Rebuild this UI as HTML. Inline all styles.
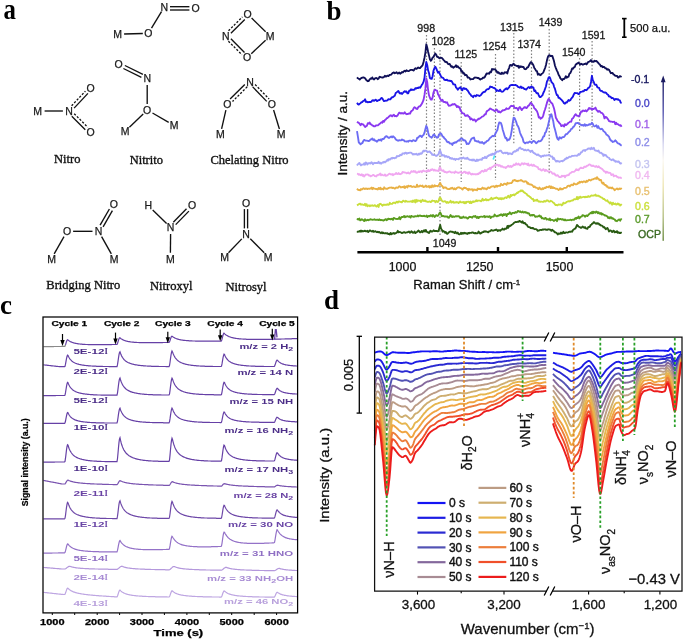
<!DOCTYPE html>
<html><head><meta charset="utf-8"><title>Figure</title><style>
html,body{margin:0;padding:0;background:#fff;}
svg{display:block;will-change:transform;filter:blur(0.3px);}
text{font-family:"Liberation Sans",sans-serif;}
.lbl{font-family:"Liberation Serif",serif;font-weight:bold;font-size:27px;fill:#000;}
.at{font-size:10.5px;text-anchor:middle;fill:#1a1a1a;stroke:#1a1a1a;stroke-width:0.25px;}
.cap{font-family:"Liberation Serif",serif;font-size:12.5px;text-anchor:middle;fill:#111;stroke:#111;stroke-width:0.35px;}
.pl{font-size:10.6px;text-anchor:middle;fill:#1a1a1a;stroke:#1a1a1a;stroke-width:0.3px;}
.bt{font-size:12.4px;text-anchor:middle;fill:#111;stroke:#111;stroke-width:0.25px;}
.bx{font-size:13px;fill:#111;stroke:#111;stroke-width:0.3px;}
.by{font-size:13.6px;text-anchor:middle;fill:#111;stroke:#111;stroke-width:0.3px;}
.sb{font-size:11.2px;fill:#111;stroke:#111;stroke-width:0.25px;}
.pv{font-size:10.6px;stroke-width:0.35px;}
.ct{font-size:8.3px;font-weight:bold;text-anchor:middle;fill:#000;stroke:#000;stroke-width:0.25px;}
.cx{font-size:8.6px;font-weight:bold;text-anchor:middle;fill:#000;stroke:#000;stroke-width:0.25px;}
.cy{font-size:9.8px;font-weight:bold;text-anchor:middle;fill:#000;stroke:#000;stroke-width:0.25px;}
.cc{font-size:7.6px;font-weight:bold;text-anchor:middle;fill:#000;stroke:#000;stroke-width:0.25px;}
.cs{font-size:7.7px;font-weight:bold;}
.cr{font-size:7.6px;font-weight:bold;text-anchor:end;}
.dt{font-size:13.4px;text-anchor:middle;fill:#111;stroke:#111;stroke-width:0.3px;}
.dx{font-size:15px;text-anchor:middle;fill:#111;stroke:#111;stroke-width:0.3px;}
.dy{font-size:13px;text-anchor:middle;fill:#111;stroke:#111;stroke-width:0.3px;}
.ds{font-size:12.9px;text-anchor:middle;fill:#111;stroke:#111;stroke-width:0.3px;}
.dr{font-size:14.5px;text-anchor:middle;fill:#111;stroke:#111;stroke-width:0.3px;}
.dv{font-size:14.8px;text-anchor:end;fill:#111;stroke:#111;stroke-width:0.3px;}
.dl{font-size:12px;fill:#111;stroke:#111;stroke-width:0.4px;}
</style></head><body>
<svg width="685" height="641" viewBox="0 0 685 641">
<text transform="translate(3.4,19.1) scale(0.92,1.09)" class="lbl">a</text>
<text x="326.6" y="19.5" class="lbl">b</text>
<text x="0" y="314" class="lbl">c</text>
<text x="324" y="308.5" class="lbl">d</text>
<text x="117.5" y="38.0" class="at">M</text>
<text x="148.4" y="37.2" class="at">O</text>
<text x="164.4" y="10.6" class="at">N</text>
<text x="195.5" y="12.2" class="at">O</text>
<line x1="124.1" y1="34.0" x2="142.8" y2="33.5" stroke="#111" stroke-width="1.35"/>
<line x1="151.5" y1="28.2" x2="161.5" y2="11.6" stroke="#111" stroke-width="1.35"/>
<line x1="170.0" y1="6.7" x2="189.4" y2="6.7" stroke="#111" stroke-width="1.35"/>
<line x1="170.0" y1="10.0" x2="189.4" y2="10.0" stroke="#111" stroke-width="1.35"/>
<text x="247.6" y="18.0" class="at">O</text>
<text x="225.7" y="39.8" class="at">N</text>
<text x="270.0" y="39.8" class="at">M</text>
<text x="247.2" y="61.4" class="at">O</text>
<line x1="230.9" y1="33.3" x2="244.8" y2="19.4" stroke="#111" stroke-width="1.35"/><line x1="228.5" y1="30.8" x2="242.4" y2="16.9" stroke="#111" stroke-width="1.3" stroke-dasharray="2.2 1.6"/>
<line x1="230.9" y1="38.8" x2="244.5" y2="52.4" stroke="#111" stroke-width="1.35"/><line x1="228.4" y1="41.2" x2="242.0" y2="54.8" stroke="#111" stroke-width="1.3" stroke-dasharray="2.2 1.6"/>
<line x1="251.6" y1="18.1" x2="265.6" y2="31.7" stroke="#111" stroke-width="1.35"/>
<line x1="251.3" y1="53.7" x2="265.6" y2="40.2" stroke="#111" stroke-width="1.35"/>
<text x="37.5" y="114.8" class="at">M</text>
<text x="69.0" y="114.8" class="at">N</text>
<text x="90.5" y="92.0" class="at">O</text>
<text x="90.5" y="136.2" class="at">O</text>
<line x1="44.6" y1="111.0" x2="62.9" y2="111.0" stroke="#111" stroke-width="1.35"/>
<line x1="74.1" y1="108.1" x2="87.9" y2="93.4" stroke="#111" stroke-width="1.35"/><line x1="71.6" y1="105.8" x2="85.4" y2="91.1" stroke="#111" stroke-width="1.3" stroke-dasharray="2.2 1.6"/>
<line x1="71.8" y1="116.2" x2="85.3" y2="129.7" stroke="#111" stroke-width="1.35"/><line x1="74.2" y1="113.7" x2="87.7" y2="127.2" stroke="#111" stroke-width="1.3" stroke-dasharray="2.2 1.6"/>
<text x="118.7" y="68.1" class="at">O</text>
<text x="147.2" y="82.2" class="at">N</text>
<text x="147.2" y="113.8" class="at">O</text>
<text x="125.0" y="135.4" class="at">M</text>
<text x="174.0" y="129.2" class="at">M</text>
<line x1="124.9" y1="65.5" x2="142.9" y2="74.4" stroke="#111" stroke-width="1.35"/><line x1="123.4" y1="68.5" x2="141.4" y2="77.4" stroke="#111" stroke-width="1.35"/>
<line x1="147.2" y1="85.0" x2="147.2" y2="103.9" stroke="#111" stroke-width="1.35"/>
<line x1="143.2" y1="113.9" x2="129.4" y2="127.3" stroke="#111" stroke-width="1.35"/>
<line x1="152.5" y1="113.0" x2="168.7" y2="122.4" stroke="#111" stroke-width="1.35"/>
<text x="250.0" y="85.5" class="at">N</text>
<text x="227.3" y="108.0" class="at">O</text>
<text x="271.8" y="108.0" class="at">O</text>
<text x="220.3" y="138.2" class="at">M</text>
<text x="281.0" y="138.2" class="at">M</text>
<line x1="244.8" y1="84.4" x2="230.1" y2="99.1" stroke="#111" stroke-width="1.35"/><line x1="247.2" y1="86.8" x2="232.5" y2="101.5" stroke="#111" stroke-width="1.3" stroke-dasharray="2.2 1.6"/>
<line x1="252.7" y1="86.9" x2="266.7" y2="101.4" stroke="#111" stroke-width="1.35"/><line x1="255.1" y1="84.5" x2="269.1" y2="99.0" stroke="#111" stroke-width="1.3" stroke-dasharray="2.2 1.6"/>
<line x1="225.9" y1="110.1" x2="221.6" y2="128.9" stroke="#111" stroke-width="1.35"/>
<line x1="273.6" y1="110.0" x2="279.4" y2="129.0" stroke="#111" stroke-width="1.35"/>
<text x="113.9" y="208.3" class="at">O</text>
<text x="98.6" y="235.1" class="at">N</text>
<text x="67.0" y="235.1" class="at">O</text>
<text x="51.5" y="262.6" class="at">M</text>
<text x="114.0" y="262.6" class="at">M</text>
<line x1="100.1" y1="225.2" x2="109.4" y2="209.0" stroke="#111" stroke-width="1.35"/><line x1="103.1" y1="226.8" x2="112.4" y2="210.6" stroke="#111" stroke-width="1.35"/>
<line x1="73.1" y1="231.3" x2="92.5" y2="231.3" stroke="#111" stroke-width="1.35"/>
<line x1="64.0" y1="236.6" x2="54.2" y2="253.9" stroke="#111" stroke-width="1.35"/>
<line x1="101.6" y1="236.6" x2="111.3" y2="253.9" stroke="#111" stroke-width="1.35"/>
<text x="148.3" y="209.4" class="at">H</text>
<text x="192.0" y="209.4" class="at">O</text>
<text x="170.6" y="231.2" class="at">N</text>
<text x="170.4" y="262.6" class="at">M</text>
<line x1="152.7" y1="209.9" x2="166.6" y2="223.5" stroke="#111" stroke-width="1.35"/>
<line x1="173.3" y1="222.2" x2="186.5" y2="208.8" stroke="#111" stroke-width="1.35"/><line x1="175.7" y1="224.6" x2="188.9" y2="211.1" stroke="#111" stroke-width="1.35"/>
<line x1="170.6" y1="234.0" x2="170.4" y2="252.7" stroke="#111" stroke-width="1.35"/>
<text x="246.0" y="206.8" class="at">O</text>
<text x="246.0" y="238.3" class="at">N</text>
<text x="224.6" y="260.5" class="at">M</text>
<text x="268.2" y="260.5" class="at">M</text>
<line x1="247.6" y1="209.1" x2="247.6" y2="228.4" stroke="#111" stroke-width="1.35"/><line x1="244.4" y1="209.1" x2="244.4" y2="228.4" stroke="#111" stroke-width="1.35"/>
<line x1="241.8" y1="238.9" x2="228.5" y2="252.7" stroke="#111" stroke-width="1.35"/>
<line x1="250.3" y1="238.8" x2="264.2" y2="252.7" stroke="#111" stroke-width="1.35"/>
<text x="67.2" y="163" class="cap">Nitro</text>
<text x="146.3" y="163.5" class="cap">Nitrito</text>
<text x="249.5" y="163.6" class="cap">Chelating Nitro</text>
<text x="83.3" y="289" class="cap">Bridging Nitro</text>
<text x="171.2" y="290.4" class="cap">Nitroxyl</text>
<text x="246" y="291.2" class="cap">Nitrosyl</text>
<line x1="426.5" y1="35" x2="426.5" y2="180" stroke="#808080" stroke-width="1.2" stroke-dasharray="1.5 1.9"/>
<line x1="434.4" y1="48" x2="434.4" y2="156" stroke="#808080" stroke-width="1.2" stroke-dasharray="1.5 1.9"/>
<line x1="440" y1="50" x2="440" y2="237" stroke="#808080" stroke-width="1.2" stroke-dasharray="1.5 1.9"/>
<line x1="461.2" y1="62" x2="461.2" y2="182" stroke="#808080" stroke-width="1.2" stroke-dasharray="1.5 1.9"/>
<line x1="495.5" y1="54" x2="495.5" y2="180" stroke="#808080" stroke-width="1.2" stroke-dasharray="1.5 1.9"/>
<line x1="513.8" y1="33" x2="513.8" y2="145" stroke="#808080" stroke-width="1.2" stroke-dasharray="1.5 1.9"/>
<line x1="531.5" y1="50" x2="531.5" y2="145" stroke="#808080" stroke-width="1.2" stroke-dasharray="1.5 1.9"/>
<line x1="549.2" y1="29" x2="549.2" y2="175" stroke="#808080" stroke-width="1.2" stroke-dasharray="1.5 1.9"/>
<line x1="579.6" y1="58" x2="579.6" y2="131" stroke="#808080" stroke-width="1.2" stroke-dasharray="1.5 1.9"/>
<line x1="592.1" y1="41" x2="592.1" y2="129" stroke="#808080" stroke-width="1.2" stroke-dasharray="1.5 1.9"/>
<polyline fill="none" stroke="#101058" stroke-width="1.85" stroke-linejoin="round" points="357.0,77.3 357.9,78.3 358.8,78.8 359.7,79.5 360.6,78.6 361.5,78.0 362.4,77.7 363.3,77.4 364.2,77.7 365.1,78.3 366.0,79.6 366.9,80.6 367.8,81.2 368.7,81.0 369.6,79.5 370.5,78.5 371.4,78.8 372.3,77.4 373.2,78.9 374.1,79.5 375.0,78.4 375.9,78.0 376.8,78.2 377.7,79.2 378.6,78.6 379.5,76.8 380.4,77.0 381.3,77.4 382.2,77.5 383.1,77.5 384.0,77.0 384.9,75.7 385.8,76.6 386.7,76.1 387.6,75.7 388.5,76.1 389.4,75.0 390.3,74.8 391.2,74.6 392.1,73.5 393.0,72.8 393.9,72.4 394.8,73.2 395.7,72.8 396.6,72.2 397.5,73.5 398.4,73.3 399.3,72.5 400.2,73.7 401.1,73.1 402.0,72.0 402.9,72.5 403.8,71.2 404.7,70.7 405.6,71.5 406.5,70.2 407.4,70.9 408.3,71.1 409.2,70.9 410.1,70.1 411.0,69.8 411.9,69.8 412.8,70.2 413.7,70.5 414.6,69.0 415.5,68.3 416.4,68.9 417.3,68.3 418.2,67.5 419.1,68.1 420.0,68.1 420.9,67.0 421.8,66.2 422.7,65.0 423.6,61.8 424.5,57.7 425.4,52.6 426.3,44.3 427.2,47.5 428.1,51.8 429.0,55.4 429.9,59.2 430.8,60.8 431.7,59.7 432.6,57.5 433.5,57.0 434.4,55.1 435.3,53.5 436.2,54.7 437.1,56.8 438.0,57.0 438.9,57.9 439.8,58.3 440.7,57.6 441.6,57.8 442.5,58.6 443.4,59.8 444.3,60.7 445.2,61.8 446.1,62.0 447.0,62.2 447.9,63.9 448.8,64.2 449.7,64.0 450.6,65.6 451.5,66.9 452.4,66.4 453.3,67.8 454.2,67.0 455.1,66.6 456.0,65.2 456.9,67.0 457.8,66.3 458.7,67.6 459.6,68.0 460.5,68.8 461.4,71.6 462.3,71.2 463.2,73.5 464.1,73.2 465.0,75.2 465.9,74.8 466.8,75.3 467.7,77.6 468.6,77.5 469.5,78.1 470.4,79.5 471.3,79.1 472.2,79.2 473.1,79.1 474.0,78.1 474.9,77.5 475.8,77.6 476.7,77.7 477.6,78.1 478.5,77.9 479.4,78.9 480.3,79.6 481.2,78.8 482.1,78.8 483.0,77.6 483.9,77.8 484.8,77.0 485.7,75.2 486.6,73.5 487.5,73.7 488.4,73.3 489.3,73.7 490.2,71.8 491.1,72.2 492.0,68.9 492.9,69.6 493.8,69.2 494.7,69.3 495.6,69.9 496.5,71.0 497.4,72.7 498.3,72.1 499.2,73.6 500.1,73.4 501.0,74.1 501.9,72.6 502.8,73.8 503.7,73.7 504.6,72.3 505.5,72.5 506.4,72.1 507.3,73.4 508.2,69.9 509.1,68.1 510.0,65.1 510.9,64.9 511.8,65.8 512.7,64.7 513.6,63.7 514.5,65.0 515.4,65.3 516.3,65.8 517.2,66.3 518.1,65.8 519.0,67.9 519.9,66.1 520.8,67.1 521.7,66.4 522.6,67.1 523.5,67.0 524.4,68.8 525.3,69.2 526.2,68.9 527.1,67.5 528.0,67.4 528.9,65.5 529.8,63.7 530.7,62.1 531.6,62.5 532.5,63.7 533.4,65.2 534.3,68.0 535.2,69.1 536.1,70.9 537.0,71.2 537.9,74.7 538.8,73.8 539.7,74.9 540.6,75.2 541.5,73.9 542.4,73.5 543.3,72.5 544.2,70.2 545.1,68.0 546.0,64.9 546.9,60.6 547.8,57.2 548.7,55.3 549.6,55.2 550.5,56.1 551.4,55.8 552.3,55.9 553.2,58.6 554.1,61.6 555.0,65.7 555.9,68.1 556.8,70.3 557.7,72.1 558.6,74.8 559.5,76.2 560.4,78.4 561.3,79.2 562.2,80.2 563.1,78.9 564.0,79.0 564.9,78.1 565.8,76.2 566.7,77.7 567.6,77.0 568.5,76.7 569.4,73.8 570.3,73.1 571.2,71.1 572.1,68.5 573.0,68.8 573.9,67.3 574.8,67.0 575.7,64.5 576.6,63.9 577.5,63.4 578.4,62.6 579.3,63.6 580.2,64.5 581.1,63.8 582.0,64.2 582.9,64.7 583.8,64.2 584.7,64.0 585.6,63.4 586.5,64.4 587.4,63.1 588.3,61.9 589.2,61.6 590.1,61.2 591.0,60.1 591.9,61.7 592.8,61.5 593.7,61.8 594.6,60.7 595.5,61.2 596.4,60.9 597.3,62.0 598.2,62.8 599.1,63.8 600.0,64.7 600.9,66.4 601.8,65.9 602.7,67.2 603.6,66.8 604.5,67.2 605.4,68.4 606.3,68.4 607.2,69.7 608.1,69.3 609.0,69.8 609.9,71.4 610.8,73.2 611.7,73.0 612.6,72.9 613.5,74.4 614.4,74.8 615.3,75.8 616.2,75.8 617.1,76.0 618.0,77.5 618.9,77.3 619.8,76.1 620.7,76.4 621.6,77.0"/>
<polyline fill="none" stroke="#1a14e6" stroke-width="1.85" stroke-linejoin="round" points="357.0,102.8 357.9,104.1 358.8,104.6 359.7,103.7 360.6,103.2 361.5,102.2 362.4,102.0 363.3,100.8 364.2,100.8 365.1,99.3 366.0,102.0 366.9,101.6 367.8,102.4 368.7,102.0 369.6,101.9 370.5,102.1 371.4,101.7 372.3,100.4 373.2,100.2 374.1,100.9 375.0,100.1 375.9,99.7 376.8,101.1 377.7,100.8 378.6,100.1 379.5,100.0 380.4,99.1 381.3,98.0 382.2,98.1 383.1,99.8 384.0,101.1 384.9,100.9 385.8,100.6 386.7,100.7 387.6,100.2 388.5,99.1 389.4,99.3 390.3,99.4 391.2,98.1 392.1,97.2 393.0,97.2 393.9,96.3 394.8,95.7 395.7,93.0 396.6,92.4 397.5,91.6 398.4,91.0 399.3,92.7 400.2,93.5 401.1,92.9 402.0,94.0 402.9,93.0 403.8,91.9 404.7,91.2 405.6,91.9 406.5,91.4 407.4,93.4 408.3,93.3 409.2,90.7 410.1,90.5 411.0,89.3 411.9,90.0 412.8,89.6 413.7,89.8 414.6,89.6 415.5,88.1 416.4,88.5 417.3,87.8 418.2,88.1 419.1,87.3 420.0,87.8 420.9,86.7 421.8,84.9 422.7,83.7 423.6,81.7 424.5,77.8 425.4,68.5 426.3,61.9 427.2,64.9 428.1,70.3 429.0,73.0 429.9,78.0 430.8,78.7 431.7,78.9 432.6,76.2 433.5,70.6 434.4,68.2 435.3,66.7 436.2,68.4 437.1,70.7 438.0,72.7 438.9,71.8 439.8,73.8 440.7,75.7 441.6,77.3 442.5,77.7 443.4,78.1 444.3,79.7 445.2,80.0 446.1,80.0 447.0,79.7 447.9,80.6 448.8,80.7 449.7,80.7 450.6,81.0 451.5,81.0 452.4,82.4 453.3,84.3 454.2,84.3 455.1,84.6 456.0,87.6 456.9,88.2 457.8,89.7 458.7,88.4 459.6,87.8 460.5,87.2 461.4,89.2 462.3,90.3 463.2,88.1 464.1,88.1 465.0,89.0 465.9,88.6 466.8,89.7 467.7,90.5 468.6,91.9 469.5,93.7 470.4,94.2 471.3,95.9 472.2,96.2 473.1,97.2 474.0,95.6 474.9,95.6 475.8,96.4 476.7,95.0 477.6,95.4 478.5,95.5 479.4,96.0 480.3,95.4 481.2,94.8 482.1,93.3 483.0,92.3 483.9,92.0 484.8,91.9 485.7,90.7 486.6,89.7 487.5,89.1 488.4,89.2 489.3,88.3 490.2,86.5 491.1,87.0 492.0,86.9 492.9,87.6 493.8,88.0 494.7,88.2 495.6,89.0 496.5,91.1 497.4,90.3 498.3,90.8 499.2,91.1 500.1,89.6 501.0,91.2 501.9,91.8 502.8,91.7 503.7,90.8 504.6,89.6 505.5,89.1 506.4,88.3 507.3,89.3 508.2,88.2 509.1,87.4 510.0,85.5 510.9,85.1 511.8,85.0 512.7,85.0 513.6,85.2 514.5,85.1 515.4,84.9 516.3,85.4 517.2,85.8 518.1,87.0 519.0,87.2 519.9,87.7 520.8,86.5 521.7,88.0 522.6,87.4 523.5,88.1 524.4,89.0 525.3,89.1 526.2,89.6 527.1,88.5 528.0,87.5 528.9,87.0 529.8,88.1 530.7,87.1 531.6,86.4 532.5,87.5 533.4,87.5 534.3,91.1 535.2,90.4 536.1,92.5 537.0,93.3 537.9,93.2 538.8,95.5 539.7,97.1 540.6,97.1 541.5,96.2 542.4,95.3 543.3,93.0 544.2,91.1 545.1,88.7 546.0,86.2 546.9,81.7 547.8,79.8 548.7,77.3 549.6,77.1 550.5,79.2 551.4,81.8 552.3,82.9 553.2,83.8 554.1,86.8 555.0,88.9 555.9,92.2 556.8,95.0 557.7,95.2 558.6,97.9 559.5,97.8 560.4,99.0 561.3,99.6 562.2,100.6 563.1,101.8 564.0,103.3 564.9,103.8 565.8,102.4 566.7,102.6 567.6,101.4 568.5,100.0 569.4,100.8 570.3,100.3 571.2,98.6 572.1,97.7 573.0,96.4 573.9,94.2 574.8,92.9 575.7,93.2 576.6,93.1 577.5,93.2 578.4,94.0 579.3,93.9 580.2,91.8 581.1,91.8 582.0,91.6 582.9,91.2 583.8,91.2 584.7,89.9 585.6,90.0 586.5,90.2 587.4,89.1 588.3,87.8 589.2,87.6 590.1,86.1 591.0,82.0 591.9,75.8 592.8,80.1 593.7,81.9 594.6,84.4 595.5,84.8 596.4,84.7 597.3,87.1 598.2,87.6 599.1,87.9 600.0,90.3 600.9,90.9 601.8,90.8 602.7,91.8 603.6,92.3 604.5,92.5 605.4,92.4 606.3,93.1 607.2,94.3 608.1,94.8 609.0,96.5 609.9,96.4 610.8,97.1 611.7,98.2 612.6,98.0 613.5,98.6 614.4,100.0 615.3,99.2 616.2,98.9 617.1,99.5 618.0,99.2 618.9,100.0 619.8,100.4 620.7,102.7 621.6,103.0"/>
<polyline fill="none" stroke="#8a38f0" stroke-width="1.85" stroke-linejoin="round" points="357.0,121.7 357.9,122.4 358.8,122.9 359.7,123.9 360.6,125.2 361.5,123.7 362.4,124.3 363.3,124.4 364.2,125.8 365.1,127.0 366.0,126.2 366.9,125.8 367.8,123.2 368.7,123.6 369.6,122.5 370.5,124.3 371.4,124.4 372.3,125.5 373.2,125.7 374.1,126.4 375.0,126.3 375.9,125.5 376.8,125.3 377.7,125.4 378.6,124.7 379.5,123.9 380.4,123.2 381.3,122.3 382.2,122.8 383.1,120.9 384.0,121.8 384.9,120.1 385.8,119.5 386.7,118.2 387.6,118.0 388.5,117.0 389.4,116.3 390.3,115.3 391.2,115.5 392.1,116.4 393.0,115.3 393.9,114.7 394.8,116.2 395.7,116.0 396.6,116.3 397.5,115.6 398.4,114.1 399.3,112.6 400.2,113.2 401.1,113.6 402.0,113.0 402.9,113.5 403.8,113.5 404.7,112.3 405.6,113.6 406.5,114.2 407.4,114.0 408.3,113.9 409.2,113.4 410.1,113.5 411.0,111.5 411.9,110.7 412.8,110.2 413.7,108.2 414.6,107.2 415.5,107.7 416.4,108.9 417.3,109.0 418.2,107.3 419.1,106.3 420.0,106.3 420.9,105.2 421.8,103.7 422.7,102.0 423.6,99.6 424.5,94.9 425.4,88.7 426.3,78.5 427.2,81.9 428.1,90.0 429.0,95.3 429.9,97.8 430.8,99.5 431.7,99.6 432.6,97.4 433.5,92.5 434.4,90.2 435.3,89.8 436.2,90.4 437.1,90.6 438.0,94.3 438.9,95.6 439.8,97.9 440.7,99.7 441.6,100.8 442.5,99.8 443.4,101.9 444.3,102.0 445.2,102.0 446.1,102.7 447.0,102.2 447.9,104.2 448.8,105.8 449.7,105.6 450.6,105.5 451.5,104.9 452.4,104.2 453.3,104.5 454.2,104.0 455.1,104.3 456.0,105.4 456.9,107.0 457.8,106.1 458.7,107.4 459.6,107.2 460.5,110.6 461.4,111.6 462.3,113.2 463.2,113.4 464.1,113.7 465.0,115.6 465.9,116.0 466.8,115.3 467.7,115.2 468.6,116.7 469.5,116.9 470.4,119.5 471.3,118.4 472.2,119.4 473.1,120.2 474.0,119.4 474.9,119.9 475.8,121.5 476.7,120.3 477.6,119.8 478.5,118.7 479.4,118.9 480.3,118.1 481.2,117.4 482.1,116.6 483.0,116.4 483.9,115.6 484.8,114.3 485.7,114.4 486.6,111.5 487.5,110.7 488.4,110.2 489.3,109.5 490.2,108.4 491.1,109.0 492.0,109.6 492.9,109.8 493.8,110.4 494.7,111.1 495.6,110.7 496.5,109.5 497.4,110.4 498.3,112.1 499.2,111.4 500.1,112.5 501.0,111.9 501.9,111.0 502.8,110.2 503.7,110.3 504.6,109.9 505.5,109.6 506.4,108.3 507.3,108.9 508.2,108.9 509.1,108.4 510.0,107.0 510.9,106.0 511.8,105.8 512.7,106.1 513.6,106.0 514.5,107.7 515.4,108.2 516.3,107.9 517.2,108.3 518.1,110.2 519.0,107.8 519.9,107.1 520.8,108.5 521.7,110.1 522.6,108.8 523.5,108.3 524.4,107.2 525.3,107.2 526.2,108.1 527.1,107.6 528.0,106.1 528.9,105.4 529.8,104.1 530.7,102.7 531.6,103.5 532.5,104.8 533.4,105.7 534.3,108.3 535.2,108.9 536.1,110.1 537.0,111.3 537.9,113.8 538.8,117.5 539.7,117.2 540.6,118.8 541.5,118.1 542.4,117.4 543.3,115.3 544.2,111.8 545.1,109.3 546.0,106.3 546.9,102.9 547.8,100.2 548.7,98.9 549.6,100.1 550.5,101.8 551.4,102.9 552.3,103.6 553.2,106.0 554.1,108.7 555.0,112.9 555.9,117.8 556.8,119.3 557.7,121.1 558.6,121.9 559.5,123.3 560.4,124.0 561.3,126.1 562.2,125.6 563.1,125.2 564.0,126.6 564.9,124.1 565.8,125.1 566.7,124.6 567.6,123.8 568.5,122.7 569.4,122.2 570.3,121.6 571.2,121.7 572.1,118.7 573.0,118.2 573.9,116.8 574.8,115.1 575.7,114.2 576.6,115.6 577.5,115.6 578.4,116.4 579.3,115.8 580.2,113.8 581.1,111.5 582.0,111.7 582.9,110.5 583.8,110.8 584.7,111.1 585.6,110.3 586.5,111.4 587.4,110.5 588.3,109.2 589.2,107.9 590.1,108.8 591.0,108.3 591.9,109.8 592.8,108.7 593.7,109.1 594.6,108.5 595.5,107.6 596.4,109.9 597.3,110.7 598.2,111.8 599.1,110.9 600.0,111.6 600.9,112.8 601.8,112.8 602.7,113.7 603.6,115.1 604.5,118.4 605.4,116.9 606.3,117.1 607.2,118.2 608.1,119.4 609.0,121.0 609.9,121.3 610.8,121.7 611.7,121.6 612.6,122.0 613.5,121.9 614.4,121.7 615.3,124.2 616.2,122.8 617.1,124.2 618.0,124.1 618.9,125.0 619.8,125.5 620.7,125.2 621.6,126.7"/>
<polyline fill="none" stroke="#6c6cf4" stroke-width="1.85" stroke-linejoin="round" points="357.0,131.1 357.9,136.7 358.8,142.5 359.7,143.3 360.6,144.3 361.5,143.3 362.4,143.0 363.3,141.0 364.2,139.9 365.1,140.4 366.0,140.7 366.9,140.6 367.8,140.8 368.7,141.1 369.6,140.6 370.5,139.5 371.4,139.3 372.3,138.4 373.2,140.2 374.1,139.3 375.0,140.7 375.9,140.7 376.8,141.7 377.7,141.0 378.6,139.8 379.5,140.3 380.4,139.4 381.3,140.8 382.2,138.9 383.1,139.1 384.0,138.6 384.9,137.3 385.8,136.5 386.7,136.2 387.6,136.9 388.5,137.9 389.4,137.8 390.3,137.1 391.2,136.4 392.1,137.4 393.0,136.2 393.9,137.1 394.8,137.7 395.7,139.4 396.6,139.9 397.5,140.5 398.4,140.7 399.3,140.1 400.2,140.3 401.1,140.3 402.0,139.4 402.9,140.1 403.8,140.2 404.7,141.3 405.6,141.4 406.5,141.6 407.4,141.2 408.3,141.7 409.2,140.6 410.1,140.7 411.0,140.8 411.9,141.4 412.8,140.5 413.7,140.2 414.6,140.8 415.5,141.0 416.4,140.2 417.3,137.6 418.2,137.6 419.1,136.5 420.0,135.7 420.9,136.0 421.8,137.1 422.7,135.6 423.6,134.8 424.5,132.7 425.4,129.0 426.3,125.8 427.2,127.9 428.1,132.3 429.0,135.7 429.9,136.6 430.8,137.0 431.7,137.7 432.6,136.3 433.5,134.7 434.4,134.6 435.3,136.3 436.2,137.0 437.1,137.7 438.0,137.4 438.9,134.6 439.8,133.9 440.7,133.2 441.6,134.4 442.5,136.5 443.4,136.6 444.3,138.2 445.2,139.0 446.1,140.0 447.0,141.7 447.9,142.2 448.8,142.0 449.7,143.4 450.6,143.5 451.5,143.7 452.4,145.0 453.3,142.8 454.2,143.0 455.1,142.1 456.0,142.6 456.9,141.7 457.8,140.9 458.7,140.3 459.6,140.5 460.5,138.8 461.4,138.6 462.3,138.5 463.2,140.4 464.1,140.1 465.0,140.4 465.9,141.6 466.8,144.1 467.7,143.4 468.6,144.0 469.5,142.7 470.4,140.8 471.3,139.0 472.2,138.3 473.1,138.0 474.0,137.4 474.9,140.8 475.8,140.9 476.7,141.3 477.6,141.5 478.5,141.2 479.4,142.5 480.3,142.3 481.2,142.9 482.1,142.0 483.0,143.0 483.9,143.8 484.8,142.4 485.7,142.5 486.6,141.2 487.5,140.9 488.4,140.3 489.3,139.0 490.2,137.8 491.1,137.2 492.0,136.3 492.9,135.8 493.8,136.2 494.7,135.4 495.6,133.2 496.5,131.5 497.4,130.1 498.3,125.6 499.2,122.5 500.1,122.7 501.0,123.1 501.9,125.9 502.8,130.0 503.7,132.7 504.6,135.9 505.5,138.3 506.4,138.0 507.3,140.6 508.2,139.6 509.1,139.8 510.0,138.2 510.9,135.2 511.8,130.0 512.7,123.2 513.6,117.6 514.5,118.0 515.4,120.0 516.3,122.2 517.2,125.2 518.1,126.3 519.0,128.6 519.9,132.2 520.8,134.7 521.7,136.5 522.6,138.1 523.5,141.8 524.4,142.7 525.3,143.4 526.2,142.6 527.1,142.4 528.0,142.9 528.9,142.1 529.8,141.5 530.7,142.0 531.6,143.0 532.5,141.8 533.4,141.0 534.3,141.2 535.2,141.9 536.1,143.3 537.0,142.7 537.9,141.7 538.8,141.0 539.7,141.4 540.6,141.2 541.5,140.2 542.4,138.7 543.3,136.5 544.2,136.3 545.1,132.7 546.0,132.1 546.9,128.8 547.8,126.5 548.7,122.4 549.6,118.6 550.5,114.7 551.4,114.3 552.3,117.8 553.2,120.9 554.1,126.6 555.0,129.5 555.9,133.0 556.8,137.0 557.7,139.0 558.6,139.8 559.5,137.3 560.4,137.7 561.3,138.5 562.2,137.2 563.1,137.1 564.0,137.1 564.9,135.7 565.8,134.1 566.7,134.2 567.6,133.5 568.5,132.3 569.4,131.4 570.3,130.7 571.2,128.9 572.1,128.7 573.0,127.1 573.9,126.6 574.8,125.2 575.7,123.2 576.6,123.2 577.5,123.0 578.4,123.0 579.3,124.1 580.2,124.3 581.1,125.0 582.0,125.3 582.9,125.0 583.8,125.7 584.7,124.1 585.6,125.7 586.5,124.9 587.4,125.4 588.3,125.0 589.2,124.2 590.1,124.5 591.0,124.2 591.9,122.8 592.8,123.9 593.7,125.8 594.6,126.4 595.5,126.0 596.4,125.3 597.3,127.8 598.2,126.1 599.1,128.2 600.0,128.7 600.9,129.3 601.8,128.8 602.7,129.6 603.6,131.3 604.5,131.8 605.4,132.7 606.3,134.4 607.2,135.1 608.1,135.8 609.0,136.7 609.9,139.1 610.8,140.4 611.7,140.9 612.6,142.0 613.5,141.7 614.4,141.4 615.3,140.3 616.2,141.2 617.1,142.5 618.0,143.4 618.9,143.6 619.8,144.1 620.7,145.1 621.6,145.7"/>
<polyline fill="none" stroke="#a6a6f8" stroke-width="1.85" stroke-linejoin="round" points="357.0,165.5 357.8,164.2 358.6,163.7 359.4,162.9 360.2,164.5 361.0,165.4 361.8,164.5 362.6,164.6 363.4,164.6 364.2,163.2 365.0,164.7 365.8,162.4 366.6,163.0 367.4,164.5 368.2,163.2 369.0,163.4 369.8,163.0 370.6,163.5 371.4,162.2 372.2,163.0 373.0,164.2 373.8,163.2 374.6,162.8 375.4,163.0 376.2,163.0 377.0,162.8 377.8,163.0 378.6,161.8 379.4,163.2 380.2,162.7 381.0,163.7 381.8,163.1 382.6,162.3 383.4,162.6 384.2,161.7 385.0,162.4 385.8,161.4 386.6,161.3 387.4,159.6 388.2,160.5 389.0,159.0 389.8,159.6 390.6,159.1 391.4,157.9 392.2,158.5 393.0,157.8 393.8,158.0 394.6,158.3 395.4,157.7 396.2,157.7 397.0,156.0 397.8,156.4 398.6,156.0 399.4,156.0 400.2,154.8 401.0,155.2 401.8,154.8 402.6,153.3 403.4,153.3 404.2,153.8 405.0,152.8 405.8,152.6 406.6,153.7 407.4,153.3 408.2,152.9 409.0,153.0 409.8,152.7 410.6,152.6 411.4,152.9 412.2,153.7 413.0,154.6 413.8,153.9 414.6,154.4 415.4,154.3 416.2,153.7 417.0,154.6 417.8,154.9 418.6,153.7 419.4,154.4 420.2,153.3 421.0,153.9 421.8,153.5 422.6,152.0 423.4,150.6 424.2,151.2 425.0,150.6 425.8,150.6 426.6,151.2 427.4,152.2 428.2,151.6 429.0,151.8 429.8,151.4 430.6,152.8 431.4,153.1 432.2,154.8 433.0,154.7 433.8,155.1 434.6,155.2 435.4,155.3 436.2,156.0 437.0,155.6 437.8,154.8 438.6,154.2 439.4,151.3 440.2,150.5 441.0,152.8 441.8,155.7 442.6,155.0 443.4,155.6 444.2,155.3 445.0,156.9 445.8,156.0 446.6,156.1 447.4,157.2 448.2,156.7 449.0,156.9 449.8,158.3 450.6,157.9 451.4,158.8 452.2,158.2 453.0,159.0 453.8,159.3 454.6,158.8 455.4,159.9 456.2,158.9 457.0,159.1 457.8,159.1 458.6,159.4 459.4,158.4 460.2,158.1 461.0,158.2 461.8,158.7 462.6,157.8 463.4,157.5 464.2,158.2 465.0,158.7 465.8,158.2 466.6,158.7 467.4,157.7 468.2,159.0 469.0,159.4 469.8,159.9 470.6,159.8 471.4,160.2 472.2,159.5 473.0,160.6 473.8,159.4 474.6,160.1 475.4,161.1 476.2,161.0 477.0,159.5 477.8,160.9 478.6,160.1 479.4,159.6 480.2,159.7 481.0,159.4 481.8,159.8 482.6,157.9 483.4,158.2 484.2,158.0 485.0,156.8 485.8,158.1 486.6,158.0 487.4,156.1 488.2,156.0 489.0,155.2 489.8,155.2 490.6,154.5 491.4,155.0 492.2,153.6 493.0,154.6 493.8,153.8 494.6,154.6 495.4,152.1 496.2,152.6 497.0,151.4 497.8,151.6 498.6,151.6 499.4,150.8 500.2,150.6 501.0,150.7 501.8,152.1 502.6,153.0 503.4,153.3 504.2,152.9 505.0,152.6 505.8,153.2 506.6,152.7 507.4,152.7 508.2,154.2 509.0,153.3 509.8,153.7 510.6,153.4 511.4,154.2 512.2,154.0 513.0,152.3 513.8,151.9 514.6,151.1 515.4,151.6 516.2,151.0 517.0,149.6 517.8,150.5 518.6,148.8 519.4,147.9 520.2,147.5 521.0,148.7 521.8,149.1 522.6,148.9 523.4,149.6 524.2,150.3 525.0,149.6 525.8,150.1 526.6,150.5 527.4,150.0 528.2,149.7 529.0,150.5 529.8,150.9 530.6,152.0 531.4,150.8 532.2,150.6 533.0,152.3 533.8,153.0 534.6,153.2 535.4,154.2 536.2,154.4 537.0,155.2 537.8,154.4 538.6,154.9 539.4,155.8 540.2,155.8 541.0,156.9 541.8,156.3 542.6,155.7 543.4,156.2 544.2,155.3 545.0,155.6 545.8,155.7 546.6,155.3 547.4,155.4 548.2,155.4 549.0,154.7 549.8,155.2 550.6,156.3 551.4,156.6 552.2,156.5 553.0,159.0 553.8,157.8 554.6,159.5 555.4,160.5 556.2,161.6 557.0,160.8 557.8,161.4 558.6,161.2 559.4,161.9 560.2,161.3 561.0,161.1 561.8,160.9 562.6,161.4 563.4,160.4 564.2,160.3 565.0,158.9 565.8,159.2 566.6,157.6 567.4,158.4 568.2,157.7 569.0,157.0 569.8,156.6 570.6,156.8 571.4,156.5 572.2,155.8 573.0,155.9 573.8,155.8 574.6,155.6 575.4,155.6 576.2,155.6 577.0,155.9 577.8,155.2 578.6,154.1 579.4,154.7 580.2,153.8 581.0,152.3 581.8,152.4 582.6,150.9 583.4,150.3 584.2,150.0 585.0,151.0 585.8,149.9 586.6,149.7 587.4,149.2 588.2,148.5 589.0,148.7 589.8,148.5 590.6,149.2 591.4,147.6 592.2,149.0 593.0,148.7 593.8,147.8 594.6,149.8 595.4,150.6 596.2,150.7 597.0,150.7 597.8,151.2 598.6,150.6 599.4,152.5 600.2,152.9 601.0,152.7 601.8,153.6 602.6,153.6 603.4,155.9 604.2,154.6 605.0,155.3 605.8,155.0 606.6,156.3 607.4,157.0 608.2,157.5 609.0,157.8 609.8,159.2 610.6,159.3 611.4,160.2 612.2,159.8 613.0,159.3 613.8,160.6 614.6,160.5 615.4,161.8 616.2,161.3 617.0,161.6 617.8,161.9 618.6,161.4 619.4,162.4 620.2,163.6 621.0,163.2 621.8,163.8"/>
<polyline fill="none" stroke="#f0a6f0" stroke-width="1.85" stroke-linejoin="round" points="357.0,173.5 357.8,173.8 358.6,174.7 359.4,174.3 360.2,175.0 361.0,175.3 361.8,174.2 362.6,175.8 363.4,174.9 364.2,176.5 365.0,175.5 365.8,174.5 366.6,174.6 367.4,174.5 368.2,174.7 369.0,175.6 369.8,175.4 370.6,176.3 371.4,175.9 372.2,175.6 373.0,175.0 373.8,175.0 374.6,176.0 375.4,176.2 376.2,176.5 377.0,175.1 377.8,175.3 378.6,174.6 379.4,174.7 380.2,173.6 381.0,175.3 381.8,174.5 382.6,175.0 383.4,175.4 384.2,175.4 385.0,174.4 385.8,175.9 386.6,175.5 387.4,175.3 388.2,174.6 389.0,173.9 389.8,173.7 390.6,174.4 391.4,174.5 392.2,174.0 393.0,175.3 393.8,174.2 394.6,174.3 395.4,174.0 396.2,172.9 397.0,174.1 397.8,173.9 398.6,173.0 399.4,174.1 400.2,174.2 401.0,173.8 401.8,173.5 402.6,171.9 403.4,172.4 404.2,172.3 405.0,172.6 405.8,172.6 406.6,173.3 407.4,173.2 408.2,172.4 409.0,173.3 409.8,173.5 410.6,172.5 411.4,171.2 412.2,171.6 413.0,171.8 413.8,171.0 414.6,171.9 415.4,171.3 416.2,172.7 417.0,172.8 417.8,172.3 418.6,171.4 419.4,172.0 420.2,171.3 421.0,171.2 421.8,172.2 422.6,171.0 423.4,170.4 424.2,171.2 425.0,171.4 425.8,171.3 426.6,170.8 427.4,171.4 428.2,169.9 429.0,171.2 429.8,171.1 430.6,169.7 431.4,170.1 432.2,169.2 433.0,169.5 433.8,170.6 434.6,169.7 435.4,170.6 436.2,170.7 437.0,170.5 437.8,170.9 438.6,171.1 439.4,167.8 440.2,167.4 441.0,169.8 441.8,170.4 442.6,170.8 443.4,170.2 444.2,171.9 445.0,172.2 445.8,171.8 446.6,172.6 447.4,172.3 448.2,171.9 449.0,171.6 449.8,171.4 450.6,172.1 451.4,172.5 452.2,172.3 453.0,172.3 453.8,172.3 454.6,172.9 455.4,171.4 456.2,172.1 457.0,172.3 457.8,172.8 458.6,172.8 459.4,172.4 460.2,172.2 461.0,171.9 461.8,173.2 462.6,172.8 463.4,172.5 464.2,171.8 465.0,171.6 465.8,173.0 466.6,172.4 467.4,172.8 468.2,173.8 469.0,172.2 469.8,173.0 470.6,174.0 471.4,174.5 472.2,173.7 473.0,174.4 473.8,174.1 474.6,174.1 475.4,174.5 476.2,174.2 477.0,174.4 477.8,173.8 478.6,174.0 479.4,172.6 480.2,173.1 481.0,171.7 481.8,171.0 482.6,170.8 483.4,171.7 484.2,171.2 485.0,169.8 485.8,171.1 486.6,170.6 487.4,169.5 488.2,169.0 489.0,168.8 489.8,167.7 490.6,169.3 491.4,167.3 492.2,167.1 493.0,166.6 493.8,166.0 494.6,165.3 495.4,165.6 496.2,164.6 497.0,164.7 497.8,164.9 498.6,165.9 499.4,165.1 500.2,165.6 501.0,166.7 501.8,166.1 502.6,166.6 503.4,167.3 504.2,167.3 505.0,167.2 505.8,168.1 506.6,166.9 507.4,166.6 508.2,165.7 509.0,166.6 509.8,166.8 510.6,165.9 511.4,167.1 512.2,166.2 513.0,165.9 513.8,164.4 514.6,165.0 515.4,164.8 516.2,163.3 517.0,164.5 517.8,164.4 518.6,163.6 519.4,164.7 520.2,165.3 521.0,164.3 521.8,163.2 522.6,163.5 523.4,164.4 524.2,163.3 525.0,163.9 525.8,163.7 526.6,163.8 527.4,164.9 528.2,163.5 529.0,165.5 529.8,165.3 530.6,165.2 531.4,164.4 532.2,165.7 533.0,165.7 533.8,164.7 534.6,165.9 535.4,166.2 536.2,166.5 537.0,166.9 537.8,167.2 538.6,169.2 539.4,169.4 540.2,169.1 541.0,170.1 541.8,170.6 542.6,169.9 543.4,169.1 544.2,170.2 545.0,171.0 545.8,169.7 546.6,170.4 547.4,171.1 548.2,171.4 549.0,171.4 549.8,171.5 550.6,171.7 551.4,172.0 552.2,173.4 553.0,173.8 553.8,173.4 554.6,173.7 555.4,175.2 556.2,175.7 557.0,175.2 557.8,175.2 558.6,176.5 559.4,177.1 560.2,177.2 561.0,177.0 561.8,175.6 562.6,176.4 563.4,176.0 564.2,175.7 565.0,177.3 565.8,175.6 566.6,175.6 567.4,175.1 568.2,175.2 569.0,174.8 569.8,173.3 570.6,173.0 571.4,172.4 572.2,171.8 573.0,171.9 573.8,171.9 574.6,171.3 575.4,170.6 576.2,169.2 577.0,170.1 577.8,169.7 578.6,170.3 579.4,168.8 580.2,168.2 581.0,167.6 581.8,168.1 582.6,168.2 583.4,168.0 584.2,166.6 585.0,166.6 585.8,167.0 586.6,166.1 587.4,165.6 588.2,165.4 589.0,164.5 589.8,164.5 590.6,164.9 591.4,165.9 592.2,166.0 593.0,165.4 593.8,166.1 594.6,166.3 595.4,166.9 596.2,166.0 597.0,166.7 597.8,167.2 598.6,166.3 599.4,167.3 600.2,167.9 601.0,168.3 601.8,168.8 602.6,169.5 603.4,170.4 604.2,171.4 605.0,171.5 605.8,172.9 606.6,171.7 607.4,172.1 608.2,172.8 609.0,172.7 609.8,172.8 610.6,173.3 611.4,175.1 612.2,174.4 613.0,174.3 613.8,176.3 614.6,175.6 615.4,175.8 616.2,175.7 617.0,176.9 617.8,177.0 618.6,177.7 619.4,177.6 620.2,177.5 621.0,178.0 621.8,177.7"/>
<polyline fill="none" stroke="#e8b044" stroke-width="1.85" stroke-linejoin="round" points="357.0,188.6 357.8,189.6 358.6,190.0 359.4,190.0 360.2,190.4 361.0,189.0 361.8,189.5 362.6,188.9 363.4,188.3 364.2,188.7 365.0,189.1 365.8,188.4 366.6,188.6 367.4,189.1 368.2,188.6 369.0,188.7 369.8,188.7 370.6,188.5 371.4,187.6 372.2,189.2 373.0,187.7 373.8,188.7 374.6,188.6 375.4,188.9 376.2,189.2 377.0,189.0 377.8,189.5 378.6,188.0 379.4,189.0 380.2,187.6 381.0,189.4 381.8,188.5 382.6,189.0 383.4,189.5 384.2,187.3 385.0,188.3 385.8,188.7 386.6,188.7 387.4,188.8 388.2,188.2 389.0,187.9 389.8,187.6 390.6,187.6 391.4,187.5 392.2,188.1 393.0,187.7 393.8,188.0 394.6,188.6 395.4,188.3 396.2,187.5 397.0,187.6 397.8,187.9 398.6,187.0 399.4,186.2 400.2,186.7 401.0,187.5 401.8,187.1 402.6,186.9 403.4,187.4 404.2,186.3 405.0,188.0 405.8,186.6 406.6,186.3 407.4,187.5 408.2,185.7 409.0,186.1 409.8,186.3 410.6,185.9 411.4,186.4 412.2,187.0 413.0,186.7 413.8,186.4 414.6,186.8 415.4,187.1 416.2,186.8 417.0,184.7 417.8,186.7 418.6,186.5 419.4,186.3 420.2,185.5 421.0,185.9 421.8,186.2 422.6,185.6 423.4,187.1 424.2,186.9 425.0,186.3 425.8,185.6 426.6,186.9 427.4,186.5 428.2,186.8 429.0,186.0 429.8,187.5 430.6,186.1 431.4,187.3 432.2,185.3 433.0,186.8 433.8,186.7 434.6,185.2 435.4,186.2 436.2,185.9 437.0,185.9 437.8,186.3 438.6,185.6 439.4,184.0 440.2,182.9 441.0,184.9 441.8,185.8 442.6,186.5 443.4,188.2 444.2,187.4 445.0,187.7 445.8,187.5 446.6,188.3 447.4,188.9 448.2,189.1 449.0,189.0 449.8,189.0 450.6,188.2 451.4,188.5 452.2,187.7 453.0,188.5 453.8,189.2 454.6,188.3 455.4,189.3 456.2,188.9 457.0,187.9 457.8,187.5 458.6,187.3 459.4,187.4 460.2,188.1 461.0,188.1 461.8,188.8 462.6,189.6 463.4,188.3 464.2,187.6 465.0,188.1 465.8,187.9 466.6,188.8 467.4,189.0 468.2,190.2 469.0,188.8 469.8,189.6 470.6,189.5 471.4,189.5 472.2,189.2 473.0,190.7 473.8,189.4 474.6,189.6 475.4,190.0 476.2,189.6 477.0,190.3 477.8,188.5 478.6,189.0 479.4,188.8 480.2,189.0 481.0,189.4 481.8,188.4 482.6,187.6 483.4,188.8 484.2,188.1 485.0,188.9 485.8,188.5 486.6,189.3 487.4,188.3 488.2,187.4 489.0,187.9 489.8,188.0 490.6,187.1 491.4,186.7 492.2,186.4 493.0,186.3 493.8,186.1 494.6,187.3 495.4,186.8 496.2,185.6 497.0,186.8 497.8,186.0 498.6,185.9 499.4,185.6 500.2,185.9 501.0,183.8 501.8,184.9 502.6,185.1 503.4,184.6 504.2,183.6 505.0,183.6 505.8,184.3 506.6,184.8 507.4,182.8 508.2,183.3 509.0,183.5 509.8,183.2 510.6,183.1 511.4,183.0 512.2,182.3 513.0,180.4 513.8,180.6 514.6,179.9 515.4,180.3 516.2,181.1 517.0,180.7 517.8,181.3 518.6,180.7 519.4,180.6 520.2,180.6 521.0,179.9 521.8,180.5 522.6,181.2 523.4,181.6 524.2,181.8 525.0,181.2 525.8,181.5 526.6,181.7 527.4,183.7 528.2,183.1 529.0,184.3 529.8,184.3 530.6,184.5 531.4,184.7 532.2,185.1 533.0,186.0 533.8,187.1 534.6,186.4 535.4,187.5 536.2,187.6 537.0,187.8 537.8,188.6 538.6,189.1 539.4,187.5 540.2,188.5 541.0,189.3 541.8,189.4 542.6,188.1 543.4,189.0 544.2,188.1 545.0,187.7 545.8,188.1 546.6,186.8 547.4,187.2 548.2,187.3 549.0,186.4 549.8,186.2 550.6,188.1 551.4,186.5 552.2,188.1 553.0,187.2 553.8,188.0 554.6,187.9 555.4,188.6 556.2,188.9 557.0,188.6 557.8,189.4 558.6,190.1 559.4,189.2 560.2,188.2 561.0,189.5 561.8,188.8 562.6,189.3 563.4,188.6 564.2,187.9 565.0,187.8 565.8,187.8 566.6,187.5 567.4,186.2 568.2,185.8 569.0,185.5 569.8,186.5 570.6,185.6 571.4,184.7 572.2,184.8 573.0,185.3 573.8,183.5 574.6,183.7 575.4,184.3 576.2,184.3 577.0,184.1 577.8,183.0 578.6,183.4 579.4,181.8 580.2,182.5 581.0,181.9 581.8,181.6 582.6,182.4 583.4,181.5 584.2,181.4 585.0,181.8 585.8,182.3 586.6,180.8 587.4,181.5 588.2,180.7 589.0,179.8 589.8,180.2 590.6,180.5 591.4,179.8 592.2,179.4 593.0,179.3 593.8,178.9 594.6,178.7 595.4,178.1 596.2,178.9 597.0,177.2 597.8,178.7 598.6,178.6 599.4,180.2 600.2,179.9 601.0,180.0 601.8,182.5 602.6,183.6 603.4,182.7 604.2,184.5 605.0,185.1 605.8,185.0 606.6,186.5 607.4,186.2 608.2,187.6 609.0,188.0 609.8,187.4 610.6,187.8 611.4,188.3 612.2,187.5 613.0,188.5 613.8,189.0 614.6,190.2 615.4,189.5 616.2,189.0 617.0,188.4 617.8,189.3 618.6,189.3 619.4,188.5 620.2,189.1 621.0,188.5 621.8,189.1"/>
<polyline fill="none" stroke="#c8de3a" stroke-width="1.85" stroke-linejoin="round" points="357.0,205.4 357.8,204.9 358.6,204.3 359.4,203.9 360.2,203.6 361.0,204.7 361.8,204.4 362.6,204.5 363.4,204.9 364.2,205.0 365.0,203.8 365.8,205.7 366.6,204.1 367.4,206.3 368.2,205.7 369.0,205.2 369.8,206.3 370.6,205.5 371.4,205.7 372.2,205.2 373.0,205.8 373.8,205.9 374.6,205.1 375.4,205.6 376.2,206.5 377.0,206.3 377.8,205.0 378.6,207.0 379.4,204.1 380.2,203.8 381.0,204.1 381.8,205.0 382.6,205.7 383.4,204.6 384.2,204.6 385.0,205.0 385.8,204.7 386.6,204.9 387.4,204.1 388.2,204.8 389.0,204.6 389.8,202.8 390.6,203.9 391.4,203.8 392.2,203.8 393.0,202.9 393.8,202.6 394.6,202.7 395.4,203.2 396.2,202.0 397.0,201.7 397.8,202.6 398.6,201.5 399.4,201.5 400.2,201.9 401.0,202.0 401.8,202.4 402.6,201.2 403.4,200.6 404.2,201.3 405.0,201.8 405.8,200.8 406.6,201.4 407.4,201.7 408.2,201.6 409.0,201.6 409.8,201.6 410.6,201.3 411.4,201.1 412.2,202.1 413.0,200.5 413.8,201.7 414.6,200.2 415.4,202.5 416.2,199.8 417.0,201.6 417.8,200.3 418.6,200.8 419.4,200.9 420.2,200.5 421.0,202.1 421.8,200.7 422.6,199.8 423.4,200.9 424.2,201.1 425.0,200.3 425.8,201.4 426.6,201.3 427.4,201.9 428.2,201.9 429.0,201.6 429.8,201.4 430.6,202.1 431.4,201.6 432.2,200.5 433.0,200.9 433.8,200.9 434.6,200.9 435.4,202.3 436.2,200.9 437.0,201.5 437.8,202.1 438.6,200.9 439.4,198.2 440.2,197.5 441.0,198.9 441.8,200.6 442.6,201.4 443.4,201.6 444.2,201.3 445.0,201.1 445.8,201.8 446.6,202.8 447.4,202.0 448.2,202.8 449.0,202.4 449.8,202.0 450.6,200.8 451.4,202.5 452.2,202.3 453.0,201.6 453.8,202.8 454.6,202.4 455.4,202.5 456.2,201.9 457.0,202.5 457.8,202.2 458.6,203.1 459.4,202.4 460.2,201.4 461.0,202.3 461.8,202.4 462.6,202.4 463.4,201.9 464.2,203.2 465.0,202.1 465.8,203.3 466.6,201.8 467.4,201.9 468.2,201.7 469.0,201.7 469.8,203.1 470.6,201.5 471.4,203.1 472.2,202.2 473.0,201.3 473.8,202.0 474.6,201.5 475.4,201.4 476.2,200.2 477.0,201.2 477.8,200.6 478.6,200.7 479.4,200.6 480.2,200.7 481.0,201.3 481.8,200.3 482.6,198.8 483.4,200.5 484.2,199.9 485.0,200.0 485.8,199.0 486.6,200.4 487.4,199.8 488.2,200.3 489.0,199.6 489.8,199.5 490.6,198.7 491.4,197.8 492.2,199.3 493.0,198.9 493.8,198.4 494.6,198.2 495.4,198.0 496.2,197.4 497.0,197.8 497.8,198.2 498.6,199.0 499.4,198.3 500.2,199.1 501.0,197.9 501.8,199.3 502.6,198.2 503.4,198.9 504.2,198.4 505.0,197.5 505.8,197.5 506.6,198.1 507.4,196.8 508.2,195.8 509.0,197.1 509.8,197.6 510.6,195.0 511.4,196.0 512.2,194.9 513.0,195.1 513.8,194.4 514.6,195.3 515.4,194.1 516.2,193.8 517.0,192.7 517.8,193.1 518.6,191.8 519.4,191.5 520.2,191.3 521.0,190.3 521.8,191.1 522.6,190.5 523.4,191.9 524.2,192.4 525.0,192.9 525.8,193.5 526.6,193.9 527.4,195.3 528.2,195.7 529.0,196.1 529.8,196.9 530.6,197.4 531.4,198.4 532.2,199.1 533.0,198.8 533.8,201.1 534.6,200.2 535.4,200.2 536.2,200.8 537.0,199.6 537.8,200.8 538.6,201.5 539.4,201.4 540.2,201.8 541.0,201.6 541.8,201.7 542.6,201.8 543.4,201.8 544.2,201.0 545.0,201.6 545.8,201.3 546.6,200.5 547.4,200.4 548.2,200.9 549.0,201.6 549.8,201.7 550.6,200.8 551.4,201.2 552.2,201.5 553.0,202.5 553.8,202.9 554.6,203.9 555.4,205.0 556.2,204.9 557.0,205.2 557.8,205.2 558.6,204.4 559.4,204.7 560.2,204.6 561.0,204.4 561.8,205.4 562.6,204.6 563.4,202.6 564.2,203.3 565.0,203.3 565.8,202.8 566.6,201.9 567.4,201.7 568.2,201.3 569.0,201.0 569.8,201.5 570.6,201.0 571.4,200.6 572.2,200.5 573.0,200.4 573.8,199.3 574.6,199.1 575.4,199.3 576.2,199.2 577.0,196.9 577.8,199.3 578.6,197.3 579.4,197.9 580.2,196.6 581.0,197.8 581.8,197.3 582.6,197.1 583.4,196.8 584.2,196.8 585.0,197.4 585.8,196.7 586.6,197.1 587.4,197.0 588.2,196.1 589.0,196.9 589.8,196.6 590.6,196.1 591.4,195.4 592.2,195.7 593.0,195.6 593.8,195.5 594.6,195.4 595.4,194.6 596.2,195.9 597.0,195.7 597.8,195.7 598.6,195.7 599.4,196.5 600.2,196.6 601.0,197.4 601.8,197.6 602.6,198.2 603.4,199.1 604.2,199.0 605.0,199.8 605.8,200.6 606.6,200.8 607.4,200.3 608.2,201.9 609.0,202.3 609.8,203.6 610.6,202.3 611.4,203.2 612.2,204.7 613.0,202.7 613.8,204.0 614.6,204.0 615.4,203.5 616.2,204.6 617.0,204.3 617.8,203.4 618.6,204.5 619.4,204.1 620.2,205.5 621.0,204.8 621.8,204.1"/>
<polyline fill="none" stroke="#5a9c1e" stroke-width="1.85" stroke-linejoin="round" points="357.0,219.8 357.8,219.0 358.6,219.6 359.4,218.5 360.2,220.4 361.0,220.0 361.8,219.3 362.6,219.7 363.4,220.3 364.2,221.1 365.0,219.2 365.8,220.5 366.6,220.3 367.4,219.8 368.2,220.3 369.0,219.7 369.8,219.9 370.6,219.1 371.4,219.5 372.2,219.8 373.0,219.6 373.8,219.7 374.6,219.3 375.4,219.9 376.2,219.9 377.0,219.7 377.8,219.7 378.6,220.1 379.4,219.3 380.2,220.2 381.0,219.9 381.8,220.2 382.6,220.1 383.4,220.6 384.2,220.2 385.0,219.5 385.8,219.1 386.6,220.3 387.4,219.5 388.2,218.6 389.0,219.2 389.8,219.0 390.6,219.4 391.4,218.9 392.2,218.7 393.0,219.9 393.8,217.9 394.6,218.3 395.4,218.8 396.2,218.9 397.0,219.0 397.8,218.8 398.6,218.9 399.4,217.1 400.2,219.3 401.0,217.8 401.8,217.0 402.6,217.0 403.4,216.9 404.2,215.9 405.0,217.3 405.8,216.4 406.6,216.7 407.4,216.2 408.2,216.5 409.0,216.9 409.8,216.2 410.6,217.6 411.4,215.9 412.2,216.3 413.0,216.6 413.8,216.9 414.6,216.4 415.4,216.1 416.2,216.3 417.0,216.3 417.8,215.5 418.6,216.3 419.4,215.6 420.2,215.4 421.0,216.1 421.8,215.9 422.6,216.2 423.4,216.1 424.2,215.7 425.0,216.4 425.8,216.4 426.6,215.5 427.4,217.1 428.2,216.1 429.0,215.9 429.8,216.4 430.6,215.2 431.4,215.6 432.2,216.5 433.0,215.0 433.8,215.7 434.6,217.0 435.4,216.2 436.2,215.1 437.0,215.6 437.8,216.0 438.6,215.0 439.4,213.1 440.2,212.4 441.0,213.9 441.8,216.3 442.6,215.9 443.4,216.0 444.2,216.6 445.0,216.5 445.8,216.4 446.6,216.7 447.4,216.4 448.2,217.7 449.0,217.8 449.8,216.3 450.6,215.0 451.4,216.4 452.2,217.0 453.0,216.2 453.8,216.9 454.6,216.9 455.4,216.2 456.2,216.5 457.0,216.1 457.8,216.3 458.6,216.1 459.4,216.7 460.2,218.0 461.0,217.2 461.8,218.0 462.6,217.6 463.4,216.6 464.2,217.5 465.0,217.6 465.8,217.3 466.6,217.7 467.4,218.5 468.2,218.3 469.0,217.1 469.8,216.8 470.6,217.0 471.4,217.2 472.2,217.7 473.0,216.5 473.8,216.2 474.6,216.7 475.4,215.9 476.2,217.3 477.0,217.9 477.8,216.7 478.6,218.1 479.4,217.0 480.2,216.9 481.0,216.7 481.8,216.6 482.6,216.8 483.4,216.6 484.2,215.9 485.0,217.3 485.8,216.5 486.6,216.7 487.4,216.5 488.2,217.1 489.0,216.4 489.8,216.2 490.6,218.0 491.4,217.2 492.2,216.6 493.0,216.6 493.8,216.5 494.6,214.5 495.4,215.5 496.2,216.1 497.0,216.4 497.8,215.6 498.6,215.9 499.4,215.0 500.2,215.3 501.0,214.2 501.8,214.9 502.6,215.9 503.4,214.2 504.2,215.1 505.0,214.1 505.8,214.2 506.6,216.1 507.4,214.0 508.2,214.1 509.0,213.6 509.8,212.2 510.6,213.7 511.4,214.2 512.2,213.0 513.0,212.9 513.8,212.8 514.6,213.1 515.4,211.9 516.2,212.6 517.0,212.4 517.8,211.0 518.6,211.2 519.4,211.9 520.2,211.3 521.0,212.2 521.8,212.5 522.6,211.5 523.4,212.5 524.2,212.3 525.0,211.9 525.8,212.7 526.6,212.4 527.4,213.3 528.2,213.1 529.0,213.4 529.8,215.2 530.6,215.6 531.4,214.9 532.2,215.5 533.0,214.8 533.8,214.8 534.6,215.9 535.4,216.9 536.2,216.4 537.0,216.6 537.8,216.5 538.6,216.0 539.4,215.4 540.2,216.7 541.0,216.2 541.8,218.3 542.6,218.0 543.4,218.6 544.2,219.0 545.0,218.0 545.8,218.0 546.6,219.5 547.4,219.1 548.2,219.1 549.0,219.9 549.8,218.5 550.6,220.3 551.4,219.8 552.2,219.9 553.0,220.1 553.8,221.0 554.6,220.4 555.4,219.9 556.2,219.4 557.0,221.2 557.8,218.5 558.6,219.3 559.4,219.3 560.2,218.9 561.0,219.2 561.8,219.6 562.6,219.1 563.4,219.7 564.2,220.3 565.0,219.4 565.8,220.3 566.6,220.4 567.4,220.1 568.2,220.1 569.0,220.1 569.8,219.9 570.6,219.6 571.4,220.3 572.2,219.8 573.0,219.5 573.8,219.9 574.6,219.3 575.4,218.0 576.2,218.8 577.0,217.6 577.8,218.1 578.6,216.5 579.4,218.4 580.2,217.2 581.0,216.7 581.8,216.4 582.6,215.1 583.4,215.5 584.2,215.6 585.0,216.8 585.8,215.8 586.6,215.4 587.4,216.0 588.2,215.2 589.0,214.2 589.8,213.7 590.6,212.8 591.4,213.2 592.2,211.8 593.0,213.3 593.8,211.8 594.6,212.5 595.4,212.8 596.2,211.5 597.0,211.9 597.8,213.2 598.6,212.2 599.4,213.5 600.2,213.9 601.0,212.9 601.8,214.5 602.6,213.8 603.4,214.7 604.2,214.9 605.0,215.7 605.8,215.5 606.6,216.0 607.4,216.6 608.2,218.0 609.0,217.2 609.8,218.4 610.6,217.2 611.4,217.4 612.2,218.7 613.0,218.3 613.8,219.2 614.6,219.3 615.4,220.8 616.2,220.7 617.0,221.2 617.8,220.4 618.6,219.7 619.4,219.5 620.2,220.7 621.0,219.1 621.8,219.7"/>
<polyline fill="none" stroke="#285a12" stroke-width="1.85" stroke-linejoin="round" points="357.0,231.3 357.8,231.9 358.6,231.5 359.4,231.0 360.2,231.7 361.0,230.5 361.8,231.6 362.6,230.9 363.4,231.4 364.2,231.2 365.0,230.6 365.8,231.4 366.6,231.3 367.4,230.7 368.2,232.1 369.0,231.4 369.8,230.4 370.6,230.6 371.4,231.4 372.2,231.5 373.0,230.8 373.8,231.9 374.6,231.5 375.4,231.2 376.2,231.8 377.0,232.2 377.8,231.7 378.6,232.4 379.4,232.0 380.2,232.8 381.0,233.3 381.8,232.2 382.6,233.2 383.4,232.6 384.2,233.4 385.0,233.3 385.8,233.0 386.6,233.5 387.4,233.2 388.2,234.1 389.0,233.8 389.8,234.4 390.6,232.9 391.4,234.3 392.2,233.5 393.0,233.6 393.8,233.0 394.6,233.7 395.4,233.3 396.2,232.9 397.0,232.4 397.8,230.8 398.6,232.4 399.4,232.0 400.2,232.1 401.0,232.5 401.8,233.1 402.6,232.8 403.4,232.4 404.2,232.1 405.0,232.6 405.8,232.8 406.6,232.3 407.4,232.3 408.2,231.9 409.0,231.5 409.8,232.7 410.6,232.5 411.4,231.3 412.2,231.9 413.0,232.8 413.8,232.7 414.6,231.6 415.4,233.1 416.2,232.5 417.0,232.0 417.8,231.2 418.6,230.5 419.4,231.8 420.2,232.4 421.0,231.9 421.8,230.9 422.6,232.2 423.4,231.2 424.2,230.2 425.0,231.6 425.8,229.9 426.6,231.6 427.4,232.2 428.2,232.2 429.0,233.0 429.8,231.7 430.6,230.7 431.4,231.5 432.2,231.6 433.0,230.9 433.8,230.3 434.6,231.1 435.4,230.9 436.2,231.0 437.0,231.0 437.8,231.4 438.6,231.0 439.4,227.8 440.2,225.0 441.0,228.5 441.8,229.7 442.6,231.7 443.4,231.0 444.2,231.5 445.0,232.8 445.8,232.0 446.6,233.6 447.4,233.8 448.2,233.0 449.0,232.3 449.8,231.6 450.6,231.5 451.4,231.9 452.2,231.6 453.0,232.3 453.8,232.2 454.6,233.1 455.4,231.8 456.2,233.1 457.0,233.5 457.8,232.6 458.6,234.2 459.4,234.4 460.2,234.0 461.0,232.8 461.8,233.9 462.6,232.9 463.4,233.5 464.2,232.8 465.0,233.4 465.8,233.0 466.6,233.7 467.4,234.0 468.2,232.9 469.0,233.4 469.8,232.8 470.6,232.9 471.4,232.8 472.2,232.4 473.0,232.4 473.8,233.2 474.6,233.4 475.4,232.9 476.2,233.4 477.0,233.4 477.8,233.1 478.6,231.5 479.4,232.7 480.2,233.6 481.0,233.1 481.8,232.6 482.6,232.1 483.4,232.0 484.2,231.3 485.0,231.8 485.8,231.3 486.6,231.6 487.4,232.0 488.2,232.4 489.0,231.4 489.8,231.4 490.6,230.7 491.4,230.0 492.2,230.5 493.0,230.7 493.8,230.5 494.6,230.2 495.4,230.0 496.2,229.4 497.0,230.0 497.8,231.1 498.6,230.1 499.4,230.2 500.2,230.8 501.0,229.8 501.8,229.6 502.6,228.6 503.4,229.5 504.2,229.6 505.0,228.5 505.8,228.9 506.6,228.5 507.4,226.0 508.2,227.8 509.0,225.7 509.8,226.2 510.6,225.7 511.4,225.0 512.2,224.5 513.0,223.9 513.8,223.1 514.6,222.5 515.4,222.0 516.2,222.1 517.0,222.0 517.8,221.7 518.6,221.8 519.4,220.9 520.2,221.4 521.0,221.9 521.8,222.6 522.6,221.3 523.4,223.0 524.2,223.4 525.0,222.9 525.8,224.3 526.6,224.6 527.4,225.8 528.2,226.8 529.0,227.1 529.8,227.1 530.6,228.1 531.4,228.0 532.2,228.4 533.0,227.9 533.8,228.7 534.6,229.2 535.4,229.1 536.2,229.2 537.0,229.8 537.8,230.8 538.6,230.5 539.4,230.3 540.2,229.9 541.0,229.8 541.8,230.0 542.6,229.4 543.4,229.7 544.2,229.4 545.0,229.3 545.8,229.7 546.6,229.7 547.4,229.9 548.2,229.3 549.0,229.4 549.8,229.7 550.6,229.7 551.4,230.9 552.2,229.7 553.0,230.4 553.8,231.0 554.6,232.2 555.4,232.2 556.2,232.7 557.0,233.4 557.8,234.5 558.6,233.4 559.4,233.9 560.2,233.8 561.0,232.5 561.8,233.6 562.6,233.2 563.4,231.7 564.2,233.0 565.0,233.1 565.8,232.4 566.6,232.4 567.4,232.6 568.2,232.4 569.0,231.8 569.8,231.7 570.6,231.8 571.4,231.4 572.2,231.7 573.0,230.0 573.8,229.5 574.6,228.6 575.4,228.6 576.2,226.8 577.0,224.9 577.8,225.6 578.6,226.7 579.4,227.0 580.2,227.4 581.0,227.9 581.8,227.6 582.6,226.4 583.4,227.1 584.2,227.8 585.0,227.1 585.8,228.4 586.6,228.5 587.4,228.9 588.2,227.2 589.0,227.0 589.8,226.8 590.6,225.0 591.4,224.7 592.2,223.6 593.0,223.3 593.8,222.1 594.6,222.6 595.4,223.5 596.2,223.7 597.0,223.1 597.8,223.7 598.6,223.4 599.4,224.8 600.2,224.6 601.0,225.6 601.8,225.7 602.6,226.0 603.4,227.4 604.2,227.0 605.0,228.1 605.8,229.2 606.6,228.6 607.4,227.9 608.2,229.4 609.0,231.5 609.8,230.7 610.6,230.5 611.4,231.1 612.2,232.1 613.0,231.0 613.8,230.6 614.6,232.4 615.4,231.7 616.2,232.3 617.0,231.1 617.8,232.8 618.6,232.2 619.4,233.0 620.2,233.1 621.0,232.6 621.8,232.9"/>
<path d="M493.2,159.5 L494.6,155.5" stroke="#50e8f8" stroke-width="1.6"/>
<text x="426.2" y="31.6" class="pl">998</text>
<text x="443.2" y="44.8" class="pl">1028</text>
<text x="465.8" y="58.4" class="pl">1125</text>
<text x="494.5" y="50.2" class="pl">1254</text>
<text x="511.8" y="31" class="pl">1315</text>
<text x="529.2" y="47.5" class="pl">1374</text>
<text x="550.5" y="26.2" class="pl">1439</text>
<text x="573.7" y="55.8" class="pl">1540</text>
<text x="593.6" y="38.7" class="pl">1591</text>
<text x="444.6" y="247.3" class="pl">1049</text>
<line x1="357.4" y1="252.3" x2="623.5" y2="252.3" stroke="#000" stroke-width="2.6"/>
<line x1="427.4" y1="247" x2="427.4" y2="252" stroke="#000" stroke-width="2.4"/>
<line x1="498" y1="247" x2="498" y2="252" stroke="#000" stroke-width="2.4"/>
<line x1="566.8" y1="247" x2="566.8" y2="252" stroke="#000" stroke-width="2.4"/>
<text x="402.5" y="271" class="bt">1000</text>
<text x="479.7" y="271" class="bt">1250</text>
<text x="559.5" y="271" class="bt">1500</text>
<text x="413.3" y="289.3" class="bx">Raman Shift / cm<tspan dy="-4.5" font-size="8">-1</tspan></text>
<text transform="translate(347.3,133.2) rotate(-90)" class="by">Intensity / a.u.</text>
<line x1="624.3" y1="18.6" x2="624.3" y2="37.2" stroke="#000" stroke-width="1.8"/>
<line x1="622" y1="18.6" x2="626.6" y2="18.6" stroke="#000" stroke-width="1.6"/>
<line x1="622" y1="37.2" x2="626.6" y2="37.2" stroke="#000" stroke-width="1.6"/>
<text x="630" y="31.6" class="sb">500 a.u.</text>
<text x="631" y="83.2" class="pv" fill="#16165e" stroke="#16165e">-0.1</text>
<text x="635" y="106.5" class="pv" fill="#4a46c8" stroke="#4a46c8">0.0</text>
<text x="635" y="127.5" class="pv" fill="#a060e8" stroke="#a060e8">0.1</text>
<text x="635" y="145.5" class="pv" fill="#8c8ce8" stroke="#8c8ce8">0.2</text>
<text x="635" y="167.8" class="pv" fill="#c4c4f0" stroke="#c4c4f0">0.3</text>
<text x="635" y="178.7" class="pv" fill="#f0b8f0" stroke="#f0b8f0">0.4</text>
<text x="635" y="195.1" class="pv" fill="#e8c070" stroke="#e8c070">0.5</text>
<text x="635" y="209.9" class="pv" fill="#cce040" stroke="#cce040">0.6</text>
<text x="635" y="223.2" class="pv" fill="#5a9a2a" stroke="#5a9a2a">0.7</text>
<text x="638" y="238.0" class="pv" fill="#3a6a22" stroke="#3a6a22">OCP</text>
<defs><linearGradient id="ga" x1="0" y1="0" x2="0" y2="1"><stop offset="0" stop-color="#1a1a60"/><stop offset="0.2" stop-color="#5656b0"/><stop offset="0.4" stop-color="#d6d6f0"/><stop offset="0.5" stop-color="#fbf8f2"/><stop offset="0.66" stop-color="#eee6b4"/><stop offset="0.85" stop-color="#b6c084"/><stop offset="1" stop-color="#6a8a40"/></linearGradient></defs>
<rect x="662.5" y="80" width="1.4" height="160.8" fill="url(#ga)"/>
<path d="M663.2,75.5 L660.8,82.3 L665.6,82.3 Z" fill="#1a1a60"/>
<polyline fill="none" stroke="#8a8a8a" stroke-width="1.2" points="43.5,346.7 44.0,346.7 44.5,346.7 45.0,346.7 45.5,346.7 46.0,346.7 46.5,346.7 47.0,346.6 47.5,346.6 48.0,346.6 48.5,346.6 49.0,346.6 49.5,346.6 50.0,346.6 50.5,346.6 51.0,346.6 51.5,346.6 52.0,346.6 52.5,346.6 53.0,346.6 53.5,346.6 54.0,346.5 54.5,346.5 55.0,346.5 55.5,346.5 56.0,346.5 56.5,346.5 57.0,346.5 57.5,346.5 58.0,346.5 58.5,346.5 59.0,346.5 59.5,346.5 60.0,346.5 60.5,346.5 61.0,346.5 61.5,346.4 62.0,346.4 62.5,346.4 63.0,346.4 63.5,346.4 64.0,346.4 64.5,346.4 65.0,346.2 65.5,344.8"/>
<polyline fill="none" stroke="#6640a6" stroke-width="1.2" points="65.5,344.8 66.0,343.1 66.5,341.5 67.0,340.3 67.5,339.7 68.0,340.0 68.5,340.4 69.0,340.8 69.5,341.1 70.0,341.4 70.5,341.7 71.0,341.9 71.5,342.1 72.0,342.3 72.5,342.5 73.0,342.7 73.5,342.8 74.0,343.0 74.5,343.1 75.0,343.2 75.5,343.3 76.0,343.4 76.5,343.5 77.0,343.6 77.5,343.7 78.0,343.8 78.5,343.9 79.0,343.9 79.5,344.0 80.0,344.0 80.5,344.1 81.0,344.1 81.5,344.2 82.0,344.2 82.5,344.3 83.0,344.3 83.5,344.3 84.0,344.4 84.5,344.4 85.0,344.4 85.5,344.5 86.0,344.5 86.5,344.5 87.0,344.5 87.5,344.5 88.0,344.6 88.5,344.6 89.0,344.6 89.5,344.6 90.0,344.6 90.5,344.6 91.0,344.6 91.5,344.7 92.0,344.7 92.5,344.7 93.0,344.7 93.5,344.7 94.0,344.7 94.5,344.7 95.0,344.7 95.5,344.7 96.0,344.7 96.5,344.7 97.0,344.7 97.5,344.7 98.0,344.7 98.5,344.7 99.0,344.7 99.5,344.7 100.0,344.7 100.5,344.7 101.0,344.7 101.5,344.7 102.0,344.7 102.5,344.7 103.0,344.7 103.5,344.7 104.0,344.7 104.5,344.7 105.0,344.7 105.5,344.7 106.0,344.7 106.5,344.6 107.0,344.6 107.5,344.6 108.0,344.6 108.5,344.6 109.0,344.6 109.5,344.6 110.0,344.6 110.5,344.6 111.0,344.6 111.5,344.6 112.0,344.5 112.5,344.5 113.0,344.5 113.5,344.5 114.0,344.5 114.5,344.5 115.0,344.5 115.5,344.5 116.0,344.5 116.5,344.4 117.0,344.4 117.5,343.5 118.0,341.8 118.5,340.1 119.0,338.7 119.5,337.9 120.0,337.9 120.5,338.3 121.0,338.7 121.5,339.0 122.0,339.3 122.5,339.6 123.0,339.9 123.5,340.1 124.0,340.3 124.5,340.5 125.0,340.7 125.5,340.8 126.0,341.0 126.5,341.1 127.0,341.2 127.5,341.4 128.0,341.5 128.5,341.6 129.0,341.7 129.5,341.7 130.0,341.8 130.5,341.9 131.0,342.0 131.5,342.0 132.0,342.1 132.5,342.1 133.0,342.2 133.5,342.2 134.0,342.3 134.5,342.3 135.0,342.3 135.5,342.4 136.0,342.4 136.5,342.4 137.0,342.5 137.5,342.5 138.0,342.5 138.5,342.5 139.0,342.6 139.5,342.6 140.0,342.6 140.5,342.6 141.0,342.6 141.5,342.6 142.0,342.7 142.5,342.7 143.0,342.7 143.5,342.7 144.0,342.7 144.5,342.7 145.0,342.7 145.5,342.7 146.0,342.7 146.5,342.7 147.0,342.7 147.5,342.7 148.0,342.7 148.5,342.7 149.0,342.7 149.5,342.7 150.0,342.7 150.5,342.7 151.0,342.7 151.5,342.7 152.0,342.7 152.5,342.7 153.0,342.7 153.5,342.7 154.0,342.7 154.5,342.7 155.0,342.7 155.5,342.7 156.0,342.7 156.5,342.7 157.0,342.7 157.5,342.7 158.0,342.6 158.5,342.6 159.0,342.6 159.5,342.6 160.0,342.6 160.5,342.6 161.0,342.6 161.5,342.6 162.0,342.6 162.5,342.6 163.0,342.5 163.5,342.5 164.0,342.5 164.5,342.5 165.0,342.5 165.5,342.5 166.0,342.5 166.5,342.5 167.0,342.4 167.5,342.4 168.0,342.4 168.5,342.4 169.0,342.4 169.5,342.0 170.0,340.6 170.5,339.0 171.0,337.5 171.5,336.5 172.0,336.2 172.5,336.6 173.0,336.9 173.5,337.2 174.0,337.6 174.5,337.8 175.0,338.1 175.5,338.3 176.0,338.5 176.5,338.7 177.0,338.9 177.5,339.1 178.0,339.2 178.5,339.3 179.0,339.5 179.5,339.6 180.0,339.7 180.5,339.8 181.0,339.9 181.5,340.0 182.0,340.1 182.5,340.1 183.0,340.2 183.5,340.3 184.0,340.3 184.5,340.4 185.0,340.4 185.5,340.5 186.0,340.5 186.5,340.6 187.0,340.6 187.5,340.7 188.0,340.7 188.5,340.7 189.0,340.8 189.5,340.8 190.0,340.8 190.5,340.9 191.0,340.9 191.5,340.9 192.0,340.9 192.5,341.0 193.0,341.0 193.5,341.0 194.0,341.0 194.5,341.0 195.0,341.0 195.5,341.1 196.0,341.1 196.5,341.1 197.0,341.1 197.5,341.1 198.0,341.1 198.5,341.1 199.0,341.1 199.5,341.1 200.0,341.1 200.5,341.2 201.0,341.2 201.5,341.2 202.0,341.2 202.5,341.2 203.0,341.2 203.5,341.2 204.0,341.2 204.5,341.2 205.0,341.2 205.5,341.2 206.0,341.2 206.5,341.2 207.0,341.2 207.5,341.2 208.0,341.2 208.5,341.2 209.0,341.2 209.5,341.2 210.0,341.2 210.5,341.2 211.0,341.2 211.5,341.2 212.0,341.2 212.5,341.2 213.0,341.2 213.5,341.2 214.0,341.1 214.5,341.1 215.0,341.1 215.5,341.1 216.0,341.1 216.5,341.1 217.0,341.1 217.5,341.1 218.0,341.1 218.5,341.1 219.0,341.1 219.5,341.1 220.0,341.1 220.5,341.1 221.0,341.1 221.5,340.8 222.0,339.2 222.5,337.2 223.0,335.3 223.5,333.9 224.0,333.2 224.5,333.6 225.0,334.1 225.5,334.5 226.0,334.9 226.5,335.2 227.0,335.5 227.5,335.8 228.0,336.1 228.5,336.3 229.0,336.6 229.5,336.8 230.0,337.0 230.5,337.1 231.0,337.3 231.5,337.5 232.0,337.6 232.5,337.7 233.0,337.8 233.5,337.9 234.0,338.1 234.5,338.1 235.0,338.2 235.5,338.3 236.0,338.4 236.5,338.5 237.0,338.5 237.5,338.6 238.0,338.7 238.5,338.7 239.0,338.8 239.5,338.8 240.0,338.9 240.5,338.9 241.0,338.9 241.5,339.0 242.0,339.0 242.5,339.0 243.0,339.1 243.5,339.1 244.0,339.1 244.5,339.2 245.0,339.2 245.5,339.2 246.0,339.2 246.5,339.3 247.0,339.3 247.5,339.3 248.0,339.3 248.5,339.3 249.0,339.3 249.5,339.3 250.0,339.4 250.5,339.4 251.0,339.4 251.5,339.4 252.0,339.4 252.5,339.4 253.0,339.4 253.5,339.4 254.0,339.4 254.5,339.4 255.0,339.4 255.5,339.4 256.0,339.4 256.5,339.4 257.0,339.4 257.5,339.4 258.0,339.4 258.5,339.4 259.0,339.4 259.5,339.4 260.0,339.4 260.5,339.4 261.0,339.4 261.5,339.4 262.0,339.4 262.5,339.4 263.0,339.4 263.5,339.4 264.0,339.4 264.5,339.4 265.0,339.4 265.5,339.4 266.0,339.4 266.5,339.4 267.0,339.4 267.5,339.3 268.0,339.3 268.5,339.3 269.0,339.3 269.5,339.3 270.0,339.3 270.5,339.3 271.0,339.3 271.5,339.3 272.0,339.3 272.5,339.3 273.0,339.2 273.5,339.2 274.0,339.2 274.5,339.2 275.0,339.2 275.5,339.2 276.0,339.2 276.5,339.2 277.0,339.2 277.5,339.1 278.0,339.1 278.5,339.1 279.0,339.1 279.5,339.1 280.0,339.1 280.5,339.1 281.0,339.1 281.5,339.0 282.0,339.0 282.5,339.0 283.0,339.0 283.5,339.0 284.0,339.0 284.5,339.0 285.0,338.9 285.5,338.9 286.0,338.9 286.5,338.9 287.0,338.9 287.5,338.9 288.0,338.9 288.5,338.8 289.0,338.8 289.5,338.8 290.0,338.8 290.5,338.8 291.0,338.8 291.5,338.8 292.0,338.7 292.5,338.7 293.0,338.7 293.5,338.7 294.0,338.7 294.5,338.7 295.0,338.6 295.5,338.6 296.0,338.6 296.5,338.6 297.0,338.6"/>
<polyline fill="none" stroke="#6640a6" stroke-width="1.3" points="274.6,339.4 275.4,329.6 276.2,329.6 277,337.4"/>
<polyline fill="none" stroke="#6640a6" stroke-width="1.2" points="43.5,364.9 44.0,364.9 44.5,365.0 45.0,365.0 45.5,365.1 46.0,365.1 46.5,365.2 47.0,365.2 47.5,365.3 48.0,365.4 48.5,365.4 49.0,365.5 49.5,365.5 50.0,365.6 50.5,365.6 51.0,365.7 51.5,365.8 52.0,365.8 52.5,365.9 53.0,365.9 53.5,366.0 54.0,366.0 54.5,366.1 55.0,366.1 55.5,366.2 56.0,366.3 56.5,366.3 57.0,366.4 57.5,366.4 58.0,366.5 58.5,366.5 59.0,366.6 59.5,366.6 60.0,366.7 60.5,366.7 61.0,366.7 61.5,366.7 62.0,366.7 62.5,366.7 63.0,366.7 63.5,366.7 64.0,366.7 64.5,366.7 65.0,366.3 65.5,364.2 66.0,361.4 66.5,358.7 67.0,356.5 67.5,355.2 68.0,355.5 68.5,356.6 69.0,357.5 69.5,358.3 70.0,359.1 70.5,359.7 71.0,360.2 71.5,360.7 72.0,361.2 72.5,361.6 73.0,361.9 73.5,362.3 74.0,362.5 74.5,362.8 75.0,363.0 75.5,363.3 76.0,363.5 76.5,363.6 77.0,363.8 77.5,364.0 78.0,364.1 78.5,364.2 79.0,364.4 79.5,364.5 80.0,364.6 80.5,364.7 81.0,364.8 81.5,364.9 82.0,365.0 82.5,365.1 83.0,365.2 83.5,365.2 84.0,365.3 84.5,365.4 85.0,365.4 85.5,365.5 86.0,365.5 86.5,365.6 87.0,365.6 87.5,365.7 88.0,365.7 88.5,365.8 89.0,365.8 89.5,365.9 90.0,365.9 90.5,365.9 91.0,366.0 91.5,366.0 92.0,366.0 92.5,366.1 93.0,366.1 93.5,366.1 94.0,366.2 94.5,366.2 95.0,366.2 95.5,366.2 96.0,366.2 96.5,366.3 97.0,366.3 97.5,366.3 98.0,366.3 98.5,366.3 99.0,366.4 99.5,366.4 100.0,366.4 100.5,366.4 101.0,366.4 101.5,366.4 102.0,366.4 102.5,366.4 103.0,366.5 103.5,366.5 104.0,366.5 104.5,366.5 105.0,366.5 105.5,366.5 106.0,366.5 106.5,366.5 107.0,366.5 107.5,366.5 108.0,366.5 108.5,366.5 109.0,366.6 109.5,366.6 110.0,366.6 110.5,366.6 111.0,366.6 111.5,366.6 112.0,366.6 112.5,366.6 113.0,366.6 113.5,366.6 114.0,366.6 114.5,366.6 115.0,366.6 115.5,366.6 116.0,366.6 116.5,366.6 117.0,366.6 117.5,364.7 118.0,361.4 118.5,357.8 119.0,354.7 119.5,352.6 120.0,351.8 120.5,353.3 121.0,354.6 121.5,355.7 122.0,356.6 122.5,357.5 123.0,358.2 123.5,358.9 124.0,359.5 124.5,360.0 125.0,360.4 125.5,360.9 126.0,361.2 126.5,361.6 127.0,361.9 127.5,362.2 128.0,362.5 128.5,362.7 129.0,362.9 129.5,363.1 130.0,363.3 130.5,363.5 131.0,363.7 131.5,363.8 132.0,364.0 132.5,364.1 133.0,364.2 133.5,364.3 134.0,364.5 134.5,364.6 135.0,364.7 135.5,364.8 136.0,364.9 136.5,364.9 137.0,365.0 137.5,365.1 138.0,365.2 138.5,365.3 139.0,365.3 139.5,365.4 140.0,365.4 140.5,365.5 141.0,365.6 141.5,365.6 142.0,365.7 142.5,365.7 143.0,365.7 143.5,365.8 144.0,365.8 144.5,365.9 145.0,365.9 145.5,365.9 146.0,366.0 146.5,366.0 147.0,366.0 147.5,366.1 148.0,366.1 148.5,366.1 149.0,366.1 149.5,366.2 150.0,366.2 150.5,366.2 151.0,366.2 151.5,366.3 152.0,366.3 152.5,366.3 153.0,366.3 153.5,366.3 154.0,366.3 154.5,366.4 155.0,366.4 155.5,366.4 156.0,366.4 156.5,366.4 157.0,366.4 157.5,366.4 158.0,366.4 158.5,366.4 159.0,366.5 159.5,366.5 160.0,366.5 160.5,366.5 161.0,366.5 161.5,366.5 162.0,366.5 162.5,366.5 163.0,366.5 163.5,366.5 164.0,366.5 164.5,366.5 165.0,366.5 165.5,366.5 166.0,366.6 166.5,366.6 167.0,366.6 167.5,366.6 168.0,366.6 168.5,366.6 169.0,366.6 169.5,365.6 170.0,362.5 170.5,358.7 171.0,355.2 171.5,352.4 172.0,351.0 172.5,351.9 173.0,353.3 173.5,354.5 174.0,355.6 174.5,356.5 175.0,357.4 175.5,358.1 176.0,358.7 176.5,359.3 177.0,359.8 177.5,360.3 178.0,360.7 178.5,361.1 179.0,361.5 179.5,361.8 180.0,362.1 180.5,362.3 181.0,362.6 181.5,362.8 182.0,363.0 182.5,363.2 183.0,363.4 183.5,363.6 184.0,363.7 184.5,363.9 185.0,364.0 185.5,364.1 186.0,364.3 186.5,364.4 187.0,364.5 187.5,364.6 188.0,364.7 188.5,364.8 189.0,364.9 189.5,365.0 190.0,365.0 190.5,365.1 191.0,365.2 191.5,365.3 192.0,365.3 192.5,365.4 193.0,365.4 193.5,365.5 194.0,365.6 194.5,365.6 195.0,365.7 195.5,365.7 196.0,365.7 196.5,365.8 197.0,365.8 197.5,365.9 198.0,365.9 198.5,365.9 199.0,366.0 199.5,366.0 200.0,366.0 200.5,366.1 201.0,366.1 201.5,366.1 202.0,366.1 202.5,366.2 203.0,366.2 203.5,366.2 204.0,366.2 204.5,366.2 205.0,366.3 205.5,366.3 206.0,366.3 206.5,366.3 207.0,366.3 207.5,366.3 208.0,366.4 208.5,366.4 209.0,366.4 209.5,366.4 210.0,366.4 210.5,366.4 211.0,366.4 211.5,366.4 212.0,366.4 212.5,366.4 213.0,366.5 213.5,366.5 214.0,366.5 214.5,366.5 215.0,366.5 215.5,366.5 216.0,366.5 216.5,366.5 217.0,366.5 217.5,366.5 218.0,366.5 218.5,366.5 219.0,366.5 219.5,366.5 220.0,366.5 220.5,366.5 221.0,366.5 221.5,366.1 222.0,363.9 222.5,360.9 223.0,357.9 223.5,355.6 224.0,354.2 224.5,354.5 225.0,355.7 225.5,356.7 226.0,357.6 226.5,358.4 227.0,359.0 227.5,359.6 228.0,360.2 228.5,360.7 229.0,361.1 229.5,361.5 230.0,361.8 230.5,362.1 231.0,362.4 231.5,362.7 232.0,362.9 232.5,363.1 233.0,363.3 233.5,363.5 234.0,363.7 234.5,363.8 235.0,364.0 235.5,364.1 236.0,364.2 236.5,364.4 237.0,364.5 237.5,364.6 238.0,364.7 238.5,364.8 239.0,364.9 239.5,365.0 240.0,365.0 240.5,365.1 241.0,365.2 241.5,365.3 242.0,365.3 242.5,365.4 243.0,365.4 243.5,365.5 244.0,365.5 244.5,365.6 245.0,365.6 245.5,365.7 246.0,365.7 246.5,365.8 247.0,365.8 247.5,365.9 248.0,365.9 248.5,365.9 249.0,366.0 249.5,366.0 250.0,366.0 250.5,366.0 251.0,366.1 251.5,366.1 252.0,366.1 252.5,366.1 253.0,366.2 253.5,366.2 254.0,366.2 254.5,366.2 255.0,366.2 255.5,366.3 256.0,366.3 256.5,366.3 257.0,366.3 257.5,366.3 258.0,366.3 258.5,366.3 259.0,366.4 259.5,366.4 260.0,366.4 260.5,366.4 261.0,366.4 261.5,366.4 262.0,366.4 262.5,366.4 263.0,366.4 263.5,366.4 264.0,366.5 264.5,366.5 265.0,366.5 265.5,366.5 266.0,366.5 266.5,366.5 267.0,366.5 267.5,366.5 268.0,366.5 268.5,366.5 269.0,366.5 269.5,366.5 270.0,366.5 270.5,366.5 271.0,366.5 271.5,366.5 272.0,366.5 272.5,366.5 273.0,366.5 273.5,366.5 274.0,366.5 274.5,366.3 275.0,365.1 275.5,363.6 276.0,362.0 276.5,360.8 277.0,360.1 277.5,360.2 278.0,360.9 278.5,361.4 279.0,361.9 279.5,362.3 280.0,362.6 280.5,362.9 281.0,363.2 281.5,363.5 282.0,363.7 282.5,363.9 283.0,364.1 283.5,364.2 284.0,364.4 284.5,364.5 285.0,364.6 285.5,364.8 286.0,364.9 286.5,365.0 287.0,365.0 287.5,365.1 288.0,365.2 288.5,365.3 289.0,365.3 289.5,365.4 290.0,365.5 290.5,365.5 291.0,365.6 291.5,365.6 292.0,365.7 292.5,365.7 293.0,365.8 293.5,365.8 294.0,365.8 294.5,365.9 295.0,365.9 295.5,365.9 296.0,366.0 296.5,366.0 297.0,366.0"/>
<polyline fill="none" stroke="#6640a6" stroke-width="1.2" points="43.5,395.6 44.0,395.6 44.5,395.6 45.0,395.6 45.5,395.6 46.0,395.6 46.5,395.6 47.0,395.6 47.5,395.6 48.0,395.6 48.5,395.6 49.0,395.6 49.5,395.6 50.0,395.6 50.5,395.6 51.0,395.6 51.5,395.6 52.0,395.6 52.5,395.6 53.0,395.6 53.5,395.6 54.0,395.6 54.5,395.6 55.0,395.6 55.5,395.6 56.0,395.5 56.5,395.5 57.0,395.5 57.5,395.5 58.0,395.5 58.5,395.5 59.0,395.5 59.5,395.5 60.0,395.5 60.5,395.5 61.0,395.5 61.5,395.5 62.0,395.5 62.5,395.5 63.0,395.5 63.5,395.5 64.0,395.5 64.5,395.5 65.0,395.1 65.5,392.7 66.0,389.5 66.5,386.4 67.0,383.9 67.5,382.4 68.0,382.7 68.5,384.0 69.0,385.1 69.5,386.0 70.0,386.8 70.5,387.5 71.0,388.2 71.5,388.7 72.0,389.2 72.5,389.7 73.0,390.1 73.5,390.4 74.0,390.8 74.5,391.0 75.0,391.3 75.5,391.6 76.0,391.8 76.5,392.0 77.0,392.2 77.5,392.4 78.0,392.5 78.5,392.7 79.0,392.8 79.5,393.0 80.0,393.1 80.5,393.2 81.0,393.3 81.5,393.4 82.0,393.5 82.5,393.6 83.0,393.7 83.5,393.8 84.0,393.9 84.5,393.9 85.0,394.0 85.5,394.1 86.0,394.1 86.5,394.2 87.0,394.2 87.5,394.3 88.0,394.4 88.5,394.4 89.0,394.4 89.5,394.5 90.0,394.5 90.5,394.6 91.0,394.6 91.5,394.6 92.0,394.7 92.5,394.7 93.0,394.7 93.5,394.8 94.0,394.8 94.5,394.8 95.0,394.8 95.5,394.9 96.0,394.9 96.5,394.9 97.0,394.9 97.5,395.0 98.0,395.0 98.5,395.0 99.0,395.0 99.5,395.0 100.0,395.0 100.5,395.0 101.0,395.1 101.5,395.1 102.0,395.1 102.5,395.1 103.0,395.1 103.5,395.1 104.0,395.1 104.5,395.1 105.0,395.1 105.5,395.2 106.0,395.2 106.5,395.2 107.0,395.2 107.5,395.2 108.0,395.2 108.5,395.2 109.0,395.2 109.5,395.2 110.0,395.2 110.5,395.2 111.0,395.2 111.5,395.2 112.0,395.2 112.5,395.2 113.0,395.2 113.5,395.2 114.0,395.2 114.5,395.2 115.0,395.2 115.5,395.2 116.0,395.2 116.5,395.2 117.0,395.2 117.5,393.0 118.0,389.2 118.5,385.0 119.0,381.4 119.5,378.9 120.0,378.0 120.5,379.7 121.0,381.2 121.5,382.5 122.0,383.6 122.5,384.6 123.0,385.5 123.5,386.2 124.0,386.9 124.5,387.5 125.0,388.0 125.5,388.5 126.0,389.0 126.5,389.4 127.0,389.7 127.5,390.1 128.0,390.4 128.5,390.6 129.0,390.9 129.5,391.1 130.0,391.4 130.5,391.6 131.0,391.8 131.5,391.9 132.0,392.1 132.5,392.3 133.0,392.4 133.5,392.5 134.0,392.7 134.5,392.8 135.0,392.9 135.5,393.0 136.0,393.1 136.5,393.2 137.0,393.3 137.5,393.4 138.0,393.5 138.5,393.6 139.0,393.7 139.5,393.7 140.0,393.8 140.5,393.9 141.0,393.9 141.5,394.0 142.0,394.0 142.5,394.1 143.0,394.1 143.5,394.2 144.0,394.2 144.5,394.3 145.0,394.3 145.5,394.4 146.0,394.4 146.5,394.4 147.0,394.5 147.5,394.5 148.0,394.5 148.5,394.6 149.0,394.6 149.5,394.6 150.0,394.6 150.5,394.7 151.0,394.7 151.5,394.7 152.0,394.7 152.5,394.7 153.0,394.8 153.5,394.8 154.0,394.8 154.5,394.8 155.0,394.8 155.5,394.8 156.0,394.8 156.5,394.9 157.0,394.9 157.5,394.9 158.0,394.9 158.5,394.9 159.0,394.9 159.5,394.9 160.0,394.9 160.5,394.9 161.0,394.9 161.5,395.0 162.0,395.0 162.5,395.0 163.0,395.0 163.5,395.0 164.0,395.0 164.5,395.0 165.0,395.0 165.5,395.0 166.0,395.0 166.5,395.0 167.0,395.0 167.5,395.0 168.0,395.0 168.5,395.0 169.0,395.0 169.5,394.0 170.0,390.6 170.5,386.5 171.0,382.7 171.5,379.7 172.0,378.2 172.5,379.1 173.0,380.6 173.5,381.9 174.0,383.1 174.5,384.1 175.0,385.0 175.5,385.8 176.0,386.5 176.5,387.1 177.0,387.7 177.5,388.2 178.0,388.7 178.5,389.1 179.0,389.4 179.5,389.8 180.0,390.1 180.5,390.4 181.0,390.6 181.5,390.9 182.0,391.1 182.5,391.3 183.0,391.5 183.5,391.7 184.0,391.9 184.5,392.0 185.0,392.2 185.5,392.3 186.0,392.5 186.5,392.6 187.0,392.7 187.5,392.8 188.0,392.9 188.5,393.0 189.0,393.1 189.5,393.2 190.0,393.3 190.5,393.4 191.0,393.4 191.5,393.5 192.0,393.6 192.5,393.6 193.0,393.7 193.5,393.8 194.0,393.8 194.5,393.9 195.0,393.9 195.5,394.0 196.0,394.0 196.5,394.1 197.0,394.1 197.5,394.1 198.0,394.2 198.5,394.2 199.0,394.3 199.5,394.3 200.0,394.3 200.5,394.3 201.0,394.4 201.5,394.4 202.0,394.4 202.5,394.4 203.0,394.5 203.5,394.5 204.0,394.5 204.5,394.5 205.0,394.6 205.5,394.6 206.0,394.6 206.5,394.6 207.0,394.6 207.5,394.6 208.0,394.6 208.5,394.7 209.0,394.7 209.5,394.7 210.0,394.7 210.5,394.7 211.0,394.7 211.5,394.7 212.0,394.7 212.5,394.7 213.0,394.7 213.5,394.7 214.0,394.8 214.5,394.8 215.0,394.8 215.5,394.8 216.0,394.8 216.5,394.8 217.0,394.8 217.5,394.8 218.0,394.8 218.5,394.8 219.0,394.8 219.5,394.8 220.0,394.8 220.5,394.8 221.0,394.8 221.5,394.4 222.0,392.1 222.5,389.0 223.0,386.1 223.5,383.6 224.0,382.3 224.5,382.5 225.0,383.7 225.5,384.8 226.0,385.7 226.5,386.5 227.0,387.2 227.5,387.8 228.0,388.3 228.5,388.8 229.0,389.2 229.5,389.6 230.0,390.0 230.5,390.3 231.0,390.6 231.5,390.8 232.0,391.1 232.5,391.3 233.0,391.5 233.5,391.7 234.0,391.8 234.5,392.0 235.0,392.2 235.5,392.3 236.0,392.4 236.5,392.5 237.0,392.7 237.5,392.8 238.0,392.9 238.5,393.0 239.0,393.0 239.5,393.1 240.0,393.2 240.5,393.3 241.0,393.4 241.5,393.4 242.0,393.5 242.5,393.6 243.0,393.6 243.5,393.7 244.0,393.7 244.5,393.8 245.0,393.8 245.5,393.9 246.0,393.9 246.5,393.9 247.0,394.0 247.5,394.0 248.0,394.1 248.5,394.1 249.0,394.1 249.5,394.1 250.0,394.2 250.5,394.2 251.0,394.2 251.5,394.2 252.0,394.3 252.5,394.3 253.0,394.3 253.5,394.3 254.0,394.4 254.5,394.4 255.0,394.4 255.5,394.4 256.0,394.4 256.5,394.4 257.0,394.4 257.5,394.5 258.0,394.5 258.5,394.5 259.0,394.5 259.5,394.5 260.0,394.5 260.5,394.5 261.0,394.5 261.5,394.5 262.0,394.5 262.5,394.6 263.0,394.6 263.5,394.6 264.0,394.6 264.5,394.6 265.0,394.6 265.5,394.6 266.0,394.6 266.5,394.6 267.0,394.6 267.5,394.6 268.0,394.6 268.5,394.6 269.0,394.6 269.5,394.6 270.0,394.6 270.5,394.6 271.0,394.6 271.5,394.6 272.0,394.6 272.5,394.6 273.0,394.6 273.5,394.6 274.0,394.6 274.5,394.4 275.0,393.2 275.5,391.7 276.0,390.2 276.5,389.0 277.0,388.3 277.5,388.4 278.0,389.0 278.5,389.5 279.0,390.0 279.5,390.4 280.0,390.7 280.5,391.1 281.0,391.3 281.5,391.6 282.0,391.8 282.5,392.0 283.0,392.2 283.5,392.3 284.0,392.5 284.5,392.6 285.0,392.7 285.5,392.8 286.0,392.9 286.5,393.0 287.0,393.1 287.5,393.2 288.0,393.3 288.5,393.3 289.0,393.4 289.5,393.5 290.0,393.5 290.5,393.6 291.0,393.6 291.5,393.7 292.0,393.7 292.5,393.8 293.0,393.8 293.5,393.8 294.0,393.9 294.5,393.9 295.0,393.9 295.5,394.0 296.0,394.0 296.5,394.0 297.0,394.0"/>
<polyline fill="none" stroke="#6640a6" stroke-width="1.2" points="43.5,423.4 44.0,423.4 44.5,423.4 45.0,423.4 45.5,423.4 46.0,423.4 46.5,423.4 47.0,423.4 47.5,423.4 48.0,423.4 48.5,423.4 49.0,423.4 49.5,423.4 50.0,423.4 50.5,423.4 51.0,423.4 51.5,423.4 52.0,423.4 52.5,423.4 53.0,423.4 53.5,423.4 54.0,423.4 54.5,423.4 55.0,423.3 55.5,423.3 56.0,423.3 56.5,423.3 57.0,423.3 57.5,423.3 58.0,423.3 58.5,423.3 59.0,423.3 59.5,423.3 60.0,423.3 60.5,423.3 61.0,423.3 61.5,423.3 62.0,423.3 62.5,423.3 63.0,423.3 63.5,423.3 64.0,423.3 64.5,423.3 65.0,422.9 65.5,421.0 66.0,418.4 66.5,415.8 67.0,413.8 67.5,412.6 68.0,412.8 68.5,413.8 69.0,414.7 69.5,415.5 70.0,416.2 70.5,416.8 71.0,417.3 71.5,417.7 72.0,418.1 72.5,418.5 73.0,418.8 73.5,419.1 74.0,419.4 74.5,419.6 75.0,419.9 75.5,420.1 76.0,420.2 76.5,420.4 77.0,420.6 77.5,420.7 78.0,420.8 78.5,421.0 79.0,421.1 79.5,421.2 80.0,421.3 80.5,421.4 81.0,421.5 81.5,421.6 82.0,421.6 82.5,421.7 83.0,421.8 83.5,421.9 84.0,421.9 84.5,422.0 85.0,422.0 85.5,422.1 86.0,422.1 86.5,422.2 87.0,422.2 87.5,422.3 88.0,422.3 88.5,422.4 89.0,422.4 89.5,422.4 90.0,422.5 90.5,422.5 91.0,422.5 91.5,422.6 92.0,422.6 92.5,422.6 93.0,422.6 93.5,422.7 94.0,422.7 94.5,422.7 95.0,422.7 95.5,422.7 96.0,422.8 96.5,422.8 97.0,422.8 97.5,422.8 98.0,422.8 98.5,422.8 99.0,422.9 99.5,422.9 100.0,422.9 100.5,422.9 101.0,422.9 101.5,422.9 102.0,422.9 102.5,422.9 103.0,422.9 103.5,422.9 104.0,422.9 104.5,423.0 105.0,423.0 105.5,423.0 106.0,423.0 106.5,423.0 107.0,423.0 107.5,423.0 108.0,423.0 108.5,423.0 109.0,423.0 109.5,423.0 110.0,423.0 110.5,423.0 111.0,423.0 111.5,423.0 112.0,423.0 112.5,423.0 113.0,423.0 113.5,423.0 114.0,423.0 114.5,423.0 115.0,423.0 115.5,423.0 116.0,423.0 116.5,423.0 117.0,423.0 117.5,421.1 118.0,417.8 118.5,414.2 119.0,411.1 119.5,409.0 120.0,408.2 120.5,409.7 121.0,410.9 121.5,412.0 122.0,413.0 122.5,413.9 123.0,414.6 123.5,415.3 124.0,415.8 124.5,416.4 125.0,416.8 125.5,417.2 126.0,417.6 126.5,418.0 127.0,418.3 127.5,418.6 128.0,418.8 128.5,419.1 129.0,419.3 129.5,419.5 130.0,419.7 130.5,419.8 131.0,420.0 131.5,420.2 132.0,420.3 132.5,420.4 133.0,420.6 133.5,420.7 134.0,420.8 134.5,420.9 135.0,421.0 135.5,421.1 136.0,421.2 136.5,421.3 137.0,421.4 137.5,421.4 138.0,421.5 138.5,421.6 139.0,421.6 139.5,421.7 140.0,421.8 140.5,421.8 141.0,421.9 141.5,421.9 142.0,422.0 142.5,422.0 143.0,422.1 143.5,422.1 144.0,422.1 144.5,422.2 145.0,422.2 145.5,422.2 146.0,422.3 146.5,422.3 147.0,422.3 147.5,422.4 148.0,422.4 148.5,422.4 149.0,422.4 149.5,422.4 150.0,422.5 150.5,422.5 151.0,422.5 151.5,422.5 152.0,422.5 152.5,422.6 153.0,422.6 153.5,422.6 154.0,422.6 154.5,422.6 155.0,422.6 155.5,422.6 156.0,422.6 156.5,422.7 157.0,422.7 157.5,422.7 158.0,422.7 158.5,422.7 159.0,422.7 159.5,422.7 160.0,422.7 160.5,422.7 161.0,422.7 161.5,422.7 162.0,422.7 162.5,422.7 163.0,422.7 163.5,422.8 164.0,422.8 164.5,422.8 165.0,422.8 165.5,422.8 166.0,422.8 166.5,422.8 167.0,422.8 167.5,422.8 168.0,422.8 168.5,422.8 169.0,422.8 169.5,421.9 170.0,418.9 170.5,415.4 171.0,412.0 171.5,409.4 172.0,408.1 172.5,408.9 173.0,410.2 173.5,411.4 174.0,412.4 174.5,413.3 175.0,414.1 175.5,414.8 176.0,415.4 176.5,415.9 177.0,416.4 177.5,416.8 178.0,417.2 178.5,417.6 179.0,417.9 179.5,418.2 180.0,418.5 180.5,418.7 181.0,419.0 181.5,419.2 182.0,419.4 182.5,419.5 183.0,419.7 183.5,419.9 184.0,420.0 184.5,420.2 185.0,420.3 185.5,420.4 186.0,420.5 186.5,420.6 187.0,420.7 187.5,420.8 188.0,420.9 188.5,421.0 189.0,421.1 189.5,421.2 190.0,421.2 190.5,421.3 191.0,421.4 191.5,421.4 192.0,421.5 192.5,421.6 193.0,421.6 193.5,421.7 194.0,421.7 194.5,421.8 195.0,421.8 195.5,421.8 196.0,421.9 196.5,421.9 197.0,422.0 197.5,422.0 198.0,422.0 198.5,422.1 199.0,422.1 199.5,422.1 200.0,422.1 200.5,422.2 201.0,422.2 201.5,422.2 202.0,422.2 202.5,422.3 203.0,422.3 203.5,422.3 204.0,422.3 204.5,422.3 205.0,422.3 205.5,422.4 206.0,422.4 206.5,422.4 207.0,422.4 207.5,422.4 208.0,422.4 208.5,422.4 209.0,422.4 209.5,422.4 210.0,422.5 210.5,422.5 211.0,422.5 211.5,422.5 212.0,422.5 212.5,422.5 213.0,422.5 213.5,422.5 214.0,422.5 214.5,422.5 215.0,422.5 215.5,422.5 216.0,422.5 216.5,422.5 217.0,422.5 217.5,422.5 218.0,422.5 218.5,422.5 219.0,422.5 219.5,422.5 220.0,422.6 220.5,422.6 221.0,422.6 221.5,422.2 222.0,420.2 222.5,417.7 223.0,415.2 223.5,413.1 224.0,412.0 224.5,412.2 225.0,413.2 225.5,414.1 226.0,414.8 226.5,415.5 227.0,416.1 227.5,416.6 228.0,417.1 228.5,417.5 229.0,417.8 229.5,418.2 230.0,418.5 230.5,418.7 231.0,419.0 231.5,419.2 232.0,419.4 232.5,419.6 233.0,419.7 233.5,419.9 234.0,420.0 234.5,420.2 235.0,420.3 235.5,420.4 236.0,420.5 236.5,420.6 237.0,420.7 237.5,420.8 238.0,420.9 238.5,421.0 239.0,421.0 239.5,421.1 240.0,421.2 240.5,421.2 241.0,421.3 241.5,421.4 242.0,421.4 242.5,421.5 243.0,421.5 243.5,421.6 244.0,421.6 244.5,421.7 245.0,421.7 245.5,421.7 246.0,421.8 246.5,421.8 247.0,421.8 247.5,421.9 248.0,421.9 248.5,421.9 249.0,421.9 249.5,422.0 250.0,422.0 250.5,422.0 251.0,422.0 251.5,422.1 252.0,422.1 252.5,422.1 253.0,422.1 253.5,422.1 254.0,422.1 254.5,422.1 255.0,422.2 255.5,422.2 256.0,422.2 256.5,422.2 257.0,422.2 257.5,422.2 258.0,422.2 258.5,422.2 259.0,422.2 259.5,422.3 260.0,422.3 260.5,422.3 261.0,422.3 261.5,422.3 262.0,422.3 262.5,422.3 263.0,422.3 263.5,422.3 264.0,422.3 264.5,422.3 265.0,422.3 265.5,422.3 266.0,422.3 266.5,422.3 267.0,422.3 267.5,422.3 268.0,422.3 268.5,422.3 269.0,422.3 269.5,422.3 270.0,422.3 270.5,422.3 271.0,422.3 271.5,422.3 272.0,422.3 272.5,422.3 273.0,422.3 273.5,422.4 274.0,422.4 274.5,422.2 275.0,421.2 275.5,420.0 276.0,418.8 276.5,417.8 277.0,417.2 277.5,417.4 278.0,417.8 278.5,418.3 279.0,418.6 279.5,419.0 280.0,419.2 280.5,419.5 281.0,419.7 281.5,419.9 282.0,420.1 282.5,420.2 283.0,420.4 283.5,420.5 284.0,420.6 284.5,420.7 285.0,420.8 285.5,420.9 286.0,421.0 286.5,421.1 287.0,421.1 287.5,421.2 288.0,421.2 288.5,421.3 289.0,421.3 289.5,421.4 290.0,421.4 290.5,421.5 291.0,421.5 291.5,421.6 292.0,421.6 292.5,421.6 293.0,421.7 293.5,421.7 294.0,421.7 294.5,421.7 295.0,421.8 295.5,421.8 296.0,421.8 296.5,421.8 297.0,421.9"/>
<polyline fill="none" stroke="#6640a6" stroke-width="1.2" points="43.5,462.1 44.0,462.1 44.5,462.1 45.0,462.1 45.5,462.1 46.0,462.1 46.5,462.1 47.0,462.1 47.5,462.1 48.0,462.1 48.5,462.1 49.0,462.1 49.5,462.1 50.0,462.1 50.5,462.1 51.0,462.1 51.5,462.1 52.0,462.1 52.5,462.1 53.0,462.1 53.5,462.1 54.0,462.1 54.5,462.1 55.0,462.0 55.5,462.0 56.0,462.0 56.5,462.0 57.0,462.0 57.5,462.0 58.0,462.0 58.5,462.0 59.0,462.0 59.5,462.0 60.0,462.0 60.5,462.0 61.0,462.0 61.5,462.0 62.0,462.0 62.5,462.0 63.0,462.0 63.5,462.0 64.0,462.0 64.5,462.0 65.0,461.4 65.5,458.2 66.0,454.1 66.5,449.9 67.0,446.6 67.5,444.7 68.0,445.1 68.5,446.7 69.0,448.2 69.5,449.4 70.0,450.5 70.5,451.4 71.0,452.3 71.5,453.0 72.0,453.7 72.5,454.3 73.0,454.8 73.5,455.3 74.0,455.7 74.5,456.1 75.0,456.5 75.5,456.8 76.0,457.1 76.5,457.4 77.0,457.6 77.5,457.8 78.0,458.1 78.5,458.3 79.0,458.5 79.5,458.6 80.0,458.8 80.5,459.0 81.0,459.1 81.5,459.2 82.0,459.4 82.5,459.5 83.0,459.6 83.5,459.7 84.0,459.8 84.5,459.9 85.0,460.0 85.5,460.1 86.0,460.2 86.5,460.3 87.0,460.3 87.5,460.4 88.0,460.5 88.5,460.6 89.0,460.6 89.5,460.7 90.0,460.7 90.5,460.8 91.0,460.8 91.5,460.9 92.0,460.9 92.5,461.0 93.0,461.0 93.5,461.0 94.0,461.1 94.5,461.1 95.0,461.1 95.5,461.2 96.0,461.2 96.5,461.2 97.0,461.3 97.5,461.3 98.0,461.3 98.5,461.3 99.0,461.4 99.5,461.4 100.0,461.4 100.5,461.4 101.0,461.4 101.5,461.5 102.0,461.5 102.5,461.5 103.0,461.5 103.5,461.5 104.0,461.5 104.5,461.5 105.0,461.6 105.5,461.6 106.0,461.6 106.5,461.6 107.0,461.6 107.5,461.6 108.0,461.6 108.5,461.6 109.0,461.6 109.5,461.6 110.0,461.6 110.5,461.6 111.0,461.6 111.5,461.7 112.0,461.7 112.5,461.7 113.0,461.7 113.5,461.7 114.0,461.7 114.5,461.7 115.0,461.7 115.5,461.7 116.0,461.7 116.5,461.7 117.0,461.7 117.5,458.5 118.0,453.2 118.5,447.5 119.0,442.4 119.5,439.0 120.0,437.8 120.5,440.2 121.0,442.2 121.5,444.0 122.0,445.5 122.5,446.9 123.0,448.1 123.5,449.2 124.0,450.1 124.5,450.9 125.0,451.7 125.5,452.4 126.0,453.0 126.5,453.5 127.0,454.0 127.5,454.5 128.0,454.9 128.5,455.3 129.0,455.7 129.5,456.0 130.0,456.3 130.5,456.6 131.0,456.9 131.5,457.1 132.0,457.3 132.5,457.6 133.0,457.8 133.5,458.0 134.0,458.1 134.5,458.3 135.0,458.5 135.5,458.6 136.0,458.8 136.5,458.9 137.0,459.1 137.5,459.2 138.0,459.3 138.5,459.4 139.0,459.5 139.5,459.6 140.0,459.7 140.5,459.8 141.0,459.9 141.5,460.0 142.0,460.0 142.5,460.1 143.0,460.2 143.5,460.3 144.0,460.3 144.5,460.4 145.0,460.4 145.5,460.5 146.0,460.5 146.5,460.6 147.0,460.6 147.5,460.7 148.0,460.7 148.5,460.8 149.0,460.8 149.5,460.8 150.0,460.9 150.5,460.9 151.0,460.9 151.5,461.0 152.0,461.0 152.5,461.0 153.0,461.1 153.5,461.1 154.0,461.1 154.5,461.1 155.0,461.1 155.5,461.2 156.0,461.2 156.5,461.2 157.0,461.2 157.5,461.2 158.0,461.2 158.5,461.3 159.0,461.3 159.5,461.3 160.0,461.3 160.5,461.3 161.0,461.3 161.5,461.3 162.0,461.3 162.5,461.4 163.0,461.4 163.5,461.4 164.0,461.4 164.5,461.4 165.0,461.4 165.5,461.4 166.0,461.4 166.5,461.4 167.0,461.4 167.5,461.4 168.0,461.4 168.5,461.4 169.0,461.4 169.5,460.0 170.0,455.4 170.5,449.8 171.0,444.4 171.5,440.3 172.0,438.2 172.5,439.5 173.0,441.6 173.5,443.4 174.0,445.0 174.5,446.4 175.0,447.7 175.5,448.8 176.0,449.7 176.5,450.6 177.0,451.4 177.5,452.1 178.0,452.7 178.5,453.3 179.0,453.8 179.5,454.2 180.0,454.7 180.5,455.1 181.0,455.4 181.5,455.8 182.0,456.1 182.5,456.4 183.0,456.6 183.5,456.9 184.0,457.1 184.5,457.3 185.0,457.5 185.5,457.7 186.0,457.9 186.5,458.1 187.0,458.3 187.5,458.4 188.0,458.6 188.5,458.7 189.0,458.8 189.5,458.9 190.0,459.1 190.5,459.2 191.0,459.3 191.5,459.4 192.0,459.5 192.5,459.6 193.0,459.7 193.5,459.7 194.0,459.8 194.5,459.9 195.0,460.0 195.5,460.0 196.0,460.1 196.5,460.2 197.0,460.2 197.5,460.3 198.0,460.3 198.5,460.4 199.0,460.4 199.5,460.5 200.0,460.5 200.5,460.5 201.0,460.6 201.5,460.6 202.0,460.7 202.5,460.7 203.0,460.7 203.5,460.7 204.0,460.8 204.5,460.8 205.0,460.8 205.5,460.9 206.0,460.9 206.5,460.9 207.0,460.9 207.5,460.9 208.0,461.0 208.5,461.0 209.0,461.0 209.5,461.0 210.0,461.0 210.5,461.0 211.0,461.1 211.5,461.1 212.0,461.1 212.5,461.1 213.0,461.1 213.5,461.1 214.0,461.1 214.5,461.1 215.0,461.1 215.5,461.1 216.0,461.2 216.5,461.2 217.0,461.2 217.5,461.2 218.0,461.2 218.5,461.2 219.0,461.2 219.5,461.2 220.0,461.2 220.5,461.2 221.0,461.2 221.5,460.7 222.0,457.7 222.5,453.8 223.0,450.0 223.5,446.9 224.0,445.1 224.5,445.5 225.0,447.0 225.5,448.4 226.0,449.5 226.5,450.5 227.0,451.4 227.5,452.2 228.0,452.9 228.5,453.5 229.0,454.1 229.5,454.6 230.0,455.0 230.5,455.4 231.0,455.8 231.5,456.1 232.0,456.4 232.5,456.7 233.0,457.0 233.5,457.2 234.0,457.4 234.5,457.6 235.0,457.8 235.5,458.0 236.0,458.2 236.5,458.3 237.0,458.5 237.5,458.6 238.0,458.7 238.5,458.9 239.0,459.0 239.5,459.1 240.0,459.2 240.5,459.3 241.0,459.4 241.5,459.5 242.0,459.5 242.5,459.6 243.0,459.7 243.5,459.8 244.0,459.8 244.5,459.9 245.0,460.0 245.5,460.0 246.0,460.1 246.5,460.1 247.0,460.2 247.5,460.2 248.0,460.3 248.5,460.3 249.0,460.3 249.5,460.4 250.0,460.4 250.5,460.5 251.0,460.5 251.5,460.5 252.0,460.5 252.5,460.6 253.0,460.6 253.5,460.6 254.0,460.7 254.5,460.7 255.0,460.7 255.5,460.7 256.0,460.7 256.5,460.8 257.0,460.8 257.5,460.8 258.0,460.8 258.5,460.8 259.0,460.8 259.5,460.8 260.0,460.9 260.5,460.9 261.0,460.9 261.5,460.9 262.0,460.9 262.5,460.9 263.0,460.9 263.5,460.9 264.0,460.9 264.5,460.9 265.0,461.0 265.5,461.0 266.0,461.0 266.5,461.0 267.0,461.0 267.5,461.0 268.0,461.0 268.5,461.0 269.0,461.0 269.5,461.0 270.0,461.0 270.5,461.0 271.0,461.0 271.5,461.0 272.0,461.0 272.5,461.0 273.0,461.0 273.5,461.0 274.0,461.0 274.5,460.7 275.0,459.2 275.5,457.2 276.0,455.2 276.5,453.6 277.0,452.7 277.5,452.9 278.0,453.7 278.5,454.4 279.0,455.0 279.5,455.5 280.0,455.9 280.5,456.3 281.0,456.7 281.5,457.0 282.0,457.3 282.5,457.6 283.0,457.8 283.5,458.0 284.0,458.2 284.5,458.4 285.0,458.5 285.5,458.7 286.0,458.8 286.5,458.9 287.0,459.0 287.5,459.1 288.0,459.2 288.5,459.3 289.0,459.4 289.5,459.5 290.0,459.6 290.5,459.6 291.0,459.7 291.5,459.8 292.0,459.8 292.5,459.9 293.0,459.9 293.5,460.0 294.0,460.0 294.5,460.1 295.0,460.1 295.5,460.2 296.0,460.2 296.5,460.2 297.0,460.3"/>
<polyline fill="none" stroke="#7a54b0" stroke-width="1.2" points="43.5,480.4 44.0,480.5 44.5,480.6 45.0,480.7 45.5,480.8 46.0,480.9 46.5,481.0 47.0,481.1 47.5,481.2 48.0,481.3 48.5,481.4 49.0,481.5 49.5,481.6 50.0,481.7 50.5,481.8 51.0,481.9 51.5,482.0 52.0,482.1 52.5,482.1 53.0,482.2 53.5,482.3 54.0,482.4 54.5,482.5 55.0,482.6 55.5,482.7 56.0,482.8 56.5,482.9 57.0,483.0 57.5,483.1 58.0,483.2 58.5,483.3 59.0,483.4 59.5,483.5 60.0,483.6 60.5,483.7 61.0,483.8 61.5,483.9 62.0,484.0 62.5,484.0 63.0,484.0 63.5,484.0 64.0,484.0 64.5,484.0 65.0,483.9 65.5,483.3 66.0,482.4 66.5,481.5 67.0,480.8 67.5,480.3 68.0,480.1 68.5,480.3 69.0,480.6 69.5,480.8 70.0,481.0 70.5,481.1 71.0,481.3 71.5,481.4 72.0,481.6 72.5,481.7 73.0,481.8 73.5,482.0 74.0,482.1 74.5,482.2 75.0,482.3 75.5,482.4 76.0,482.4 76.5,482.5 77.0,482.6 77.5,482.7 78.0,482.7 78.5,482.8 79.0,482.9 79.5,482.9 80.0,483.0 80.5,483.0 81.0,483.1 81.5,483.1 82.0,483.2 82.5,483.2 83.0,483.3 83.5,483.3 84.0,483.3 84.5,483.4 85.0,483.4 85.5,483.5 86.0,483.5 86.5,483.5 87.0,483.6 87.5,483.6 88.0,483.6 88.5,483.7 89.0,483.7 89.5,483.7 90.0,483.7 90.5,483.8 91.0,483.8 91.5,483.8 92.0,483.8 92.5,483.9 93.0,483.9 93.5,483.9 94.0,483.9 94.5,484.0 95.0,484.0 95.5,484.0 96.0,484.0 96.5,484.0 97.0,484.1 97.5,484.1 98.0,484.1 98.5,484.1 99.0,484.1 99.5,484.2 100.0,484.2 100.5,484.2 101.0,484.2 101.5,484.2 102.0,484.2 102.5,484.3 103.0,484.3 103.5,484.3 104.0,484.3 104.5,484.3 105.0,484.3 105.5,484.4 106.0,484.4 106.5,484.4 107.0,484.4 107.5,484.4 108.0,484.4 108.5,484.4 109.0,484.5 109.5,484.5 110.0,484.5 110.5,484.5 111.0,484.5 111.5,484.5 112.0,484.5 112.5,484.5 113.0,484.6 113.5,484.6 114.0,484.6 114.5,484.6 115.0,484.6 115.5,484.6 116.0,484.6 116.5,484.6 117.0,484.6 117.5,484.2 118.0,483.4 118.5,482.5 119.0,481.7 119.5,481.0 120.0,480.7 120.5,480.9 121.0,481.1 121.5,481.3 122.0,481.5 122.5,481.7 123.0,481.9 123.5,482.0 124.0,482.2 124.5,482.3 125.0,482.5 125.5,482.6 126.0,482.7 126.5,482.8 127.0,482.9 127.5,483.0 128.0,483.1 128.5,483.2 129.0,483.2 129.5,483.3 130.0,483.4 130.5,483.5 131.0,483.5 131.5,483.6 132.0,483.6 132.5,483.7 133.0,483.8 133.5,483.8 134.0,483.9 134.5,483.9 135.0,483.9 135.5,484.0 136.0,484.0 136.5,484.1 137.0,484.1 137.5,484.1 138.0,484.2 138.5,484.2 139.0,484.3 139.5,484.3 140.0,484.3 140.5,484.4 141.0,484.4 141.5,484.4 142.0,484.4 142.5,484.5 143.0,484.5 143.5,484.5 144.0,484.5 144.5,484.6 145.0,484.6 145.5,484.6 146.0,484.6 146.5,484.7 147.0,484.7 147.5,484.7 148.0,484.7 148.5,484.8 149.0,484.8 149.5,484.8 150.0,484.8 150.5,484.8 151.0,484.9 151.5,484.9 152.0,484.9 152.5,484.9 153.0,484.9 153.5,485.0 154.0,485.0 154.5,485.0 155.0,485.0 155.5,485.0 156.0,485.0 156.5,485.1 157.0,485.1 157.5,485.1 158.0,485.1 158.5,485.1 159.0,485.1 159.5,485.1 160.0,485.2 160.5,485.2 161.0,485.2 161.5,485.2 162.0,485.2 162.5,485.2 163.0,485.2 163.5,485.3 164.0,485.3 164.5,485.3 165.0,485.3 165.5,485.3 166.0,485.3 166.5,485.3 167.0,485.3 167.5,485.4 168.0,485.4 168.5,485.4 169.0,485.4 169.5,485.2 170.0,484.5 170.5,483.7 171.0,482.8 171.5,482.2 172.0,481.8 172.5,481.7 173.0,481.9 173.5,482.2 174.0,482.4 174.5,482.5 175.0,482.7 175.5,482.9 176.0,483.0 176.5,483.1 177.0,483.3 177.5,483.4 178.0,483.5 178.5,483.6 179.0,483.7 179.5,483.8 180.0,483.9 180.5,484.0 181.0,484.0 181.5,484.1 182.0,484.2 182.5,484.3 183.0,484.3 183.5,484.4 184.0,484.4 184.5,484.5 185.0,484.5 185.5,484.6 186.0,484.6 186.5,484.7 187.0,484.7 187.5,484.8 188.0,484.8 188.5,484.9 189.0,484.9 189.5,484.9 190.0,485.0 190.5,485.0 191.0,485.0 191.5,485.1 192.0,485.1 192.5,485.1 193.0,485.2 193.5,485.2 194.0,485.2 194.5,485.2 195.0,485.3 195.5,485.3 196.0,485.3 196.5,485.3 197.0,485.4 197.5,485.4 198.0,485.4 198.5,485.4 199.0,485.5 199.5,485.5 200.0,485.5 200.5,485.5 201.0,485.5 201.5,485.6 202.0,485.6 202.5,485.6 203.0,485.6 203.5,485.6 204.0,485.7 204.5,485.7 205.0,485.7 205.5,485.7 206.0,485.7 206.5,485.7 207.0,485.8 207.5,485.8 208.0,485.8 208.5,485.8 209.0,485.8 209.5,485.8 210.0,485.9 210.5,485.9 211.0,485.9 211.5,485.9 212.0,485.9 212.5,485.9 213.0,485.9 213.5,486.0 214.0,486.0 214.5,486.0 215.0,486.0 215.5,486.0 216.0,486.0 216.5,486.0 217.0,486.0 217.5,486.1 218.0,486.1 218.5,486.1 219.0,486.1 219.5,486.1 220.0,486.1 220.5,486.1 221.0,486.1 221.5,486.1 222.0,485.7 222.5,485.1 223.0,484.5 223.5,484.0 224.0,483.7 224.5,483.6 225.0,483.8 225.5,483.9 226.0,484.1 226.5,484.2 227.0,484.3 227.5,484.4 228.0,484.5 228.5,484.6 229.0,484.7 229.5,484.8 230.0,484.9 230.5,485.0 231.0,485.0 231.5,485.1 232.0,485.2 232.5,485.2 233.0,485.3 233.5,485.3 234.0,485.4 234.5,485.4 235.0,485.5 235.5,485.5 236.0,485.6 236.5,485.6 237.0,485.7 237.5,485.7 238.0,485.7 238.5,485.8 239.0,485.8 239.5,485.8 240.0,485.9 240.5,485.9 241.0,485.9 241.5,485.9 242.0,486.0 242.5,486.0 243.0,486.0 243.5,486.1 244.0,486.1 244.5,486.1 245.0,486.1 245.5,486.1 246.0,486.2 246.5,486.2 247.0,486.2 247.5,486.2 248.0,486.2 248.5,486.3 249.0,486.3 249.5,486.3 250.0,486.3 250.5,486.3 251.0,486.4 251.5,486.4 252.0,486.4 252.5,486.4 253.0,486.4 253.5,486.4 254.0,486.5 254.5,486.5 255.0,486.5 255.5,486.5 256.0,486.5 256.5,486.5 257.0,486.6 257.5,486.6 258.0,486.6 258.5,486.6 259.0,486.6 259.5,486.6 260.0,486.6 260.5,486.6 261.0,486.7 261.5,486.7 262.0,486.7 262.5,486.7 263.0,486.7 263.5,486.7 264.0,486.7 264.5,486.7 265.0,486.8 265.5,486.8 266.0,486.8 266.5,486.8 267.0,486.8 267.5,486.8 268.0,486.8 268.5,486.8 269.0,486.9 269.5,486.9 270.0,486.9 270.5,486.9 271.0,486.9 271.5,486.9 272.0,486.9 272.5,486.9 273.0,486.9 273.5,486.9 274.0,487.0 274.5,486.9 275.0,486.6 275.5,486.2 276.0,485.8 276.5,485.5 277.0,485.3 277.5,485.2 278.0,485.3 278.5,485.4 279.0,485.5 279.5,485.6 280.0,485.7 280.5,485.8 281.0,485.9 281.5,485.9 282.0,486.0 282.5,486.1 283.0,486.1 283.5,486.2 284.0,486.2 284.5,486.3 285.0,486.3 285.5,486.4 286.0,486.4 286.5,486.5 287.0,486.5 287.5,486.5 288.0,486.6 288.5,486.6 289.0,486.6 289.5,486.7 290.0,486.7 290.5,486.7 291.0,486.7 291.5,486.8 292.0,486.8 292.5,486.8 293.0,486.8 293.5,486.9 294.0,486.9 294.5,486.9 295.0,486.9 295.5,486.9 296.0,487.0 296.5,487.0 297.0,487.0"/>
<polyline fill="none" stroke="#6e48a8" stroke-width="1.2" points="43.5,518.9 44.0,518.9 44.5,518.9 45.0,518.9 45.5,518.9 46.0,518.9 46.5,518.9 47.0,518.9 47.5,518.9 48.0,518.9 48.5,518.9 49.0,518.9 49.5,518.9 50.0,518.9 50.5,518.9 51.0,518.9 51.5,518.9 52.0,518.9 52.5,518.9 53.0,518.9 53.5,518.9 54.0,518.9 54.5,518.9 55.0,518.9 55.5,518.9 56.0,518.9 56.5,518.9 57.0,518.9 57.5,518.9 58.0,518.9 58.5,518.9 59.0,518.9 59.5,518.9 60.0,518.9 60.5,518.9 61.0,518.9 61.5,518.8 62.0,518.8 62.5,518.8 63.0,518.8 63.5,518.8 64.0,518.8 64.5,518.8 65.0,518.3 65.5,515.3 66.0,511.3 66.5,507.4 67.0,504.3 67.5,502.4 68.0,502.8 68.5,504.3 69.0,505.6 69.5,506.7 70.0,507.7 70.5,508.6 71.0,509.4 71.5,510.1 72.0,510.7 72.5,511.3 73.0,511.8 73.5,512.2 74.0,512.7 74.5,513.0 75.0,513.4 75.5,513.7 76.0,514.0 76.5,514.2 77.0,514.5 77.5,514.7 78.0,514.9 78.5,515.1 79.0,515.3 79.5,515.5 80.0,515.6 80.5,515.8 81.0,515.9 81.5,516.1 82.0,516.2 82.5,516.3 83.0,516.4 83.5,516.5 84.0,516.6 84.5,516.7 85.0,516.8 85.5,516.9 86.0,517.0 86.5,517.1 87.0,517.2 87.5,517.2 88.0,517.3 88.5,517.4 89.0,517.4 89.5,517.5 90.0,517.5 90.5,517.6 91.0,517.7 91.5,517.7 92.0,517.7 92.5,517.8 93.0,517.8 93.5,517.9 94.0,517.9 94.5,517.9 95.0,518.0 95.5,518.0 96.0,518.0 96.5,518.1 97.0,518.1 97.5,518.1 98.0,518.2 98.5,518.2 99.0,518.2 99.5,518.2 100.0,518.3 100.5,518.3 101.0,518.3 101.5,518.3 102.0,518.3 102.5,518.3 103.0,518.4 103.5,518.4 104.0,518.4 104.5,518.4 105.0,518.4 105.5,518.4 106.0,518.4 106.5,518.5 107.0,518.5 107.5,518.5 108.0,518.5 108.5,518.5 109.0,518.5 109.5,518.5 110.0,518.5 110.5,518.5 111.0,518.5 111.5,518.5 112.0,518.5 112.5,518.6 113.0,518.6 113.5,518.6 114.0,518.6 114.5,518.6 115.0,518.6 115.5,518.6 116.0,518.6 116.5,518.6 117.0,518.6 117.5,516.2 118.0,512.3 118.5,508.0 119.0,504.2 119.5,501.6 120.0,500.7 120.5,502.4 121.0,503.9 121.5,505.2 122.0,506.3 122.5,507.3 123.0,508.2 123.5,509.0 124.0,509.7 124.5,510.3 125.0,510.9 125.5,511.4 126.0,511.9 126.5,512.3 127.0,512.7 127.5,513.0 128.0,513.3 128.5,513.6 129.0,513.9 129.5,514.1 130.0,514.4 130.5,514.6 131.0,514.8 131.5,515.0 132.0,515.2 132.5,515.3 133.0,515.5 133.5,515.7 134.0,515.8 134.5,515.9 135.0,516.1 135.5,516.2 136.0,516.3 136.5,516.4 137.0,516.5 137.5,516.6 138.0,516.7 138.5,516.8 139.0,516.9 139.5,516.9 140.0,517.0 140.5,517.1 141.0,517.2 141.5,517.2 142.0,517.3 142.5,517.3 143.0,517.4 143.5,517.4 144.0,517.5 144.5,517.5 145.0,517.6 145.5,517.6 146.0,517.7 146.5,517.7 147.0,517.8 147.5,517.8 148.0,517.8 148.5,517.9 149.0,517.9 149.5,517.9 150.0,518.0 150.5,518.0 151.0,518.0 151.5,518.0 152.0,518.1 152.5,518.1 153.0,518.1 153.5,518.1 154.0,518.1 154.5,518.2 155.0,518.2 155.5,518.2 156.0,518.2 156.5,518.2 157.0,518.2 157.5,518.3 158.0,518.3 158.5,518.3 159.0,518.3 159.5,518.3 160.0,518.3 160.5,518.3 161.0,518.3 161.5,518.3 162.0,518.4 162.5,518.4 163.0,518.4 163.5,518.4 164.0,518.4 164.5,518.4 165.0,518.4 165.5,518.4 166.0,518.4 166.5,518.4 167.0,518.4 167.5,518.4 168.0,518.4 168.5,518.4 169.0,518.4 169.5,517.4 170.0,514.0 170.5,509.9 171.0,505.9 171.5,502.9 172.0,501.4 172.5,502.3 173.0,503.8 173.5,505.1 174.0,506.2 174.5,507.2 175.0,508.1 175.5,508.9 176.0,509.6 176.5,510.3 177.0,510.8 177.5,511.3 178.0,511.8 178.5,512.2 179.0,512.6 179.5,512.9 180.0,513.3 180.5,513.6 181.0,513.8 181.5,514.1 182.0,514.3 182.5,514.5 183.0,514.7 183.5,514.9 184.0,515.1 184.5,515.3 185.0,515.4 185.5,515.6 186.0,515.7 186.5,515.8 187.0,516.0 187.5,516.1 188.0,516.2 188.5,516.3 189.0,516.4 189.5,516.5 190.0,516.6 190.5,516.7 191.0,516.8 191.5,516.8 192.0,516.9 192.5,517.0 193.0,517.0 193.5,517.1 194.0,517.2 194.5,517.2 195.0,517.3 195.5,517.3 196.0,517.4 196.5,517.4 197.0,517.5 197.5,517.5 198.0,517.6 198.5,517.6 199.0,517.6 199.5,517.7 200.0,517.7 200.5,517.7 201.0,517.8 201.5,517.8 202.0,517.8 202.5,517.9 203.0,517.9 203.5,517.9 204.0,517.9 204.5,518.0 205.0,518.0 205.5,518.0 206.0,518.0 206.5,518.0 207.0,518.0 207.5,518.1 208.0,518.1 208.5,518.1 209.0,518.1 209.5,518.1 210.0,518.1 210.5,518.1 211.0,518.2 211.5,518.2 212.0,518.2 212.5,518.2 213.0,518.2 213.5,518.2 214.0,518.2 214.5,518.2 215.0,518.2 215.5,518.2 216.0,518.2 216.5,518.3 217.0,518.3 217.5,518.3 218.0,518.3 218.5,518.3 219.0,518.3 219.5,518.3 220.0,518.3 220.5,518.3 221.0,518.3 221.5,517.9 222.0,515.5 222.5,512.3 223.0,509.2 223.5,506.7 224.0,505.3 224.5,505.5 225.0,506.7 225.5,507.8 226.0,508.7 226.5,509.5 227.0,510.2 227.5,510.8 228.0,511.4 228.5,511.9 229.0,512.3 229.5,512.7 230.0,513.1 230.5,513.4 231.0,513.7 231.5,514.0 232.0,514.3 232.5,514.5 233.0,514.7 233.5,514.9 234.0,515.1 234.5,515.3 235.0,515.4 235.5,515.6 236.0,515.7 236.5,515.8 237.0,516.0 237.5,516.1 238.0,516.2 238.5,516.3 239.0,516.4 239.5,516.5 240.0,516.6 240.5,516.6 241.0,516.7 241.5,516.8 242.0,516.9 242.5,516.9 243.0,517.0 243.5,517.0 244.0,517.1 244.5,517.2 245.0,517.2 245.5,517.3 246.0,517.3 246.5,517.4 247.0,517.4 247.5,517.4 248.0,517.5 248.5,517.5 249.0,517.5 249.5,517.6 250.0,517.6 250.5,517.6 251.0,517.7 251.5,517.7 252.0,517.7 252.5,517.8 253.0,517.8 253.5,517.8 254.0,517.8 254.5,517.8 255.0,517.9 255.5,517.9 256.0,517.9 256.5,517.9 257.0,517.9 257.5,517.9 258.0,518.0 258.5,518.0 259.0,518.0 259.5,518.0 260.0,518.0 260.5,518.0 261.0,518.0 261.5,518.0 262.0,518.1 262.5,518.1 263.0,518.1 263.5,518.1 264.0,518.1 264.5,518.1 265.0,518.1 265.5,518.1 266.0,518.1 266.5,518.1 267.0,518.1 267.5,518.1 268.0,518.1 268.5,518.1 269.0,518.2 269.5,518.2 270.0,518.2 270.5,518.2 271.0,518.2 271.5,518.2 272.0,518.2 272.5,518.2 273.0,518.2 273.5,518.2 274.0,518.2 274.5,517.9 275.0,516.4 275.5,514.4 276.0,512.4 276.5,510.8 277.0,509.9 277.5,510.0 278.0,510.8 278.5,511.5 279.0,512.0 279.5,512.6 280.0,513.0 280.5,513.4 281.0,513.8 281.5,514.1 282.0,514.4 282.5,514.6 283.0,514.9 283.5,515.1 284.0,515.3 284.5,515.4 285.0,515.6 285.5,515.7 286.0,515.9 286.5,516.0 287.0,516.1 287.5,516.2 288.0,516.3 288.5,516.4 289.0,516.5 289.5,516.6 290.0,516.7 290.5,516.7 291.0,516.8 291.5,516.9 292.0,516.9 292.5,517.0 293.0,517.1 293.5,517.1 294.0,517.2 294.5,517.2 295.0,517.3 295.5,517.3 296.0,517.3 296.5,517.4 297.0,517.4"/>
<polyline fill="none" stroke="#9472c8" stroke-width="1.2" points="43.5,553.2 44.0,553.2 44.5,553.2 45.0,553.2 45.5,553.2 46.0,553.2 46.5,553.1 47.0,553.1 47.5,553.1 48.0,553.1 48.5,553.1 49.0,553.1 49.5,553.1 50.0,553.1 50.5,553.1 51.0,553.1 51.5,553.1 52.0,553.1 52.5,553.0 53.0,553.0 53.5,553.0 54.0,553.0 54.5,553.0 55.0,553.0 55.5,553.0 56.0,553.0 56.5,553.0 57.0,553.0 57.5,553.0 58.0,553.0 58.5,552.9 59.0,552.9 59.5,552.9 60.0,552.9 60.5,552.9 61.0,552.9 61.5,552.9 62.0,552.9 62.5,552.9 63.0,552.9 63.5,552.9 64.0,552.9 64.5,552.9 65.0,552.5 65.5,550.9 66.0,548.8 66.5,546.7 67.0,545.0 67.5,544.0 68.0,544.1 68.5,544.7 69.0,545.3 69.5,545.8 70.0,546.3 70.5,546.7 71.0,547.1 71.5,547.4 72.0,547.7 72.5,548.0 73.0,548.3 73.5,548.5 74.0,548.7 74.5,548.9 75.0,549.1 75.5,549.3 76.0,549.4 76.5,549.6 77.0,549.7 77.5,549.9 78.0,550.0 78.5,550.1 79.0,550.2 79.5,550.3 80.0,550.4 80.5,550.5 81.0,550.5 81.5,550.6 82.0,550.7 82.5,550.7 83.0,550.8 83.5,550.9 84.0,550.9 84.5,551.0 85.0,551.0 85.5,551.1 86.0,551.1 86.5,551.2 87.0,551.2 87.5,551.2 88.0,551.3 88.5,551.3 89.0,551.4 89.5,551.4 90.0,551.4 90.5,551.4 91.0,551.5 91.5,551.5 92.0,551.5 92.5,551.5 93.0,551.6 93.5,551.6 94.0,551.6 94.5,551.6 95.0,551.6 95.5,551.7 96.0,551.7 96.5,551.7 97.0,551.7 97.5,551.7 98.0,551.7 98.5,551.7 99.0,551.8 99.5,551.8 100.0,551.8 100.5,551.8 101.0,551.8 101.5,551.8 102.0,551.8 102.5,551.8 103.0,551.8 103.5,551.8 104.0,551.8 104.5,551.8 105.0,551.8 105.5,551.9 106.0,551.9 106.5,551.9 107.0,551.9 107.5,551.9 108.0,551.9 108.5,551.9 109.0,551.9 109.5,551.9 110.0,551.9 110.5,551.9 111.0,551.9 111.5,551.9 112.0,551.9 112.5,551.9 113.0,551.9 113.5,551.9 114.0,551.9 114.5,551.9 115.0,551.9 115.5,551.9 116.0,551.9 116.5,551.9 117.0,551.9 117.5,550.4 118.0,547.9 118.5,545.1 119.0,542.8 119.5,541.1 120.0,540.5 120.5,541.4 121.0,542.1 121.5,542.8 122.0,543.4 122.5,543.9 123.0,544.4 123.5,544.8 124.0,545.2 124.5,545.6 125.0,545.9 125.5,546.2 126.0,546.5 126.5,546.7 127.0,546.9 127.5,547.1 128.0,547.3 128.5,547.5 129.0,547.7 129.5,547.8 130.0,548.0 130.5,548.1 131.0,548.2 131.5,548.3 132.0,548.4 132.5,548.5 133.0,548.6 133.5,548.7 134.0,548.8 134.5,548.8 135.0,548.9 135.5,549.0 136.0,549.0 136.5,549.1 137.0,549.1 137.5,549.2 138.0,549.2 138.5,549.3 139.0,549.3 139.5,549.4 140.0,549.4 140.5,549.4 141.0,549.5 141.5,549.5 142.0,549.5 142.5,549.5 143.0,549.6 143.5,549.6 144.0,549.6 144.5,549.6 145.0,549.6 145.5,549.6 146.0,549.6 146.5,549.7 147.0,549.7 147.5,549.7 148.0,549.7 148.5,549.7 149.0,549.7 149.5,549.7 150.0,549.7 150.5,549.7 151.0,549.7 151.5,549.7 152.0,549.7 152.5,549.7 153.0,549.7 153.5,549.7 154.0,549.7 154.5,549.7 155.0,549.7 155.5,549.7 156.0,549.7 156.5,549.7 157.0,549.7 157.5,549.7 158.0,549.7 158.5,549.6 159.0,549.6 159.5,549.6 160.0,549.6 160.5,549.6 161.0,549.6 161.5,549.6 162.0,549.6 162.5,549.6 163.0,549.5 163.5,549.5 164.0,549.5 164.5,549.5 165.0,549.5 165.5,549.5 166.0,549.5 166.5,549.4 167.0,549.4 167.5,549.4 168.0,549.4 168.5,549.4 169.0,549.4 169.5,548.5 170.0,545.9 170.5,542.8 171.0,539.8 171.5,537.5 172.0,536.3 172.5,536.8 173.0,537.7 173.5,538.5 174.0,539.2 174.5,539.9 175.0,540.4 175.5,541.0 176.0,541.4 176.5,541.9 177.0,542.3 177.5,542.6 178.0,543.0 178.5,543.3 179.0,543.5 179.5,543.8 180.0,544.0 180.5,544.2 181.0,544.4 181.5,544.6 182.0,544.8 182.5,544.9 183.0,545.1 183.5,545.2 184.0,545.3 184.5,545.4 185.0,545.5 185.5,545.6 186.0,545.7 186.5,545.8 187.0,545.9 187.5,546.0 188.0,546.0 188.5,546.1 189.0,546.2 189.5,546.2 190.0,546.3 190.5,546.3 191.0,546.4 191.5,546.4 192.0,546.5 192.5,546.5 193.0,546.5 193.5,546.6 194.0,546.6 194.5,546.6 195.0,546.7 195.5,546.7 196.0,546.7 196.5,546.7 197.0,546.7 197.5,546.8 198.0,546.8 198.5,546.8 199.0,546.8 199.5,546.8 200.0,546.8 200.5,546.8 201.0,546.8 201.5,546.8 202.0,546.8 202.5,546.8 203.0,546.8 203.5,546.8 204.0,546.8 204.5,546.8 205.0,546.8 205.5,546.8 206.0,546.8 206.5,546.8 207.0,546.8 207.5,546.8 208.0,546.8 208.5,546.8 209.0,546.8 209.5,546.8 210.0,546.8 210.5,546.8 211.0,546.8 211.5,546.7 212.0,546.7 212.5,546.7 213.0,546.7 213.5,546.7 214.0,546.7 214.5,546.7 215.0,546.6 215.5,546.6 216.0,546.6 216.5,546.6 217.0,546.6 217.5,546.6 218.0,546.5 218.5,546.5 219.0,546.5 219.5,546.5 220.0,546.5 220.5,546.5 221.0,546.4 221.5,545.9 222.0,543.3 222.5,539.8 223.0,536.4 223.5,533.7 224.0,532.1 224.5,532.2 225.0,533.2 225.5,534.1 226.0,534.9 226.5,535.7 227.0,536.3 227.5,536.9 228.0,537.5 228.5,538.0 229.0,538.4 229.5,538.8 230.0,539.2 230.5,539.5 231.0,539.8 231.5,540.1 232.0,540.4 232.5,540.6 233.0,540.8 233.5,541.0 234.0,541.2 234.5,541.4 235.0,541.5 235.5,541.7 236.0,541.8 236.5,541.9 237.0,542.1 237.5,542.2 238.0,542.3 238.5,542.4 239.0,542.5 239.5,542.5 240.0,542.6 240.5,542.7 241.0,542.8 241.5,542.8 242.0,542.9 242.5,542.9 243.0,543.0 243.5,543.0 244.0,543.1 244.5,543.1 245.0,543.2 245.5,543.2 246.0,543.2 246.5,543.2 247.0,543.3 247.5,543.3 248.0,543.3 248.5,543.3 249.0,543.4 249.5,543.4 250.0,543.4 250.5,543.4 251.0,543.4 251.5,543.4 252.0,543.4 252.5,543.4 253.0,543.4 253.5,543.4 254.0,543.4 254.5,543.4 255.0,543.4 255.5,543.4 256.0,543.4 256.5,543.4 257.0,543.4 257.5,543.4 258.0,543.4 258.5,543.4 259.0,543.4 259.5,543.4 260.0,543.4 260.5,543.4 261.0,543.4 261.5,543.3 262.0,543.3 262.5,543.3 263.0,543.3 263.5,543.3 264.0,543.3 264.5,543.2 265.0,543.2 265.5,543.2 266.0,543.2 266.5,543.2 267.0,543.2 267.5,543.1 268.0,543.1 268.5,543.1 269.0,543.1 269.5,543.0 270.0,543.0 270.5,543.0 271.0,543.0 271.5,543.0 272.0,542.9 272.5,542.9 273.0,542.9 273.5,542.9 274.0,542.8 274.5,542.4 275.0,540.0 275.5,536.9 276.0,533.8 276.5,531.4 277.0,529.9 277.5,530.1 278.0,531.0 278.5,531.8 279.0,532.5 279.5,533.2 280.0,533.8 280.5,534.3 281.0,534.8 281.5,535.2 282.0,535.6 282.5,536.0 283.0,536.3 283.5,536.6 284.0,536.9 284.5,537.1 285.0,537.4 285.5,537.6 286.0,537.8 286.5,537.9 287.0,538.1 287.5,538.3 288.0,538.4 288.5,538.5 289.0,538.6 289.5,538.8 290.0,538.9 290.5,539.0 291.0,539.0 291.5,539.1 292.0,539.2 292.5,539.3 293.0,539.3 293.5,539.4 294.0,539.5 294.5,539.5 295.0,539.6 295.5,539.6 296.0,539.7 296.5,539.7 297.0,539.7"/>
<polyline fill="none" stroke="#b498dc" stroke-width="1.2" points="43.5,567.4 44.0,567.5 44.5,567.5 45.0,567.6 45.5,567.6 46.0,567.7 46.5,567.7 47.0,567.7 47.5,567.8 48.0,567.8 48.5,567.9 49.0,567.9 49.5,567.9 50.0,568.0 50.5,568.0 51.0,568.1 51.5,568.1 52.0,568.2 52.5,568.2 53.0,568.2 53.5,568.3 54.0,568.3 54.5,568.4 55.0,568.4 55.5,568.5 56.0,568.5 56.5,568.5 57.0,568.6 57.5,568.6 58.0,568.7 58.5,568.7 59.0,568.7 59.5,568.8 60.0,568.8 60.5,568.9 61.0,568.9 61.5,569.0 62.0,569.0 62.5,569.0 63.0,569.0 63.5,569.0 64.0,569.0 64.5,569.0 65.0,569.0 65.5,568.7 66.0,568.4 66.5,568.0 67.0,567.6 67.5,567.2 68.0,566.9 68.5,566.6 69.0,566.4 69.5,566.3 70.0,566.3 70.5,566.5 71.0,566.7 71.5,566.8 72.0,567.0 72.5,567.1 73.0,567.2 73.5,567.3 74.0,567.4 74.5,567.5 75.0,567.6 75.5,567.7 76.0,567.8 76.5,567.8 77.0,567.9 77.5,568.0 78.0,568.0 78.5,568.1 79.0,568.1 79.5,568.2 80.0,568.2 80.5,568.3 81.0,568.3 81.5,568.3 82.0,568.4 82.5,568.4 83.0,568.4 83.5,568.5 84.0,568.5 84.5,568.5 85.0,568.6 85.5,568.6 86.0,568.6 86.5,568.6 87.0,568.7 87.5,568.7 88.0,568.7 88.5,568.7 89.0,568.8 89.5,568.8 90.0,568.8 90.5,568.8 91.0,568.8 91.5,568.8 92.0,568.9 92.5,568.9 93.0,568.9 93.5,568.9 94.0,568.9 94.5,568.9 95.0,569.0 95.5,569.0 96.0,569.0 96.5,569.0 97.0,569.0 97.5,569.0 98.0,569.0 98.5,569.1 99.0,569.1 99.5,569.1 100.0,569.1 100.5,569.1 101.0,569.1 101.5,569.1 102.0,569.1 102.5,569.1 103.0,569.2 103.5,569.2 104.0,569.2 104.5,569.2 105.0,569.2 105.5,569.2 106.0,569.2 106.5,569.2 107.0,569.2 107.5,569.2 108.0,569.2 108.5,569.3 109.0,569.3 109.5,569.3 110.0,569.3 110.5,569.3 111.0,569.3 111.5,569.3 112.0,569.3 112.5,569.3 113.0,569.3 113.5,569.3 114.0,569.3 114.5,569.4 115.0,569.4 115.5,569.4 116.0,569.4 116.5,569.4 117.0,569.4 117.5,569.2 118.0,568.8 118.5,568.4 119.0,568.0 119.5,567.5 120.0,567.1 120.5,566.7 121.0,566.5 121.5,566.3 122.0,566.2 122.5,566.5 123.0,566.7 123.5,566.8 124.0,567.0 124.5,567.2 125.0,567.3 125.5,567.4 126.0,567.6 126.5,567.7 127.0,567.8 127.5,567.9 128.0,568.0 128.5,568.0 129.0,568.1 129.5,568.2 130.0,568.2 130.5,568.3 131.0,568.4 131.5,568.4 132.0,568.5 132.5,568.5 133.0,568.6 133.5,568.6 134.0,568.7 134.5,568.7 135.0,568.7 135.5,568.8 136.0,568.8 136.5,568.8 137.0,568.9 137.5,568.9 138.0,568.9 138.5,569.0 139.0,569.0 139.5,569.0 140.0,569.0 140.5,569.1 141.0,569.1 141.5,569.1 142.0,569.1 142.5,569.2 143.0,569.2 143.5,569.2 144.0,569.2 144.5,569.2 145.0,569.3 145.5,569.3 146.0,569.3 146.5,569.3 147.0,569.3 147.5,569.4 148.0,569.4 148.5,569.4 149.0,569.4 149.5,569.4 150.0,569.4 150.5,569.4 151.0,569.5 151.5,569.5 152.0,569.5 152.5,569.5 153.0,569.5 153.5,569.5 154.0,569.5 154.5,569.5 155.0,569.6 155.5,569.6 156.0,569.6 156.5,569.6 157.0,569.6 157.5,569.6 158.0,569.6 158.5,569.6 159.0,569.6 159.5,569.7 160.0,569.7 160.5,569.7 161.0,569.7 161.5,569.7 162.0,569.7 162.5,569.7 163.0,569.7 163.5,569.7 164.0,569.7 164.5,569.7 165.0,569.7 165.5,569.8 166.0,569.8 166.5,569.8 167.0,569.8 167.5,569.8 168.0,569.8 168.5,569.8 169.0,569.8 169.5,569.7 170.0,569.4 170.5,569.0 171.0,568.5 171.5,568.0 172.0,567.6 172.5,567.1 173.0,566.8 173.5,566.6 174.0,566.5 174.5,566.6 175.0,566.8 175.5,567.0 176.0,567.2 176.5,567.4 177.0,567.5 177.5,567.7 178.0,567.8 178.5,567.9 179.0,568.1 179.5,568.2 180.0,568.3 180.5,568.3 181.0,568.4 181.5,568.5 182.0,568.6 182.5,568.6 183.0,568.7 183.5,568.8 184.0,568.8 184.5,568.9 185.0,568.9 185.5,569.0 186.0,569.0 186.5,569.1 187.0,569.1 187.5,569.1 188.0,569.2 188.5,569.2 189.0,569.3 189.5,569.3 190.0,569.3 190.5,569.4 191.0,569.4 191.5,569.4 192.0,569.4 192.5,569.5 193.0,569.5 193.5,569.5 194.0,569.5 194.5,569.6 195.0,569.6 195.5,569.6 196.0,569.6 196.5,569.6 197.0,569.7 197.5,569.7 198.0,569.7 198.5,569.7 199.0,569.7 199.5,569.8 200.0,569.8 200.5,569.8 201.0,569.8 201.5,569.8 202.0,569.8 202.5,569.9 203.0,569.9 203.5,569.9 204.0,569.9 204.5,569.9 205.0,569.9 205.5,569.9 206.0,570.0 206.5,570.0 207.0,570.0 207.5,570.0 208.0,570.0 208.5,570.0 209.0,570.0 209.5,570.0 210.0,570.0 210.5,570.1 211.0,570.1 211.5,570.1 212.0,570.1 212.5,570.1 213.0,570.1 213.5,570.1 214.0,570.1 214.5,570.1 215.0,570.1 215.5,570.2 216.0,570.2 216.5,570.2 217.0,570.2 217.5,570.2 218.0,570.2 218.5,570.2 219.0,570.2 219.5,570.2 220.0,570.2 220.5,570.2 221.0,570.2 221.5,570.2 222.0,570.0 222.5,569.6 223.0,569.2 223.5,568.8 224.0,568.3 224.5,568.0 225.0,567.7 225.5,567.4 226.0,567.3 226.5,567.4 227.0,567.6 227.5,567.8 228.0,567.9 228.5,568.1 229.0,568.2 229.5,568.4 230.0,568.5 230.5,568.6 231.0,568.7 231.5,568.8 232.0,568.9 232.5,569.0 233.0,569.0 233.5,569.1 234.0,569.2 234.5,569.2 235.0,569.3 235.5,569.3 236.0,569.4 236.5,569.4 237.0,569.5 237.5,569.5 238.0,569.6 238.5,569.6 239.0,569.6 239.5,569.7 240.0,569.7 240.5,569.8 241.0,569.8 241.5,569.8 242.0,569.8 242.5,569.9 243.0,569.9 243.5,569.9 244.0,569.9 244.5,570.0 245.0,570.0 245.5,570.0 246.0,570.0 246.5,570.1 247.0,570.1 247.5,570.1 248.0,570.1 248.5,570.1 249.0,570.2 249.5,570.2 250.0,570.2 250.5,570.2 251.0,570.2 251.5,570.2 252.0,570.3 252.5,570.3 253.0,570.3 253.5,570.3 254.0,570.3 254.5,570.3 255.0,570.3 255.5,570.4 256.0,570.4 256.5,570.4 257.0,570.4 257.5,570.4 258.0,570.4 258.5,570.4 259.0,570.4 259.5,570.5 260.0,570.5 260.5,570.5 261.0,570.5 261.5,570.5 262.0,570.5 262.5,570.5 263.0,570.5 263.5,570.5 264.0,570.5 264.5,570.6 265.0,570.6 265.5,570.6 266.0,570.6 266.5,570.6 267.0,570.6 267.5,570.6 268.0,570.6 268.5,570.6 269.0,570.6 269.5,570.6 270.0,570.7 270.5,570.7 271.0,570.7 271.5,570.7 272.0,570.7 272.5,570.7 273.0,570.7 273.5,570.7 274.0,570.7 274.5,570.7 275.0,570.5 275.5,570.2 276.0,569.9 276.5,569.5 277.0,569.2 277.5,568.9 278.0,568.7 278.5,568.5 279.0,568.4 279.5,568.4 280.0,568.6 280.5,568.8 281.0,568.9 281.5,569.0 282.0,569.1 282.5,569.2 283.0,569.3 283.5,569.4 284.0,569.5 284.5,569.6 285.0,569.6 285.5,569.7 286.0,569.8 286.5,569.8 287.0,569.9 287.5,569.9 288.0,570.0 288.5,570.0 289.0,570.1 289.5,570.1 290.0,570.1 290.5,570.2 291.0,570.2 291.5,570.2 292.0,570.3 292.5,570.3 293.0,570.3 293.5,570.4 294.0,570.4 294.5,570.4 295.0,570.4 295.5,570.5 296.0,570.5 296.5,570.5 297.0,570.5"/>
<polyline fill="none" stroke="#bea6e2" stroke-width="1.2" points="43.5,592.4 44.0,592.4 44.5,592.5 45.0,592.5 45.5,592.6 46.0,592.6 46.5,592.7 47.0,592.7 47.5,592.8 48.0,592.9 48.5,592.9 49.0,593.0 49.5,593.0 50.0,593.1 50.5,593.1 51.0,593.2 51.5,593.2 52.0,593.3 52.5,593.3 53.0,593.4 53.5,593.5 54.0,593.5 54.5,593.6 55.0,593.6 55.5,593.7 56.0,593.7 56.5,593.8 57.0,593.8 57.5,593.9 58.0,594.0 58.5,594.0 59.0,594.1 59.5,594.1 60.0,594.2 60.5,594.2 61.0,594.3 61.5,594.3 62.0,594.4 62.5,594.4 63.0,594.4 63.5,594.5 64.0,594.5 64.5,594.5 65.0,594.3 65.5,593.1 66.0,591.6 66.5,590.1 67.0,588.9 67.5,588.2 68.0,588.3 68.5,588.8 69.0,589.2 69.5,589.6 70.0,590.0 70.5,590.4 71.0,590.7 71.5,590.9 72.0,591.2 72.5,591.4 73.0,591.7 73.5,591.9 74.0,592.1 74.5,592.2 75.0,592.4 75.5,592.6 76.0,592.7 76.5,592.8 77.0,593.0 77.5,593.1 78.0,593.2 78.5,593.3 79.0,593.4 79.5,593.5 80.0,593.6 80.5,593.7 81.0,593.8 81.5,593.9 82.0,594.0 82.5,594.0 83.0,594.1 83.5,594.2 84.0,594.3 84.5,594.3 85.0,594.4 85.5,594.5 86.0,594.5 86.5,594.6 87.0,594.6 87.5,594.7 88.0,594.8 88.5,594.8 89.0,594.9 89.5,594.9 90.0,595.0 90.5,595.0 91.0,595.1 91.5,595.1 92.0,595.2 92.5,595.2 93.0,595.3 93.5,595.3 94.0,595.4 94.5,595.4 95.0,595.4 95.5,595.5 96.0,595.5 96.5,595.6 97.0,595.6 97.5,595.6 98.0,595.7 98.5,595.7 99.0,595.8 99.5,595.8 100.0,595.8 100.5,595.9 101.0,595.9 101.5,595.9 102.0,596.0 102.5,596.0 103.0,596.0 103.5,596.1 104.0,596.1 104.5,596.1 105.0,596.2 105.5,596.2 106.0,596.2 106.5,596.3 107.0,596.3 107.5,596.3 108.0,596.4 108.5,596.4 109.0,596.4 109.5,596.5 110.0,596.5 110.5,596.5 111.0,596.6 111.5,596.6 112.0,596.6 112.5,596.6 113.0,596.7 113.5,596.7 114.0,596.7 114.5,596.8 115.0,596.8 115.5,596.8 116.0,596.8 116.5,596.9 117.0,596.9 117.5,596.0 118.0,594.5 118.5,592.9 119.0,591.4 119.5,590.5 120.0,590.1 120.5,590.6 121.0,591.1 121.5,591.5 122.0,591.9 122.5,592.2 123.0,592.5 123.5,592.8 124.0,593.1 124.5,593.3 125.0,593.5 125.5,593.7 126.0,593.9 126.5,594.1 127.0,594.2 127.5,594.4 128.0,594.5 128.5,594.6 129.0,594.7 129.5,594.8 130.0,594.9 130.5,595.0 131.0,595.1 131.5,595.2 132.0,595.3 132.5,595.3 133.0,595.4 133.5,595.5 134.0,595.5 134.5,595.6 135.0,595.7 135.5,595.7 136.0,595.8 136.5,595.8 137.0,595.9 137.5,595.9 138.0,596.0 138.5,596.0 139.0,596.0 139.5,596.1 140.0,596.1 140.5,596.1 141.0,596.2 141.5,596.2 142.0,596.2 142.5,596.3 143.0,596.3 143.5,596.3 144.0,596.4 144.5,596.4 145.0,596.4 145.5,596.4 146.0,596.4 146.5,596.5 147.0,596.5 147.5,596.5 148.0,596.5 148.5,596.6 149.0,596.6 149.5,596.6 150.0,596.6 150.5,596.6 151.0,596.6 151.5,596.7 152.0,596.7 152.5,596.7 153.0,596.7 153.5,596.7 154.0,596.7 154.5,596.7 155.0,596.7 155.5,596.8 156.0,596.8 156.5,596.8 157.0,596.8 157.5,596.8 158.0,596.8 158.5,596.8 159.0,596.8 159.5,596.8 160.0,596.9 160.5,596.9 161.0,596.9 161.5,596.9 162.0,596.9 162.5,596.9 163.0,596.9 163.5,596.9 164.0,596.9 164.5,596.9 165.0,596.9 165.5,596.9 166.0,596.9 166.5,596.9 167.0,596.9 167.5,597.0 168.0,597.0 168.5,597.0 169.0,597.0 169.5,596.6 170.0,595.4 170.5,593.9 171.0,592.5 171.5,591.4 172.0,590.8 172.5,591.1 173.0,591.5 173.5,591.9 174.0,592.3 174.5,592.6 175.0,592.9 175.5,593.2 176.0,593.4 176.5,593.6 177.0,593.8 177.5,594.0 178.0,594.2 178.5,594.3 179.0,594.5 179.5,594.6 180.0,594.7 180.5,594.9 181.0,595.0 181.5,595.1 182.0,595.2 182.5,595.2 183.0,595.3 183.5,595.4 184.0,595.5 184.5,595.5 185.0,595.6 185.5,595.7 186.0,595.7 186.5,595.8 187.0,595.8 187.5,595.9 188.0,595.9 188.5,596.0 189.0,596.0 189.5,596.1 190.0,596.1 190.5,596.2 191.0,596.2 191.5,596.2 192.0,596.3 192.5,596.3 193.0,596.3 193.5,596.4 194.0,596.4 194.5,596.4 195.0,596.4 195.5,596.5 196.0,596.5 196.5,596.5 197.0,596.5 197.5,596.6 198.0,596.6 198.5,596.6 199.0,596.6 199.5,596.6 200.0,596.7 200.5,596.7 201.0,596.7 201.5,596.7 202.0,596.7 202.5,596.7 203.0,596.8 203.5,596.8 204.0,596.8 204.5,596.8 205.0,596.8 205.5,596.8 206.0,596.8 206.5,596.8 207.0,596.9 207.5,596.9 208.0,596.9 208.5,596.9 209.0,596.9 209.5,596.9 210.0,596.9 210.5,596.9 211.0,596.9 211.5,596.9 212.0,597.0 212.5,597.0 213.0,597.0 213.5,597.0 214.0,597.0 214.5,597.0 215.0,597.0 215.5,597.0 216.0,597.0 216.5,597.0 217.0,597.0 217.5,597.0 218.0,597.0 218.5,597.0 219.0,597.0 219.5,597.1 220.0,597.1 220.5,597.1 221.0,597.1 221.5,596.9 222.0,595.7 222.5,594.3 223.0,592.8 223.5,591.7 224.0,591.0 224.5,591.1 225.0,591.5 225.5,591.9 226.0,592.3 226.5,592.6 227.0,592.9 227.5,593.2 228.0,593.5 228.5,593.7 229.0,593.9 229.5,594.1 230.0,594.2 230.5,594.4 231.0,594.5 231.5,594.7 232.0,594.8 232.5,594.9 233.0,595.0 233.5,595.1 234.0,595.2 234.5,595.3 235.0,595.4 235.5,595.5 236.0,595.6 236.5,595.6 237.0,595.7 237.5,595.8 238.0,595.8 238.5,595.9 239.0,595.9 239.5,596.0 240.0,596.0 240.5,596.1 241.0,596.1 241.5,596.2 242.0,596.2 242.5,596.2 243.0,596.3 243.5,596.3 244.0,596.3 244.5,596.4 245.0,596.4 245.5,596.4 246.0,596.5 246.5,596.5 247.0,596.5 247.5,596.5 248.0,596.6 248.5,596.6 249.0,596.6 249.5,596.6 250.0,596.7 250.5,596.7 251.0,596.7 251.5,596.7 252.0,596.7 252.5,596.8 253.0,596.8 253.5,596.8 254.0,596.8 254.5,596.8 255.0,596.8 255.5,596.9 256.0,596.9 256.5,596.9 257.0,596.9 257.5,596.9 258.0,596.9 258.5,596.9 259.0,596.9 259.5,597.0 260.0,597.0 260.5,597.0 261.0,597.0 261.5,597.0 262.0,597.0 262.5,597.0 263.0,597.0 263.5,597.0 264.0,597.0 264.5,597.0 265.0,597.1 265.5,597.1 266.0,597.1 266.5,597.1 267.0,597.1 267.5,597.1 268.0,597.1 268.5,597.1 269.0,597.1 269.5,597.1 270.0,597.1 270.5,597.1 271.0,597.1 271.5,597.1 272.0,597.1 272.5,597.1 273.0,597.2 273.5,597.2 274.0,597.2 274.5,597.0 275.0,596.1 275.5,594.9 276.0,593.8 276.5,592.8 277.0,592.3 277.5,592.3 278.0,592.7 278.5,593.0 279.0,593.3 279.5,593.6 280.0,593.8 280.5,594.1 281.0,594.3 281.5,594.4 282.0,594.6 282.5,594.8 283.0,594.9 283.5,595.0 284.0,595.1 284.5,595.3 285.0,595.4 285.5,595.4 286.0,595.5 286.5,595.6 287.0,595.7 287.5,595.8 288.0,595.8 288.5,595.9 289.0,596.0 289.5,596.0 290.0,596.1 290.5,596.1 291.0,596.2 291.5,596.2 292.0,596.3 292.5,596.3 293.0,596.3 293.5,596.4 294.0,596.4 294.5,596.4 295.0,596.5 295.5,596.5 296.0,596.5 296.5,596.6 297.0,596.6"/>
<rect x="43.0" y="317" width="254.6" height="295.9" fill="none" stroke="#000" stroke-width="1.25"/>
<line x1="52.3" y1="612.9" x2="52.3" y2="615" stroke="#000" stroke-width="1"/>
<line x1="74.7" y1="612.9" x2="74.7" y2="615" stroke="#000" stroke-width="1"/>
<line x1="97.2" y1="612.9" x2="97.2" y2="615" stroke="#000" stroke-width="1"/>
<line x1="119.6" y1="612.9" x2="119.6" y2="615" stroke="#000" stroke-width="1"/>
<line x1="142.0" y1="612.9" x2="142.0" y2="615" stroke="#000" stroke-width="1"/>
<line x1="164.4" y1="612.9" x2="164.4" y2="615" stroke="#000" stroke-width="1"/>
<line x1="186.9" y1="612.9" x2="186.9" y2="615" stroke="#000" stroke-width="1"/>
<line x1="209.3" y1="612.9" x2="209.3" y2="615" stroke="#000" stroke-width="1"/>
<line x1="231.7" y1="612.9" x2="231.7" y2="615" stroke="#000" stroke-width="1"/>
<line x1="254.2" y1="612.9" x2="254.2" y2="615" stroke="#000" stroke-width="1"/>
<line x1="276.6" y1="612.9" x2="276.6" y2="615" stroke="#000" stroke-width="1"/>
<text x="52.3" y="624.6" class="ct" textLength="24.4" lengthAdjust="spacingAndGlyphs">1000</text>
<text x="97.2" y="624.6" class="ct" textLength="24.4" lengthAdjust="spacingAndGlyphs">2000</text>
<text x="142.0" y="624.6" class="ct" textLength="24.4" lengthAdjust="spacingAndGlyphs">3000</text>
<text x="186.9" y="624.6" class="ct" textLength="24.4" lengthAdjust="spacingAndGlyphs">4000</text>
<text x="231.7" y="624.6" class="ct" textLength="24.4" lengthAdjust="spacingAndGlyphs">5000</text>
<text x="276.6" y="624.6" class="ct" textLength="24.4" lengthAdjust="spacingAndGlyphs">6000</text>
<text x="178.4" y="636.2" class="cx" textLength="49.6" lengthAdjust="spacingAndGlyphs">Time (s)</text>
<text transform="translate(28.2,462.3) rotate(-90)" class="cy" textLength="88" lengthAdjust="spacingAndGlyphs">Signal intensity (a.u.)</text>
<text x="69.3" y="326.4" class="cc" textLength="35.6" lengthAdjust="spacingAndGlyphs">Cycle 1</text>
<text x="121.7" y="326.4" class="cc" textLength="35.6" lengthAdjust="spacingAndGlyphs">Cycle 2</text>
<text x="172.9" y="326.4" class="cc" textLength="35.6" lengthAdjust="spacingAndGlyphs">Cycle 3</text>
<text x="225.1" y="326.4" class="cc" textLength="35.6" lengthAdjust="spacingAndGlyphs">Cycle 4</text>
<text x="277" y="326.4" class="cc" textLength="35.6" lengthAdjust="spacingAndGlyphs">Cycle 5</text>
<line x1="62.5" y1="334" x2="62.5" y2="342" stroke="#000" stroke-width="1.2"/>
<path d="M60.3,340 L64.7,340 L62.5,346 Z" fill="#000"/>
<line x1="115.5" y1="332.6" x2="115.5" y2="340.4" stroke="#000" stroke-width="1.2"/>
<path d="M113.3,338.4 L117.7,338.4 L115.5,344.4 Z" fill="#000"/>
<line x1="167.8" y1="331.8" x2="167.8" y2="339.2" stroke="#000" stroke-width="1.2"/>
<path d="M165.60000000000002,337.2 L170.0,337.2 L167.8,343.2 Z" fill="#000"/>
<line x1="220.2" y1="329.6" x2="220.2" y2="337.3" stroke="#000" stroke-width="1.2"/>
<path d="M218.0,335.3 L222.39999999999998,335.3 L220.2,341.3 Z" fill="#000"/>
<line x1="272.3" y1="328.8" x2="272.3" y2="336.5" stroke="#000" stroke-width="1.2"/>
<path d="M270.1,334.5 L274.5,334.5 L272.3,340.5 Z" fill="#000"/>
<text x="73.4" y="353.7" class="cs" fill="#4c2e88" textLength="31" lengthAdjust="spacingAndGlyphs">5E-12</text>
<text x="104.5" y="353.7" class="cs" fill="#4c2e88" style="font-family:&quot;Liberation Serif&quot;,serif;font-size:8.6px">I</text>
<text x="73.4" y="374" class="cs" fill="#4c2e88" textLength="31" lengthAdjust="spacingAndGlyphs">2E-12</text>
<text x="104.5" y="374" class="cs" fill="#4c2e88" style="font-family:&quot;Liberation Serif&quot;,serif;font-size:8.6px">I</text>
<text x="73.4" y="402.8" class="cs" fill="#4c2e88" textLength="31" lengthAdjust="spacingAndGlyphs">5E-12</text>
<text x="104.5" y="402.8" class="cs" fill="#4c2e88" style="font-family:&quot;Liberation Serif&quot;,serif;font-size:8.6px">I</text>
<text x="73.4" y="430.4" class="cs" fill="#4c2e88" textLength="31" lengthAdjust="spacingAndGlyphs">1E-10</text>
<text x="104.5" y="430.4" class="cs" fill="#4c2e88" style="font-family:&quot;Liberation Serif&quot;,serif;font-size:8.6px">I</text>
<text x="73.4" y="471" class="cs" fill="#4c2e88" textLength="31" lengthAdjust="spacingAndGlyphs">1E-10</text>
<text x="104.5" y="471" class="cs" fill="#4c2e88" style="font-family:&quot;Liberation Serif&quot;,serif;font-size:8.6px">I</text>
<text x="73.4" y="496.4" class="cs" fill="#6a44a4" textLength="31" lengthAdjust="spacingAndGlyphs">2E-11</text>
<text x="104.5" y="496.4" class="cs" fill="#6a44a4" style="font-family:&quot;Liberation Serif&quot;,serif;font-size:8.6px">I</text>
<text x="73.4" y="526.7" class="cs" fill="#6a46a6" textLength="31" lengthAdjust="spacingAndGlyphs">1E-12</text>
<text x="104.5" y="526.7" class="cs" fill="#6a46a6" style="font-family:&quot;Liberation Serif&quot;,serif;font-size:8.6px">I</text>
<text x="73.4" y="561" class="cs" fill="#9070c4" textLength="31" lengthAdjust="spacingAndGlyphs">5E-14</text>
<text x="104.5" y="561" class="cs" fill="#9070c4" style="font-family:&quot;Liberation Serif&quot;,serif;font-size:8.6px">I</text>
<text x="73.4" y="580.2" class="cs" fill="#a88cd4" textLength="31" lengthAdjust="spacingAndGlyphs">2E-14</text>
<text x="104.5" y="580.2" class="cs" fill="#a88cd4" style="font-family:&quot;Liberation Serif&quot;,serif;font-size:8.6px">I</text>
<text x="73.4" y="605.9" class="cs" fill="#b8a0dc" textLength="31" lengthAdjust="spacingAndGlyphs">4E-13</text>
<text x="104.5" y="605.9" class="cs" fill="#b8a0dc" style="font-family:&quot;Liberation Serif&quot;,serif;font-size:8.6px">I</text>
<text x="293.2" y="349.2" class="cr" fill="#4c2e88" textLength="53.8" lengthAdjust="spacingAndGlyphs">m/z = 2 H<tspan font-size="6" dy="2">2</tspan></text>
<text x="293.2" y="374.7" class="cr" fill="#4c2e88" textLength="55.8" lengthAdjust="spacingAndGlyphs">m/z = 14 N</text>
<text x="293.2" y="403.6" class="cr" fill="#4c2e88" textLength="63.6" lengthAdjust="spacingAndGlyphs">m/z = 15 NH</text>
<text x="293.2" y="433.1" class="cr" fill="#4c2e88" textLength="68.6" lengthAdjust="spacingAndGlyphs">m/z = 16 NH<tspan font-size="6" dy="2">2</tspan></text>
<text x="293.2" y="471.5" class="cr" fill="#4c2e88" textLength="68.6" lengthAdjust="spacingAndGlyphs">m/z = 17 NH<tspan font-size="6" dy="2">3</tspan></text>
<text x="293.2" y="497.5" class="cr" fill="#6a44a4" textLength="59.7" lengthAdjust="spacingAndGlyphs">m/z = 28 N<tspan font-size="6" dy="2">2</tspan></text>
<text x="293.2" y="526.7" class="cr" fill="#6a46a6" textLength="65.2" lengthAdjust="spacingAndGlyphs">m/z = 30 NO</text>
<text x="293.2" y="555.6" class="cr" fill="#9070c4" textLength="73.4" lengthAdjust="spacingAndGlyphs">m/z = 31 HNO</text>
<text x="293.2" y="581.2" class="cr" fill="#a88cd4" textLength="86.1" lengthAdjust="spacingAndGlyphs">m/z = 33 NH<tspan font-size="6" dy="2">2</tspan><tspan dy="-2">OH</tspan></text>
<text x="293.2" y="604.2" class="cr" fill="#b8a0dc" textLength="69.1" lengthAdjust="spacingAndGlyphs">m/z = 46 NO<tspan font-size="6" dy="2">2</tspan></text>
<polyline fill="none" stroke="#1414f4" stroke-width="1.9" stroke-linejoin="round" points="374.8,352.6 375.5,352.4 376.2,352.1 376.9,351.9 377.6,351.7 378.3,351.6 379.0,351.5 379.7,351.5 380.4,351.5 381.1,351.5 381.8,351.8 382.5,352.2 383.2,352.8 383.9,353.5 384.6,354.1 385.3,354.7 386.0,355.0 386.7,355.1 387.4,355.0 388.1,354.7 388.8,354.3 389.5,353.9 390.2,353.4 390.9,353.0 391.6,352.6 392.3,352.3 393.0,352.2 393.7,352.3 394.4,352.4 395.1,352.4 395.8,352.5 396.5,352.6 397.2,352.6 397.9,352.7 398.6,352.7 399.3,352.7 400.0,352.7 400.7,352.7 401.4,352.7 402.1,352.8 402.8,352.8 403.5,352.8 404.2,352.8 404.9,352.8 405.6,352.9 406.3,352.9 407.0,353.0 407.7,353.0 408.4,353.0 409.1,353.0 409.8,352.9 410.5,352.8 411.2,352.7 411.9,352.5 412.6,352.4 413.3,352.3 414.0,352.2 414.7,352.2 415.4,352.1 416.1,352.0 416.8,351.9 417.5,351.8 418.2,351.7 418.9,351.7 419.6,351.6 420.3,351.5 421.0,351.5 421.7,351.4 422.4,351.4 423.1,351.4 423.8,351.4 424.5,351.4 425.2,351.4 425.9,351.4 426.6,351.4 427.3,351.4 428.0,351.4 428.7,351.4 429.4,351.5 430.1,351.5 430.8,351.5 431.5,351.4 432.2,351.4 432.9,351.3 433.6,351.3 434.3,351.3 435.0,351.3 435.7,351.3 436.4,351.3 437.1,351.3 437.8,351.4 438.5,351.4 439.2,351.5 439.9,351.5 440.6,351.6 441.3,351.6 442.0,351.6 442.7,351.6 443.4,351.5 444.1,351.4 444.8,351.3 445.5,351.2 446.2,351.2 446.9,351.1 447.6,351.0 448.3,351.0 449.0,351.0 449.7,351.0 450.4,351.0 451.1,350.9 451.8,350.9 452.5,350.8 453.2,350.7 453.9,350.6 454.6,350.5 455.3,350.5 456.0,350.5 456.7,350.5 457.4,350.6 458.1,350.6 458.8,350.7 459.5,350.8 460.2,350.8 460.9,350.9 461.6,350.9 462.3,350.9 463.0,350.9 463.7,350.9 464.4,351.0 465.1,351.0 465.8,351.1 466.5,351.1 467.2,351.2 467.9,351.3 468.6,351.4 469.3,351.5 470.0,351.6 470.7,351.6 471.4,351.6 472.1,351.7 472.8,351.7 473.5,351.7 474.2,351.7 474.9,351.8 475.6,351.9 476.3,351.9 477.0,352.0 477.7,352.0 478.4,352.1 479.1,352.1 479.8,352.1 480.5,352.1 481.2,352.1 481.9,352.1 482.6,352.0 483.3,352.0 484.0,352.0 484.7,352.0 485.4,352.1 486.1,352.1 486.8,352.2 487.5,352.2 488.2,352.2 488.9,352.1 489.6,352.1 490.3,352.1 491.0,352.1 491.7,352.1 492.4,352.2 493.1,352.3 493.8,352.3 494.5,352.4 495.2,352.4 495.9,352.4 496.6,352.3 497.3,352.3 498.0,352.2 498.7,352.2 499.4,352.2 500.1,352.1 500.8,352.1 501.5,352.1 502.2,352.1 502.9,352.1 503.6,352.0 504.3,352.0 505.0,351.9 505.7,351.8 506.4,351.7 507.1,351.6 507.8,351.6 508.5,351.6 509.2,351.6 509.9,351.6 510.6,351.6 511.3,351.7 512.0,351.8 512.7,351.8 513.4,351.9 514.1,351.9 514.8,351.9 515.5,351.9 516.2,351.9 516.9,351.8 517.6,351.8 518.3,351.7 519.0,351.6 519.7,351.6 520.4,351.6 521.1,351.7 521.8,351.7 522.5,351.7 523.2,351.7 523.9,351.6 524.6,351.5 525.3,351.4 526.0,351.2 526.7,351.1 527.4,351.0 528.1,351.0 528.8,350.9 529.5,350.9 530.2,351.0 530.9,351.0 531.6,351.0 532.3,351.1 533.0,351.1 533.7,351.1 534.4,351.2 535.1,351.2 535.8,351.2 536.5,351.2 537.2,351.2 537.9,351.1 538.6,351.0 539.3,351.0 540.0,350.9 540.7,350.8 541.4,350.8 542.1,350.8 542.8,350.8 543.5,350.8 544.2,350.9 544.9,350.9 545.6,351.0 546.3,351.1"/>
<polyline fill="none" stroke="#1414f4" stroke-width="1.9" stroke-linejoin="round" points="553.0,352.8 553.7,352.9 554.4,353.0 555.1,353.1 555.8,353.2 556.5,353.3 557.2,353.4 557.9,353.5 558.6,353.6 559.3,353.7 560.0,353.8 560.7,353.9 561.4,354.0 562.1,354.1 562.8,354.2 563.5,354.3 564.2,354.4 564.9,354.5 565.6,354.6 566.3,354.7 567.0,354.8 567.7,355.0 568.4,355.1 569.1,355.2 569.8,355.3 570.5,355.4 571.2,355.5 571.9,355.6 572.6,355.7 573.3,355.8 574.0,355.8 574.7,355.8 575.4,355.6 576.1,355.4 576.8,355.1 577.5,354.7 578.2,354.3 578.9,354.0 579.6,353.7 580.3,353.5 581.0,353.4 581.7,353.3 582.4,353.1 583.1,353.1 583.8,353.0 584.5,352.9 585.2,352.8 585.9,352.6 586.6,352.4 587.3,352.2 588.0,352.0 588.7,351.9 589.4,351.8 590.1,351.8 590.8,352.0 591.5,352.2 592.2,352.6 592.9,353.0 593.6,353.4 594.3,353.8 595.0,354.3 595.7,354.8 596.4,355.4 597.1,356.0 597.8,356.5 598.5,357.0 599.2,357.3 599.9,357.3 600.6,357.2 601.3,356.9 602.0,356.6 602.7,356.3 603.4,355.9 604.1,355.6 604.8,355.2 605.5,354.9 606.2,354.6 606.9,354.4 607.6,354.2 608.3,354.1 609.0,353.9 609.7,353.8 610.4,353.7 611.1,353.5 611.8,353.3 612.5,353.1 613.2,352.9 613.9,352.7 614.6,352.5 615.3,352.3 616.0,352.1 616.7,352.0 617.4,351.9 618.1,351.9 618.8,351.9 619.5,351.9 620.2,351.9 620.9,351.9 621.6,351.8 622.3,351.8 623.0,351.7 623.7,351.7 624.4,351.7 625.1,351.6 625.8,351.6 626.5,351.5 627.2,351.5 627.9,351.5 628.6,351.4 629.3,351.5 630.0,351.5 630.7,351.5 631.4,351.5 632.1,351.5 632.8,351.5 633.5,351.4 634.2,351.4 634.9,351.3 635.6,351.2 636.3,351.2 637.0,351.1 637.7,351.1 638.4,351.0 639.1,351.0 639.8,351.1 640.5,351.1 641.2,351.1 641.9,351.1 642.6,351.1 643.3,351.1 644.0,351.1 644.7,351.1 645.4,351.1 646.1,351.1 646.8,351.1 647.5,351.0 648.2,351.0 648.9,351.0 649.6,351.0 650.3,351.0 651.0,351.0 651.7,350.9 652.4,350.9 653.1,350.8 653.8,350.8 654.5,350.7 655.2,350.6 655.9,350.5 656.6,350.5 657.3,350.5 658.0,350.5 658.7,350.5 659.4,350.6 660.1,350.6 660.8,350.6 661.5,350.6 662.2,350.6 662.9,350.6 663.6,350.6 664.3,350.7 665.0,350.7 665.7,350.8 666.4,350.9 667.1,350.9 667.8,351.0 668.5,350.8 669.2,350.1 669.9,349.2 670.6,348.5 671.3,348.5 672.0,349.6 672.7,350.9 673.4,351.8 674.1,352.6 674.8,353.2 675.5,353.5 676.2,353.3 676.9,352.9 677.6,352.5 678.3,352.3 679.0,352.2 679.7,352.1 680.4,352.0 681.1,352.0"/>
<polyline fill="none" stroke="#1c1ce4" stroke-width="1.9" stroke-linejoin="round" points="374.8,361.8 375.5,360.7 376.2,359.9 376.9,359.5 377.6,359.4 378.3,359.5 379.0,359.6 379.7,359.8 380.4,360.2 381.1,360.9 381.8,361.8 382.5,362.9 383.2,364.2 383.9,365.6 384.6,367.1 385.3,368.4 386.0,369.3 386.7,369.6 387.4,369.2 388.1,368.4 388.8,367.4 389.5,366.3 390.2,365.0 390.9,363.6 391.6,362.4 392.3,361.9 393.0,361.9 393.7,362.0 394.4,362.1 395.1,362.2 395.8,362.3 396.5,362.5 397.2,362.6 397.9,362.7 398.6,362.8 399.3,362.9 400.0,362.9 400.7,363.0 401.4,363.0 402.1,363.0 402.8,362.9 403.5,362.8 404.2,362.7 404.9,362.6 405.6,362.5 406.3,362.5 407.0,362.6 407.7,362.8 408.4,363.0 409.1,363.3 409.8,363.5 410.5,363.7 411.2,363.7 411.9,363.6 412.6,363.4 413.3,363.1 414.0,362.7 414.7,362.4 415.4,362.1 416.1,361.9 416.8,361.7 417.5,361.6 418.2,361.5 418.9,361.4 419.6,361.3 420.3,361.2 421.0,361.2 421.7,361.2 422.4,361.1 423.1,361.0 423.8,361.0 424.5,360.8 425.2,360.7 425.9,360.6 426.6,360.4 427.3,360.2 428.0,360.0 428.7,359.8 429.4,359.6 430.1,359.4 430.8,359.2 431.5,359.1 432.2,359.0 432.9,359.0 433.6,359.0 434.3,359.0 435.0,359.0 435.7,359.0 436.4,359.0 437.1,359.0 437.8,359.0 438.5,358.9 439.2,358.9 439.9,358.8 440.6,358.8 441.3,358.7 442.0,358.6 442.7,358.4 443.4,358.3 444.1,358.2 444.8,358.1 445.5,358.0 446.2,358.0 446.9,358.0 447.6,358.1 448.3,358.1 449.0,358.1 449.7,358.1 450.4,358.1 451.1,358.1 451.8,358.1 452.5,358.0 453.2,357.9 453.9,357.9 454.6,357.8 455.3,357.8 456.0,357.8 456.7,357.7 457.4,357.7 458.1,357.7 458.8,357.6 459.5,357.5 460.2,357.4 460.9,357.3 461.6,357.2 462.3,357.2 463.0,357.3 463.7,357.3 464.4,357.5 465.1,357.6 465.8,357.7 466.5,357.9 467.2,358.0 467.9,358.1 468.6,358.2 469.3,358.3 470.0,358.3 470.7,358.3 471.4,358.2 472.1,358.2 472.8,358.3 473.5,358.4 474.2,358.5 474.9,358.7 475.6,358.8 476.3,358.9 477.0,358.9 477.7,358.9 478.4,358.9 479.1,358.8 479.8,358.7 480.5,358.6 481.2,358.6 481.9,358.6 482.6,358.6 483.3,358.6 484.0,358.6 484.7,358.6 485.4,358.5 486.1,358.5 486.8,358.4 487.5,358.4 488.2,358.4 488.9,358.4 489.6,358.3 490.3,358.3 491.0,358.2 491.7,358.1 492.4,358.0 493.1,357.9 493.8,357.8 494.5,357.8 495.2,357.8 495.9,357.8 496.6,357.8 497.3,357.8 498.0,357.8 498.7,357.7 499.4,357.6 500.1,357.6 500.8,357.5 501.5,357.3 502.2,357.2 502.9,357.0 503.6,356.9 504.3,356.8 505.0,356.7 505.7,356.7 506.4,356.6 507.1,356.6 507.8,356.5 508.5,356.5 509.2,356.4 509.9,356.4 510.6,356.4 511.3,356.3 512.0,356.3 512.7,356.2 513.4,356.1 514.1,356.0 514.8,355.8 515.5,355.7 516.2,355.6 516.9,355.5 517.6,355.5 518.3,355.4 519.0,355.3 519.7,355.3 520.4,355.3 521.1,355.3 521.8,355.4 522.5,355.5 523.2,355.6 523.9,355.7 524.6,355.7 525.3,355.7 526.0,355.6 526.7,355.6 527.4,355.6 528.1,355.6 528.8,355.6 529.5,355.7 530.2,355.7 530.9,355.6 531.6,355.6 532.3,355.5 533.0,355.4 533.7,355.3 534.4,355.2 535.1,355.2 535.8,355.2 536.5,355.2 537.2,355.2 537.9,355.2 538.6,355.3 539.3,355.3 540.0,355.3 540.7,355.3 541.4,355.3 542.1,355.3 542.8,355.3 543.5,355.3 544.2,355.3 544.9,355.3 545.6,355.2 546.3,355.2"/>
<polyline fill="none" stroke="#1c1ce4" stroke-width="1.9" stroke-linejoin="round" points="553.0,362.6 553.7,363.0 554.4,363.4 555.1,363.8 555.8,364.2 556.5,364.7 557.2,365.1 557.9,365.4 558.6,365.7 559.3,366.0 560.0,366.3 560.7,366.5 561.4,366.8 562.1,367.1 562.8,367.4 563.5,367.8 564.2,368.1 564.9,368.5 565.6,368.9 566.3,369.3 567.0,369.6 567.7,370.0 568.4,370.5 569.1,370.9 569.8,371.4 570.5,371.6 571.2,371.8 571.9,371.7 572.6,371.4 573.3,371.0 574.0,370.6 574.7,370.2 575.4,370.0 576.1,369.8 576.8,369.6 577.5,369.5 578.2,369.2 578.9,369.0 579.6,368.6 580.3,368.1 581.0,367.6 581.7,366.9 582.4,366.1 583.1,365.2 583.8,364.3 584.5,363.6 585.2,363.0 585.9,362.5 586.6,362.0 587.3,361.5 588.0,361.2 588.7,361.0 589.4,361.0 590.1,361.5 590.8,362.2 591.5,363.1 592.2,364.0 592.9,364.9 593.6,366.0 594.3,367.1 595.0,368.2 595.7,369.3 596.4,370.5 597.1,372.0 597.8,373.6 598.5,375.1 599.2,376.3 599.9,377.0 600.6,377.0 601.3,376.6 602.0,375.8 602.7,374.9 603.4,374.0 604.1,373.0 604.8,372.0 605.5,371.0 606.2,370.2 606.9,369.4 607.6,368.7 608.3,368.1 609.0,367.5 609.7,366.9 610.4,366.3 611.1,365.7 611.8,365.1 612.5,364.6 613.2,364.1 613.9,363.5 614.6,363.0 615.3,362.5 616.0,362.2 616.7,362.0 617.4,361.9 618.1,361.8 618.8,361.8 619.5,361.9 620.2,362.4 620.9,362.8 621.6,363.0 622.3,363.2 623.0,363.3 623.7,363.3 624.4,363.3 625.1,363.3 625.8,363.2 626.5,363.1 627.2,363.0 627.9,362.8 628.6,362.6 629.3,362.4 630.0,362.2 630.7,362.1 631.4,362.0 632.1,361.9 632.8,361.9 633.5,361.8 634.2,361.6 634.9,361.4 635.6,361.0 636.3,360.2 637.0,359.4 637.7,358.8 638.4,358.4 639.1,358.1 639.8,357.8 640.5,357.5 641.2,357.3 641.9,357.0 642.6,356.8 643.3,356.6 644.0,356.4 644.7,356.2 645.4,356.0 646.1,355.9 646.8,355.9 647.5,355.9 648.2,355.9 648.9,356.0 649.6,356.1 650.3,356.2 651.0,356.3 651.7,356.3 652.4,356.3 653.1,356.3 653.8,356.3 654.5,356.2 655.2,356.2 655.9,356.2 656.6,356.2 657.3,356.2 658.0,356.3 658.7,356.4 659.4,356.4 660.1,356.4 660.8,356.5 661.5,356.5 662.2,356.6 662.9,356.6 663.6,356.5 664.3,356.4 665.0,356.3 665.7,356.0 666.4,355.6 667.1,355.2 667.8,355.2 668.5,355.1 669.2,354.8 669.9,354.4 670.6,354.2 671.3,354.6 672.0,356.0 672.7,357.8 673.4,359.2 674.1,360.4 674.8,361.3 675.5,361.4 676.2,360.7 676.9,359.6 677.6,358.2 678.3,357.0 679.0,356.0 679.7,355.1 680.4,354.3 681.1,353.5"/>
<polyline fill="none" stroke="#2a2ad2" stroke-width="1.9" stroke-linejoin="round" points="374.8,369.4 375.5,367.7 376.2,366.4 376.9,365.7 377.6,365.7 378.3,365.7 379.0,365.8 379.7,366.2 380.4,366.9 381.1,368.0 381.8,369.4 382.5,371.0 383.2,372.7 383.9,374.8 384.6,377.0 385.3,379.0 386.0,380.4 386.7,380.9 387.4,380.5 388.1,379.5 388.8,378.2 389.5,376.8 390.2,375.0 390.9,372.8 391.6,370.9 392.3,370.0 393.0,369.9 393.7,369.9 394.4,369.9 395.1,370.0 395.8,370.1 396.5,370.2 397.2,370.4 397.9,370.7 398.6,370.9 399.3,371.2 400.0,371.4 400.7,371.5 401.4,371.7 402.1,371.7 402.8,371.7 403.5,371.6 404.2,371.4 404.9,371.2 405.6,371.1 406.3,371.1 407.0,371.2 407.7,371.4 408.4,371.6 409.1,371.9 409.8,372.2 410.5,372.3 411.2,372.3 411.9,372.1 412.6,371.8 413.3,371.4 414.0,370.8 414.7,370.4 415.4,370.1 416.1,370.0 416.8,370.0 417.5,369.9 418.2,369.9 418.9,369.7 419.6,369.6 420.3,369.4 421.0,369.2 421.7,369.0 422.4,368.8 423.1,368.6 423.8,368.4 424.5,368.2 425.2,368.0 425.9,367.8 426.6,367.6 427.3,367.4 428.0,367.2 428.7,367.1 429.4,366.9 430.1,366.7 430.8,366.5 431.5,366.3 432.2,366.2 432.9,366.1 433.6,365.9 434.3,365.8 435.0,365.7 435.7,365.5 436.4,365.4 437.1,365.2 437.8,365.1 438.5,365.0 439.2,364.9 439.9,364.8 440.6,364.8 441.3,364.8 442.0,364.7 442.7,364.7 443.4,364.6 444.1,364.5 444.8,364.3 445.5,364.2 446.2,364.0 446.9,363.9 447.6,363.8 448.3,363.8 449.0,363.8 449.7,363.8 450.4,363.8 451.1,363.8 451.8,363.7 452.5,363.6 453.2,363.6 453.9,363.6 454.6,363.6 455.3,363.6 456.0,363.6 456.7,363.7 457.4,363.6 458.1,363.6 458.8,363.5 459.5,363.4 460.2,363.4 460.9,363.3 461.6,363.2 462.3,363.1 463.0,363.1 463.7,363.1 464.4,363.1 465.1,363.1 465.8,363.1 466.5,363.1 467.2,363.1 467.9,363.1 468.6,363.2 469.3,363.2 470.0,363.3 470.7,363.3 471.4,363.3 472.1,363.3 472.8,363.3 473.5,363.4 474.2,363.4 474.9,363.5 475.6,363.5 476.3,363.5 477.0,363.5 477.7,363.4 478.4,363.3 479.1,363.1 479.8,363.0 480.5,362.9 481.2,362.9 481.9,362.9 482.6,362.9 483.3,362.9 484.0,362.9 484.7,362.9 485.4,362.9 486.1,362.9 486.8,362.8 487.5,362.9 488.2,362.9 488.9,363.0 489.6,363.0 490.3,363.1 491.0,363.1 491.7,363.1 492.4,363.1 493.1,363.0 493.8,363.0 494.5,362.8 495.2,362.7 495.9,362.5 496.6,362.2 497.3,362.1 498.0,361.9 498.7,361.8 499.4,361.8 500.1,361.7 500.8,361.7 501.5,361.7 502.2,361.6 502.9,361.5 503.6,361.4 504.3,361.3 505.0,361.2 505.7,361.1 506.4,361.0 507.1,360.9 507.8,360.9 508.5,360.8 509.2,360.7 509.9,360.6 510.6,360.4 511.3,360.3 512.0,360.1 512.7,359.9 513.4,359.8 514.1,359.7 514.8,359.7 515.5,359.6 516.2,359.6 516.9,359.6 517.6,359.5 518.3,359.5 519.0,359.5 519.7,359.4 520.4,359.4 521.1,359.3 521.8,359.2 522.5,359.1 523.2,359.1 523.9,359.0 524.6,359.1 525.3,359.1 526.0,359.2 526.7,359.2 527.4,359.3 528.1,359.2 528.8,359.1 529.5,359.0 530.2,358.9 530.9,358.8 531.6,358.7 532.3,358.6 533.0,358.6 533.7,358.6 534.4,358.7 535.1,358.8 535.8,358.9 536.5,358.9 537.2,359.0 537.9,359.0 538.6,359.0 539.3,359.0 540.0,359.0 540.7,358.9 541.4,358.9 542.1,358.8 542.8,358.8 543.5,358.8 544.2,358.8 544.9,358.7 545.6,358.6 546.3,358.4"/>
<polyline fill="none" stroke="#2a2ad2" stroke-width="1.9" stroke-linejoin="round" points="553.0,368.4 553.7,369.0 554.4,369.5 555.1,370.0 555.8,370.4 556.5,370.8 557.2,371.1 557.9,371.5 558.6,371.8 559.3,372.1 560.0,372.5 560.7,373.0 561.4,373.5 562.1,374.0 562.8,374.5 563.5,375.1 564.2,375.6 564.9,376.1 565.6,376.6 566.3,377.0 567.0,377.5 567.7,378.1 568.4,378.8 569.1,379.5 569.8,380.2 570.5,380.7 571.2,381.1 571.9,381.1 572.6,380.9 573.3,380.5 574.0,380.0 574.7,379.6 575.4,379.2 576.1,378.8 576.8,378.4 577.5,377.9 578.2,377.4 578.9,376.8 579.6,376.2 580.3,375.5 581.0,374.8 581.7,373.9 582.4,372.9 583.1,371.7 583.8,370.5 584.5,369.4 585.2,368.6 585.9,367.9 586.6,367.2 587.3,366.6 588.0,366.2 588.7,366.0 589.4,366.0 590.1,366.6 590.8,367.5 591.5,368.5 592.2,369.6 592.9,370.8 593.6,372.2 594.3,373.7 595.0,375.2 595.7,376.7 596.4,378.4 597.1,380.4 597.8,382.4 598.5,384.4 599.2,385.8 599.9,386.6 600.6,386.5 601.3,385.8 602.0,384.8 602.7,383.6 603.4,382.7 604.1,381.7 604.8,380.7 605.5,379.7 606.2,378.8 606.9,377.8 607.6,376.9 608.3,375.9 609.0,374.9 609.7,374.0 610.4,373.1 611.1,372.2 611.8,371.5 612.5,370.8 613.2,370.1 613.9,369.4 614.6,368.8 615.3,368.4 616.0,368.2 616.7,368.1 617.4,368.1 618.1,368.0 618.8,368.0 619.5,368.1 620.2,368.6 620.9,369.1 621.6,369.3 622.3,369.6 623.0,369.8 623.7,370.0 624.4,370.0 625.1,370.1 625.8,370.1 626.5,370.1 627.2,370.0 627.9,369.9 628.6,369.8 629.3,369.7 630.0,369.5 630.7,369.3 631.4,369.2 632.1,369.0 632.8,368.8 633.5,368.7 634.2,368.5 634.9,368.2 635.6,367.6 636.3,366.4 637.0,365.1 637.7,363.8 638.4,362.9 639.1,362.1 639.8,361.3 640.5,360.7 641.2,360.4 641.9,360.1 642.6,359.9 643.3,359.8 644.0,359.7 644.7,359.7 645.4,359.7 646.1,359.7 646.8,359.6 647.5,359.6 648.2,359.5 648.9,359.4 649.6,359.3 650.3,359.3 651.0,359.3 651.7,359.4 652.4,359.5 653.1,359.7 653.8,359.9 654.5,360.1 655.2,360.1 655.9,360.1 656.6,360.0 657.3,359.9 658.0,359.8 658.7,359.6 659.4,359.5 660.1,359.4 660.8,359.2 661.5,359.1 662.2,359.0 662.9,359.0 663.6,358.9 664.3,359.0 665.0,359.0 665.7,358.8 666.4,358.3 667.1,357.8 667.8,357.8 668.5,357.9 669.2,357.8 669.9,357.6 670.6,357.5 671.3,358.0 672.0,359.5 672.7,361.5 673.4,363.1 674.1,364.5 674.8,365.5 675.5,365.5 676.2,364.5 676.9,362.9 677.6,361.0 678.3,359.3 679.0,357.8 679.7,356.5 680.4,355.2 681.1,354.0"/>
<polyline fill="none" stroke="#5252b4" stroke-width="1.9" stroke-linejoin="round" points="374.8,377.5 375.5,374.9 376.2,373.0 376.9,372.0 377.6,372.0 378.3,372.2 379.0,372.6 379.7,373.4 380.4,374.8 381.1,376.6 381.8,378.7 382.5,380.9 383.2,383.1 383.9,385.6 384.6,388.4 385.3,390.9 386.0,392.8 386.7,393.5 387.4,392.9 388.1,391.5 388.8,389.7 389.5,387.8 390.2,385.4 390.9,382.4 391.6,379.8 392.3,378.6 393.0,378.5 393.7,378.5 394.4,378.6 395.1,378.7 395.8,378.9 396.5,379.1 397.2,379.3 397.9,379.6 398.6,379.9 399.3,380.2 400.0,380.4 400.7,380.5 401.4,380.7 402.1,380.8 402.8,380.7 403.5,380.6 404.2,380.4 404.9,380.2 405.6,380.1 406.3,380.2 407.0,380.4 407.7,380.6 408.4,380.9 409.1,381.3 409.8,381.7 410.5,381.8 411.2,381.7 411.9,381.5 412.6,381.3 413.3,380.9 414.0,380.3 414.7,379.7 415.4,379.4 416.1,379.2 416.8,379.0 417.5,378.8 418.2,378.5 418.9,378.2 419.6,377.9 420.3,377.6 421.0,377.2 421.7,376.9 422.4,376.5 423.1,376.2 423.8,375.8 424.5,375.5 425.2,375.2 425.9,374.9 426.6,374.7 427.3,374.4 428.0,374.3 428.7,374.1 429.4,374.0 430.1,374.0 430.8,373.9 431.5,373.7 432.2,373.6 432.9,373.4 433.6,373.2 434.3,372.9 435.0,372.7 435.7,372.5 436.4,372.2 437.1,372.0 437.8,371.9 438.5,371.8 439.2,371.7 439.9,371.7 440.6,371.6 441.3,371.5 442.0,371.3 442.7,371.1 443.4,370.9 444.1,370.7 444.8,370.6 445.5,370.6 446.2,370.5 446.9,370.5 447.6,370.5 448.3,370.5 449.0,370.4 449.7,370.4 450.4,370.3 451.1,370.2 451.8,370.0 452.5,369.9 453.2,369.8 453.9,369.8 454.6,369.8 455.3,369.8 456.0,369.8 456.7,369.8 457.4,369.7 458.1,369.7 458.8,369.6 459.5,369.6 460.2,369.5 460.9,369.4 461.6,369.3 462.3,369.1 463.0,369.0 463.7,369.0 464.4,369.0 465.1,369.0 465.8,369.0 466.5,369.0 467.2,368.9 467.9,368.9 468.6,368.9 469.3,368.9 470.0,369.0 470.7,369.0 471.4,369.1 472.1,369.1 472.8,369.1 473.5,369.0 474.2,369.0 474.9,368.9 475.6,368.9 476.3,368.9 477.0,368.9 477.7,368.9 478.4,368.9 479.1,368.9 479.8,368.9 480.5,368.8 481.2,368.7 481.9,368.6 482.6,368.6 483.3,368.5 484.0,368.5 484.7,368.5 485.4,368.5 486.1,368.4 486.8,368.4 487.5,368.3 488.2,368.2 488.9,368.1 489.6,368.0 490.3,367.9 491.0,367.8 491.7,367.7 492.4,367.5 493.1,367.4 493.8,367.2 494.5,367.0 495.2,366.8 495.9,366.6 496.6,366.5 497.3,366.5 498.0,366.4 498.7,366.5 499.4,366.5 500.1,366.5 500.8,366.4 501.5,366.3 502.2,366.1 502.9,365.9 503.6,365.6 504.3,365.4 505.0,365.3 505.7,365.2 506.4,365.1 507.1,365.1 507.8,365.0 508.5,364.9 509.2,364.7 509.9,364.5 510.6,364.3 511.3,364.2 512.0,364.1 512.7,364.0 513.4,364.0 514.1,364.0 514.8,363.9 515.5,363.9 516.2,363.8 516.9,363.6 517.6,363.5 518.3,363.5 519.0,363.4 519.7,363.4 520.4,363.4 521.1,363.4 521.8,363.4 522.5,363.5 523.2,363.5 523.9,363.5 524.6,363.5 525.3,363.5 526.0,363.5 526.7,363.4 527.4,363.3 528.1,363.2 528.8,363.2 529.5,363.1 530.2,363.1 530.9,363.2 531.6,363.2 532.3,363.3 533.0,363.4 533.7,363.4 534.4,363.4 535.1,363.4 535.8,363.3 536.5,363.1 537.2,362.9 537.9,362.8 538.6,362.6 539.3,362.5 540.0,362.3 540.7,362.2 541.4,362.1 542.1,362.0 542.8,361.9 543.5,361.8 544.2,361.8 544.9,361.7 545.6,361.7 546.3,361.7"/>
<polyline fill="none" stroke="#5252b4" stroke-width="1.9" stroke-linejoin="round" points="553.0,373.8 553.7,374.6 554.4,375.3 555.1,376.0 555.8,376.6 556.5,377.2 557.2,377.7 557.9,378.3 558.6,378.7 559.3,379.2 560.0,379.7 560.7,380.2 561.4,380.8 562.1,381.3 562.8,381.9 563.5,382.5 564.2,383.2 564.9,383.9 565.6,384.5 566.3,385.3 567.0,386.0 567.7,386.8 568.4,387.7 569.1,388.5 569.8,389.3 570.5,389.9 571.2,390.2 571.9,390.1 572.6,389.8 573.3,389.2 574.0,388.6 574.7,388.0 575.4,387.5 576.1,387.1 576.8,386.6 577.5,386.2 578.2,385.6 578.9,385.0 579.6,384.3 580.3,383.5 581.0,382.7 581.7,381.5 582.4,380.0 583.1,378.4 583.8,376.7 584.5,375.3 585.2,374.1 585.9,373.1 586.6,372.2 587.3,371.4 588.0,370.8 588.7,370.5 589.4,370.7 590.1,371.5 590.8,372.8 591.5,374.2 592.2,375.7 592.9,377.2 593.6,379.0 594.3,380.9 595.0,382.9 595.7,385.0 596.4,387.2 597.1,389.8 597.8,392.6 598.5,395.1 599.2,397.0 599.9,397.9 600.6,397.8 601.3,396.8 602.0,395.3 602.7,393.9 603.4,392.6 604.1,391.3 604.8,390.0 605.5,388.7 606.2,387.4 606.9,386.2 607.6,385.0 608.3,383.7 609.0,382.4 609.7,381.2 610.4,380.0 611.1,379.0 611.8,378.1 612.5,377.3 613.2,376.5 613.9,375.7 614.6,375.0 615.3,374.4 616.0,374.1 616.7,373.8 617.4,373.6 618.1,373.5 618.8,373.5 619.5,373.7 620.2,374.6 620.9,375.4 621.6,375.9 622.3,376.2 623.0,376.4 623.7,376.4 624.4,376.3 625.1,376.1 625.8,376.0 626.5,375.9 627.2,375.9 627.9,375.9 628.6,375.9 629.3,375.8 630.0,375.6 630.7,375.4 631.4,375.2 632.1,374.9 632.8,374.6 633.5,374.4 634.2,374.1 634.9,373.8 635.6,373.0 636.3,371.5 637.0,369.7 637.7,368.1 638.4,366.8 639.1,365.6 639.8,364.5 640.5,363.6 641.2,363.1 641.9,362.8 642.6,362.6 643.3,362.5 644.0,362.6 644.7,362.6 645.4,362.7 646.1,362.8 646.8,362.8 647.5,362.8 648.2,362.8 648.9,362.7 649.6,362.7 650.3,362.5 651.0,362.5 651.7,362.4 652.4,362.4 653.1,362.5 653.8,362.6 654.5,362.7 655.2,362.8 655.9,363.0 656.6,363.1 657.3,363.3 658.0,363.3 658.7,363.3 659.4,363.3 660.1,363.2 660.8,363.1 661.5,363.0 662.2,362.8 662.9,362.6 663.6,362.4 664.3,362.2 665.0,362.1 665.7,361.5 666.4,360.7 667.1,360.0 667.8,360.1 668.5,360.4 669.2,360.7 669.9,360.9 670.6,361.4 671.3,362.2 672.0,364.0 672.7,366.2 673.4,368.0 674.1,369.5 674.8,370.4 675.5,370.1 676.2,368.7 676.9,366.6 677.6,364.2 678.3,362.1 679.0,360.4 679.7,358.7 680.4,357.1 681.1,355.4"/>
<polyline fill="none" stroke="#84689c" stroke-width="1.9" stroke-linejoin="round" points="374.8,385.1 375.5,381.7 376.2,379.0 376.9,377.7 377.6,377.7 378.3,377.8 379.0,378.2 379.7,379.1 380.4,380.8 381.1,383.1 381.8,385.8 382.5,388.8 383.2,391.6 383.9,394.9 384.6,398.6 385.3,402.0 386.0,404.4 386.7,405.4 387.4,404.6 388.1,402.8 388.8,400.5 389.5,398.0 390.2,394.8 390.9,390.9 391.6,387.4 392.3,385.8 393.0,385.8 393.7,385.9 394.4,386.1 395.1,386.4 395.8,386.8 396.5,387.1 397.2,387.5 397.9,387.9 398.6,388.4 399.3,388.7 400.0,389.1 400.7,389.4 401.4,389.6 402.1,389.7 402.8,389.7 403.5,389.6 404.2,389.3 404.9,389.1 405.6,388.9 406.3,389.0 407.0,389.3 407.7,389.7 408.4,390.1 409.1,390.6 409.8,391.1 410.5,391.4 411.2,391.2 411.9,390.9 412.6,390.6 413.3,390.0 414.0,389.2 414.7,388.5 415.4,388.1 416.1,387.8 416.8,387.6 417.5,387.3 418.2,387.0 418.9,386.7 419.6,386.4 420.3,386.1 421.0,385.8 421.7,385.4 422.4,385.0 423.1,384.4 423.8,383.8 424.5,383.3 425.2,382.8 425.9,382.3 426.6,382.0 427.3,381.7 428.0,381.5 428.7,381.3 429.4,381.1 430.1,380.9 430.8,380.7 431.5,380.4 432.2,380.1 432.9,379.8 433.6,379.5 434.3,379.3 435.0,379.1 435.7,378.9 436.4,378.8 437.1,378.6 437.8,378.4 438.5,378.2 439.2,378.0 439.9,377.8 440.6,377.6 441.3,377.5 442.0,377.4 442.7,377.4 443.4,377.3 444.1,377.2 444.8,377.1 445.5,377.1 446.2,377.0 446.9,377.0 447.6,377.0 448.3,376.9 449.0,376.9 449.7,376.8 450.4,376.7 451.1,376.5 451.8,376.3 452.5,376.2 453.2,376.1 453.9,376.0 454.6,375.9 455.3,375.9 456.0,375.9 456.7,375.9 457.4,375.8 458.1,375.8 458.8,375.7 459.5,375.6 460.2,375.5 460.9,375.4 461.6,375.3 462.3,375.1 463.0,375.0 463.7,374.9 464.4,374.8 465.1,374.8 465.8,374.8 466.5,374.8 467.2,374.8 467.9,374.8 468.6,374.7 469.3,374.7 470.0,374.7 470.7,374.6 471.4,374.7 472.1,374.7 472.8,374.7 473.5,374.7 474.2,374.6 474.9,374.6 475.6,374.5 476.3,374.5 477.0,374.5 477.7,374.5 478.4,374.4 479.1,374.3 479.8,374.2 480.5,374.0 481.2,373.9 481.9,373.7 482.6,373.6 483.3,373.6 484.0,373.6 484.7,373.7 485.4,373.8 486.1,373.8 486.8,373.8 487.5,373.7 488.2,373.6 488.9,373.5 489.6,373.4 490.3,373.4 491.0,373.4 491.7,373.4 492.4,373.4 493.1,373.3 493.8,373.1 494.5,372.8 495.2,372.5 495.9,372.2 496.6,371.9 497.3,371.6 498.0,371.4 498.7,371.4 499.4,371.3 500.1,371.4 500.8,371.4 501.5,371.4 502.2,371.4 502.9,371.3 503.6,371.1 504.3,370.9 505.0,370.6 505.7,370.3 506.4,369.9 507.1,369.5 507.8,369.2 508.5,368.8 509.2,368.5 509.9,368.2 510.6,367.9 511.3,367.7 512.0,367.6 512.7,367.4 513.4,367.2 514.1,367.0 514.8,366.8 515.5,366.7 516.2,366.5 516.9,366.4 517.6,366.2 518.3,366.2 519.0,366.1 519.7,366.1 520.4,366.1 521.1,366.2 521.8,366.3 522.5,366.3 523.2,366.4 523.9,366.4 524.6,366.4 525.3,366.4 526.0,366.4 526.7,366.4 527.4,366.4 528.1,366.4 528.8,366.4 529.5,366.5 530.2,366.5 530.9,366.5 531.6,366.5 532.3,366.5 533.0,366.5 533.7,366.5 534.4,366.4 535.1,366.4 535.8,366.3 536.5,366.2 537.2,366.0 537.9,365.8 538.6,365.6 539.3,365.4 540.0,365.2 540.7,365.1 541.4,365.0 542.1,365.0 542.8,365.0 543.5,365.1 544.2,365.0 544.9,365.0 545.6,364.9 546.3,364.7"/>
<polyline fill="none" stroke="#84689c" stroke-width="1.9" stroke-linejoin="round" points="553.0,379.3 553.7,380.1 554.4,380.9 555.1,381.8 555.8,382.6 556.5,383.4 557.2,384.2 557.9,384.9 558.6,385.6 559.3,386.2 560.0,386.7 560.7,387.3 561.4,387.9 562.1,388.5 562.8,389.2 563.5,389.9 564.2,390.6 564.9,391.3 565.6,392.0 566.3,392.8 567.0,393.5 567.7,394.4 568.4,395.5 569.1,396.6 569.8,397.6 570.5,398.5 571.2,399.0 571.9,399.0 572.6,398.7 573.3,398.0 574.0,397.3 574.7,396.6 575.4,396.1 576.1,395.6 576.8,395.1 577.5,394.5 578.2,393.9 578.9,393.2 579.6,392.4 580.3,391.5 581.0,390.4 581.7,389.1 582.4,387.3 583.1,385.3 583.8,383.3 584.5,381.6 585.2,380.4 585.9,379.4 586.6,378.5 587.3,377.7 588.0,377.1 588.7,376.8 589.4,376.9 590.1,377.7 590.8,379.0 591.5,380.6 592.2,382.1 592.9,383.9 593.6,385.9 594.3,388.0 595.0,390.2 595.7,392.4 596.4,394.7 597.1,397.7 597.8,400.9 598.5,404.0 599.2,406.5 599.9,408.0 600.6,408.0 601.3,407.1 602.0,405.5 602.7,403.9 603.4,402.4 604.1,400.9 604.8,399.3 605.5,397.6 606.2,396.0 606.9,394.5 607.6,393.0 608.3,391.4 609.0,389.8 609.7,388.3 610.4,386.8 611.1,385.5 611.8,384.3 612.5,383.2 613.2,382.1 613.9,381.0 614.6,380.2 615.3,379.6 616.0,379.2 616.7,379.0 617.4,378.8 618.1,378.6 618.8,378.4 619.5,378.6 620.2,379.6 620.9,380.6 621.6,381.2 622.3,381.8 623.0,382.3 623.7,382.6 624.4,382.7 625.1,382.7 625.8,382.7 626.5,382.6 627.2,382.6 627.9,382.5 628.6,382.4 629.3,382.2 630.0,382.0 630.7,381.7 631.4,381.5 632.1,381.2 632.8,380.9 633.5,380.7 634.2,380.4 634.9,379.9 635.6,378.9 636.3,377.0 637.0,374.7 637.7,372.6 638.4,371.0 639.1,369.6 639.8,368.4 640.5,367.5 641.2,366.9 641.9,366.6 642.6,366.3 643.3,366.0 644.0,365.8 644.7,365.7 645.4,365.6 646.1,365.5 646.8,365.4 647.5,365.4 648.2,365.3 648.9,365.3 649.6,365.4 650.3,365.5 651.0,365.6 651.7,365.7 652.4,365.9 653.1,365.9 653.8,365.9 654.5,365.9 655.2,365.8 655.9,365.7 656.6,365.7 657.3,365.7 658.0,365.7 658.7,365.7 659.4,365.7 660.1,365.7 660.8,365.7 661.5,365.8 662.2,365.8 662.9,365.8 663.6,365.8 664.3,365.7 665.0,365.6 665.7,365.0 666.4,363.9 667.1,362.9 667.8,362.8 668.5,363.1 669.2,363.5 669.9,363.9 670.6,364.6 671.3,365.7 672.0,367.7 672.7,370.2 673.4,372.4 674.1,374.1 674.8,375.2 675.5,374.9 676.2,373.2 676.9,370.6 677.6,367.8 678.3,365.1 679.0,363.0 679.7,360.9 680.4,358.8 681.1,356.7"/>
<polyline fill="none" stroke="#a88c94" stroke-width="1.9" stroke-linejoin="round" points="374.8,392.2 375.5,388.2 376.2,385.1 376.9,383.7 377.6,383.7 378.3,384.0 379.0,384.4 379.7,385.6 380.4,387.7 381.1,390.5 381.8,393.8 382.5,397.2 383.2,400.5 383.9,404.5 384.6,408.9 385.3,412.9 386.0,415.8 386.7,416.8 387.4,415.9 388.1,413.7 388.8,410.9 389.5,408.1 390.2,404.4 390.9,399.8 391.6,395.9 392.3,394.3 393.0,394.5 393.7,394.8 394.4,395.3 395.1,395.7 395.8,396.0 396.5,396.3 397.2,396.5 397.9,396.8 398.6,397.1 399.3,397.3 400.0,397.6 400.7,397.9 401.4,398.3 402.1,398.7 402.8,398.9 403.5,398.9 404.2,398.8 404.9,398.6 405.6,398.5 406.3,398.5 407.0,398.8 407.7,399.3 408.4,399.8 409.1,400.4 409.8,401.2 410.5,401.7 411.2,401.6 411.9,401.4 412.6,401.0 413.3,400.3 414.0,399.2 414.7,398.1 415.4,397.4 416.1,396.8 416.8,396.3 417.5,395.9 418.2,395.5 418.9,395.2 419.6,394.9 420.3,394.6 421.0,394.3 421.7,394.0 422.4,393.6 423.1,393.1 423.8,392.5 424.5,391.9 425.2,391.2 425.9,390.6 426.6,389.9 427.3,389.4 428.0,388.8 428.7,388.4 429.4,388.0 430.1,387.6 430.8,387.3 431.5,387.0 432.2,386.8 432.9,386.6 433.6,386.3 434.3,386.1 435.0,385.9 435.7,385.6 436.4,385.4 437.1,385.1 437.8,384.8 438.5,384.5 439.2,384.2 439.9,384.0 440.6,383.8 441.3,383.6 442.0,383.5 442.7,383.5 443.4,383.4 444.1,383.4 444.8,383.4 445.5,383.4 446.2,383.4 446.9,383.3 447.6,383.2 448.3,383.0 449.0,382.8 449.7,382.7 450.4,382.5 451.1,382.4 451.8,382.2 452.5,382.0 453.2,381.7 453.9,381.4 454.6,381.1 455.3,380.9 456.0,380.7 456.7,380.6 457.4,380.5 458.1,380.6 458.8,380.6 459.5,380.6 460.2,380.6 460.9,380.6 461.6,380.6 462.3,380.7 463.0,380.8 463.7,380.9 464.4,380.9 465.1,381.0 465.8,380.9 466.5,380.8 467.2,380.7 467.9,380.5 468.6,380.4 469.3,380.3 470.0,380.2 470.7,380.2 471.4,380.2 472.1,380.2 472.8,380.2 473.5,380.2 474.2,380.2 474.9,380.2 475.6,380.2 476.3,380.2 477.0,380.2 477.7,380.2 478.4,380.1 479.1,380.0 479.8,380.0 480.5,379.9 481.2,379.8 481.9,379.6 482.6,379.4 483.3,379.2 484.0,379.0 484.7,378.8 485.4,378.7 486.1,378.6 486.8,378.7 487.5,378.7 488.2,378.8 488.9,378.8 489.6,378.7 490.3,378.5 491.0,378.2 491.7,377.9 492.4,377.6 493.1,377.3 493.8,377.0 494.5,376.8 495.2,376.6 495.9,376.5 496.6,376.3 497.3,376.2 498.0,376.1 498.7,376.0 499.4,375.9 500.1,375.8 500.8,375.6 501.5,375.4 502.2,375.1 502.9,374.8 503.6,374.5 504.3,374.1 505.0,373.8 505.7,373.5 506.4,373.3 507.1,373.0 507.8,372.8 508.5,372.5 509.2,372.1 509.9,371.8 510.6,371.5 511.3,371.2 512.0,371.0 512.7,370.8 513.4,370.6 514.1,370.4 514.8,370.3 515.5,370.1 516.2,370.0 516.9,369.9 517.6,369.8 518.3,369.9 519.0,370.0 519.7,370.2 520.4,370.4 521.1,370.7 521.8,371.0 522.5,371.3 523.2,371.4 523.9,371.4 524.6,371.4 525.3,371.2 526.0,371.0 526.7,370.8 527.4,370.6 528.1,370.4 528.8,370.2 529.5,370.1 530.2,370.0 530.9,369.9 531.6,369.9 532.3,369.8 533.0,369.7 533.7,369.6 534.4,369.5 535.1,369.5 535.8,369.5 536.5,369.5 537.2,369.5 537.9,369.4 538.6,369.3 539.3,369.2 540.0,369.1 540.7,369.0 541.4,368.8 542.1,368.7 542.8,368.5 543.5,368.3 544.2,368.2 544.9,368.1 545.6,368.0 546.3,367.9"/>
<polyline fill="none" stroke="#a88c94" stroke-width="1.9" stroke-linejoin="round" points="553.0,385.2 553.7,386.1 554.4,387.0 555.1,387.9 555.8,388.8 556.5,389.7 557.2,390.6 557.9,391.4 558.6,392.2 559.3,392.9 560.0,393.6 560.7,394.2 561.4,394.8 562.1,395.6 562.8,396.4 563.5,397.3 564.2,398.2 564.9,399.2 565.6,400.3 566.3,401.2 567.0,402.2 567.7,403.2 568.4,404.4 569.1,405.6 569.8,406.7 570.5,407.6 571.2,408.1 571.9,408.1 572.6,407.6 573.3,406.8 574.0,405.8 574.7,405.0 575.4,404.4 576.1,403.9 576.8,403.4 577.5,403.0 578.2,402.4 578.9,401.7 579.6,400.8 580.3,399.7 581.0,398.5 581.7,396.9 582.4,394.8 583.1,392.4 583.8,390.0 584.5,387.8 585.2,386.1 585.9,384.6 586.6,383.2 587.3,381.9 588.0,381.1 588.7,380.6 589.4,380.7 590.1,381.8 590.8,383.4 591.5,385.4 592.2,387.3 592.9,389.5 593.6,391.9 594.3,394.6 595.0,397.5 595.7,400.4 596.4,403.4 597.1,407.0 597.8,410.8 598.5,414.4 599.2,417.1 599.9,418.6 600.6,418.5 601.3,417.2 602.0,415.2 602.7,413.1 603.4,411.3 604.1,409.4 604.8,407.4 605.5,405.3 606.2,403.3 606.9,401.4 607.6,399.7 608.3,398.0 609.0,396.5 609.7,395.0 610.4,393.7 611.1,392.5 611.8,391.3 612.5,390.2 613.2,389.0 613.9,387.9 614.6,386.8 615.3,386.0 616.0,385.5 616.7,385.3 617.4,385.0 618.1,384.8 618.8,384.7 619.5,385.0 620.2,386.3 620.9,387.5 621.6,388.1 622.3,388.8 623.0,389.2 623.7,389.5 624.4,389.4 625.1,389.4 625.8,389.3 626.5,389.3 627.2,389.2 627.9,389.1 628.6,389.0 629.3,388.8 630.0,388.5 630.7,388.2 631.4,388.0 632.1,387.8 632.8,387.7 633.5,387.5 634.2,387.2 634.9,386.7 635.6,385.5 636.3,383.2 637.0,380.4 637.7,377.8 638.4,375.9 639.1,374.2 639.8,372.6 640.5,371.4 641.2,370.7 641.9,370.2 642.6,369.7 643.3,369.3 644.0,369.0 644.7,368.7 645.4,368.5 646.1,368.4 646.8,368.2 647.5,368.0 648.2,367.9 648.9,367.8 649.6,367.7 650.3,367.7 651.0,367.8 651.7,368.1 652.4,368.5 653.1,368.9 653.8,369.3 654.5,369.5 655.2,369.7 655.9,369.7 656.6,369.6 657.3,369.5 658.0,369.3 658.7,369.1 659.4,368.9 660.1,368.7 660.8,368.5 661.5,368.4 662.2,368.4 662.9,368.4 663.6,368.5 664.3,368.6 665.0,368.7 665.7,368.1 666.4,366.8 667.1,365.7 667.8,365.5 668.5,365.8 669.2,366.2 669.9,366.8 670.6,367.6 671.3,368.7 672.0,370.8 672.7,373.5 673.4,375.9 674.1,377.9 674.8,379.1 675.5,378.9 676.2,377.1 676.9,374.2 677.6,370.9 678.3,367.8 679.0,365.1 679.7,362.6 680.4,360.0 681.1,357.5"/>
<polyline fill="none" stroke="#bc9c84" stroke-width="1.9" stroke-linejoin="round" points="374.8,401.7 375.5,396.9 376.2,393.1 376.9,391.4 377.6,391.4 378.3,391.7 379.0,392.3 379.7,393.6 380.4,396.1 381.1,399.4 381.8,403.2 382.5,407.0 383.2,410.7 383.9,415.1 384.6,420.1 385.3,424.7 386.0,428.1 386.7,429.4 387.4,428.4 388.1,426.0 388.8,422.7 389.5,419.4 390.2,414.9 390.9,409.3 391.6,404.3 392.3,402.1 393.0,402.1 393.7,402.3 394.4,402.7 395.1,403.2 395.8,403.7 396.5,404.1 397.2,404.6 397.9,405.0 398.6,405.4 399.3,405.6 400.0,405.8 400.7,406.0 401.4,406.3 402.1,406.5 402.8,406.5 403.5,406.5 404.2,406.4 404.9,406.3 405.6,406.4 406.3,406.9 407.0,407.5 407.7,408.3 408.4,409.1 409.1,409.9 409.8,410.7 410.5,410.9 411.2,410.6 411.9,410.1 412.6,409.5 413.3,408.6 414.0,407.3 414.7,406.2 415.4,405.6 416.1,405.1 416.8,404.7 417.5,404.2 418.2,403.7 418.9,403.1 419.6,402.5 420.3,402.0 421.0,401.4 421.7,400.8 422.4,400.2 423.1,399.6 423.8,399.1 424.5,398.6 425.2,398.1 425.9,397.6 426.6,397.1 427.3,396.7 428.0,396.2 428.7,395.7 429.4,395.3 430.1,394.9 430.8,394.5 431.5,394.1 432.2,393.8 432.9,393.5 433.6,393.2 434.3,393.0 435.0,392.7 435.7,392.5 436.4,392.2 437.1,391.8 437.8,391.4 438.5,391.0 439.2,390.6 439.9,390.3 440.6,390.1 441.3,389.9 442.0,389.7 442.7,389.6 443.4,389.4 444.1,389.3 444.8,389.1 445.5,389.0 446.2,389.0 446.9,389.0 447.6,389.0 448.3,389.0 449.0,389.0 449.7,389.0 450.4,388.9 451.1,388.8 451.8,388.6 452.5,388.5 453.2,388.3 453.9,388.1 454.6,387.9 455.3,387.7 456.0,387.4 456.7,387.2 457.4,387.0 458.1,386.9 458.8,386.7 459.5,386.6 460.2,386.5 460.9,386.3 461.6,386.2 462.3,386.1 463.0,386.0 463.7,385.9 464.4,385.9 465.1,385.8 465.8,385.8 466.5,385.9 467.2,385.9 467.9,386.0 468.6,386.1 469.3,386.1 470.0,386.2 470.7,386.2 471.4,386.3 472.1,386.3 472.8,386.4 473.5,386.4 474.2,386.3 474.9,386.1 475.6,386.0 476.3,385.8 477.0,385.7 477.7,385.6 478.4,385.5 479.1,385.4 479.8,385.4 480.5,385.3 481.2,385.2 481.9,385.0 482.6,384.9 483.3,384.8 484.0,384.7 484.7,384.5 485.4,384.4 486.1,384.3 486.8,384.1 487.5,384.0 488.2,383.8 488.9,383.6 489.6,383.4 490.3,383.2 491.0,383.0 491.7,382.9 492.4,382.7 493.1,382.6 493.8,382.4 494.5,382.2 495.2,381.9 495.9,381.5 496.6,381.1 497.3,380.7 498.0,380.4 498.7,380.0 499.4,379.7 500.1,379.4 500.8,379.2 501.5,379.0 502.2,378.7 502.9,378.5 503.6,378.4 504.3,378.2 505.0,378.1 505.7,378.0 506.4,377.9 507.1,377.7 507.8,377.5 508.5,377.3 509.2,377.1 509.9,376.8 510.6,376.6 511.3,376.4 512.0,376.3 512.7,376.3 513.4,376.2 514.1,376.1 514.8,376.0 515.5,375.8 516.2,375.6 516.9,375.4 517.6,375.3 518.3,375.2 519.0,375.1 519.7,375.1 520.4,375.1 521.1,375.1 521.8,375.0 522.5,374.9 523.2,374.8 523.9,374.6 524.6,374.4 525.3,374.3 526.0,374.2 526.7,374.1 527.4,374.1 528.1,374.1 528.8,374.1 529.5,374.1 530.2,374.1 530.9,374.1 531.6,374.0 532.3,373.9 533.0,373.8 533.7,373.6 534.4,373.5 535.1,373.3 535.8,373.2 536.5,373.1 537.2,373.0 537.9,372.9 538.6,372.8 539.3,372.7 540.0,372.6 540.7,372.5 541.4,372.4 542.1,372.3 542.8,372.3 543.5,372.3 544.2,372.3 544.9,372.3 545.6,372.4 546.3,372.4"/>
<polyline fill="none" stroke="#bc9c84" stroke-width="1.9" stroke-linejoin="round" points="553.0,390.2 553.7,391.2 554.4,392.2 555.1,393.2 555.8,394.1 556.5,395.2 557.2,396.2 557.9,397.2 558.6,398.2 559.3,399.1 560.0,400.0 560.7,400.9 561.4,401.7 562.1,402.5 562.8,403.3 563.5,404.2 564.2,405.1 564.9,406.2 565.6,407.3 566.3,408.6 567.0,409.9 567.7,411.4 568.4,413.0 569.1,414.6 569.8,416.0 570.5,417.0 571.2,417.5 571.9,417.3 572.6,416.6 573.3,415.5 574.0,414.3 574.7,413.3 575.4,412.6 576.1,412.1 576.8,411.6 577.5,411.1 578.2,410.4 578.9,409.4 579.6,408.3 580.3,407.0 581.0,405.6 581.7,403.7 582.4,401.3 583.1,398.6 583.8,395.8 584.5,393.4 585.2,391.6 585.9,390.0 586.6,388.4 587.3,387.2 588.0,386.3 588.7,385.9 589.4,386.1 590.1,387.4 590.8,389.5 591.5,391.8 592.2,394.0 592.9,396.5 593.6,399.2 594.3,402.2 595.0,405.3 595.7,408.4 596.4,411.7 597.1,415.8 597.8,420.2 598.5,424.3 599.2,427.7 599.9,429.7 600.6,429.7 601.3,428.3 602.0,426.1 602.7,423.7 603.4,421.6 604.1,419.3 604.8,416.8 605.5,414.4 606.2,412.0 606.9,409.9 607.6,407.9 608.3,405.9 609.0,404.0 609.7,402.2 610.4,400.5 611.1,398.9 611.8,397.4 612.5,396.0 613.2,394.5 613.9,393.2 614.6,392.0 615.3,391.1 616.0,390.7 616.7,390.6 617.4,390.5 618.1,390.5 618.8,390.5 619.5,390.9 620.2,392.4 620.9,393.7 621.6,394.3 622.3,394.9 623.0,395.4 623.7,395.6 624.4,395.5 625.1,395.5 625.8,395.4 626.5,395.3 627.2,395.2 627.9,395.1 628.6,394.8 629.3,394.4 630.0,393.9 630.7,393.4 631.4,393.0 632.1,392.7 632.8,392.6 633.5,392.5 634.2,392.3 634.9,391.9 635.6,390.6 636.3,388.0 637.0,384.9 637.7,382.1 638.4,380.1 639.1,378.2 639.8,376.5 640.5,375.2 641.2,374.3 641.9,373.7 642.6,373.1 643.3,372.6 644.0,372.3 644.7,372.1 645.4,372.0 646.1,371.8 646.8,371.7 647.5,371.5 648.2,371.3 648.9,371.1 649.6,371.0 650.3,371.0 651.0,371.0 651.7,371.2 652.4,371.5 653.1,371.7 653.8,371.9 654.5,371.9 655.2,371.8 655.9,371.7 656.6,371.4 657.3,371.2 658.0,371.1 658.7,371.0 659.4,371.0 660.1,371.1 660.8,371.3 661.5,371.4 662.2,371.6 662.9,371.7 663.6,371.7 664.3,371.6 665.0,371.4 665.7,370.6 666.4,369.0 667.1,367.9 667.8,367.9 668.5,368.6 669.2,369.5 669.9,370.5 670.6,371.6 671.3,372.9 672.0,374.9 672.7,377.5 673.4,379.9 674.1,381.9 674.8,383.1 675.5,382.8 676.2,380.8 676.9,377.6 677.6,374.0 678.3,370.4 679.0,367.3 679.7,364.3 680.4,361.2 681.1,358.0"/>
<polyline fill="none" stroke="#ceae70" stroke-width="1.9" stroke-linejoin="round" points="374.8,409.2 375.5,403.6 376.2,399.4 376.9,397.5 377.6,397.5 378.3,398.0 379.0,398.6 379.7,400.1 380.4,402.9 381.1,406.6 381.8,410.9 382.5,415.2 383.2,419.3 383.9,424.4 384.6,430.2 385.3,435.6 386.0,439.6 386.7,441.3 387.4,440.3 388.1,437.6 388.8,434.1 389.5,430.4 390.2,425.4 390.9,419.0 391.6,413.5 392.3,411.0 393.0,410.9 393.7,411.0 394.4,411.1 395.1,411.4 395.8,411.8 396.5,412.3 397.2,413.0 397.9,413.9 398.6,414.8 399.3,415.6 400.0,416.2 400.7,416.7 401.4,417.0 402.1,417.0 402.8,416.8 403.5,416.3 404.2,415.8 404.9,415.5 405.6,415.3 406.3,415.6 407.0,416.2 407.7,416.8 408.4,417.4 409.1,418.0 409.8,418.7 410.5,418.9 411.2,418.6 411.9,418.1 412.6,417.5 413.3,416.6 414.0,415.3 414.7,414.2 415.4,413.7 416.1,413.4 416.8,413.1 417.5,412.7 418.2,412.2 418.9,411.6 419.6,410.9 420.3,410.1 421.0,409.4 421.7,408.6 422.4,407.8 423.1,407.0 423.8,406.2 424.5,405.5 425.2,404.8 425.9,404.2 426.6,403.6 427.3,403.1 428.0,402.6 428.7,402.2 429.4,401.7 430.1,401.3 430.8,400.8 431.5,400.4 432.2,400.1 432.9,399.8 433.6,399.6 434.3,399.5 435.0,399.3 435.7,399.0 436.4,398.6 437.1,398.1 437.8,397.6 438.5,397.1 439.2,396.7 439.9,396.4 440.6,396.2 441.3,396.0 442.0,395.9 442.7,395.9 443.4,395.9 444.1,395.8 444.8,395.8 445.5,395.7 446.2,395.5 446.9,395.4 447.6,395.2 448.3,395.0 449.0,394.8 449.7,394.6 450.4,394.5 451.1,394.4 451.8,394.4 452.5,394.4 453.2,394.5 453.9,394.5 454.6,394.4 455.3,394.2 456.0,393.9 456.7,393.7 457.4,393.4 458.1,393.2 458.8,393.0 459.5,393.0 460.2,393.0 460.9,393.0 461.6,393.1 462.3,393.2 463.0,393.3 463.7,393.4 464.4,393.4 465.1,393.4 465.8,393.3 466.5,393.2 467.2,393.1 467.9,392.9 468.6,392.7 469.3,392.5 470.0,392.3 470.7,392.1 471.4,391.9 472.1,391.7 472.8,391.6 473.5,391.4 474.2,391.4 474.9,391.2 475.6,391.1 476.3,390.9 477.0,390.7 477.7,390.4 478.4,390.2 479.1,389.9 479.8,389.8 480.5,389.6 481.2,389.5 481.9,389.4 482.6,389.3 483.3,389.3 484.0,389.2 484.7,389.2 485.4,389.3 486.1,389.3 486.8,389.2 487.5,389.0 488.2,388.8 488.9,388.5 489.6,388.1 490.3,387.8 491.0,387.4 491.7,387.2 492.4,387.0 493.1,386.8 493.8,386.8 494.5,386.8 495.2,386.8 495.9,386.7 496.6,386.5 497.3,386.3 498.0,386.0 498.7,385.6 499.4,385.3 500.1,385.0 500.8,384.7 501.5,384.4 502.2,384.1 502.9,383.8 503.6,383.5 504.3,383.3 505.0,383.0 505.7,382.7 506.4,382.4 507.1,382.1 507.8,381.7 508.5,381.4 509.2,381.1 509.9,380.9 510.6,380.8 511.3,380.7 512.0,380.7 512.7,380.6 513.4,380.5 514.1,380.3 514.8,380.0 515.5,379.7 516.2,379.4 516.9,379.1 517.6,378.9 518.3,378.8 519.0,378.8 519.7,378.8 520.4,378.8 521.1,378.8 521.8,378.7 522.5,378.6 523.2,378.5 523.9,378.5 524.6,378.5 525.3,378.5 526.0,378.5 526.7,378.5 527.4,378.4 528.1,378.3 528.8,378.2 529.5,378.2 530.2,378.1 530.9,378.0 531.6,377.9 532.3,377.8 533.0,377.6 533.7,377.3 534.4,377.0 535.1,376.7 535.8,376.4 536.5,376.3 537.2,376.1 537.9,376.0 538.6,376.0 539.3,376.0 540.0,376.0 540.7,376.0 541.4,376.1 542.1,376.1 542.8,376.1 543.5,375.9 544.2,375.8 544.9,375.5 545.6,375.2 546.3,375.0"/>
<polyline fill="none" stroke="#ceae70" stroke-width="1.9" stroke-linejoin="round" points="553.0,395.9 553.7,397.1 554.4,398.3 555.1,399.5 555.8,400.6 556.5,401.7 557.2,402.8 557.9,403.8 558.6,404.8 559.3,405.8 560.0,406.8 560.7,407.8 561.4,408.8 562.1,409.8 562.8,410.9 563.5,412.1 564.2,413.3 564.9,414.5 565.6,415.7 566.3,416.9 567.0,418.1 567.7,419.6 568.4,421.3 569.1,423.1 569.8,424.6 570.5,425.8 571.2,426.4 571.9,426.3 572.6,425.5 573.3,424.3 574.0,423.1 574.7,422.1 575.4,421.5 576.1,421.0 576.8,420.6 577.5,420.0 578.2,419.2 578.9,418.1 579.6,416.8 580.3,415.2 581.0,413.5 581.7,411.2 582.4,408.3 583.1,405.1 583.8,401.9 584.5,399.2 585.2,397.2 585.9,395.6 586.6,394.0 587.3,392.7 588.0,391.8 588.7,391.3 589.4,391.6 590.1,393.0 590.8,395.2 591.5,397.7 592.2,400.0 592.9,402.7 593.6,405.8 594.3,409.1 595.0,412.7 595.7,416.2 596.4,420.0 597.1,424.6 597.8,429.5 598.5,434.1 599.2,437.7 599.9,439.7 600.6,439.6 601.3,437.9 602.0,435.4 602.7,432.7 603.4,430.4 604.1,427.9 604.8,425.4 605.5,422.9 606.2,420.6 606.9,418.5 607.6,416.5 608.3,414.6 609.0,412.7 609.7,410.7 610.4,408.8 611.1,406.9 611.8,405.0 612.5,403.3 613.2,401.5 613.9,399.8 614.6,398.3 615.3,397.3 616.0,396.8 616.7,396.5 617.4,396.3 618.1,396.2 618.8,396.0 619.5,396.4 620.2,398.0 620.9,399.6 621.6,400.6 622.3,401.5 623.0,402.2 623.7,402.7 624.4,402.9 625.1,402.9 625.8,402.8 626.5,402.7 627.2,402.5 627.9,402.2 628.6,401.9 629.3,401.4 630.0,400.9 630.7,400.4 631.4,399.9 632.1,399.5 632.8,399.2 633.5,399.0 634.2,398.6 634.9,398.1 635.6,396.8 636.3,394.0 637.0,390.6 637.7,387.4 638.4,385.1 639.1,382.8 639.8,380.7 640.5,378.9 641.2,377.8 641.9,376.8 642.6,376.0 643.3,375.4 644.0,374.9 644.7,374.5 645.4,374.4 646.1,374.3 646.8,374.2 647.5,374.3 648.2,374.3 648.9,374.3 649.6,374.4 650.3,374.5 651.0,374.7 651.7,374.9 652.4,375.3 653.1,375.6 653.8,375.9 654.5,376.0 655.2,376.1 655.9,376.0 656.6,375.9 657.3,375.7 658.0,375.6 658.7,375.4 659.4,375.2 660.1,375.0 660.8,374.8 661.5,374.6 662.2,374.4 662.9,374.3 663.6,374.2 664.3,374.2 665.0,374.2 665.7,373.4 666.4,371.8 667.1,370.5 667.8,370.5 668.5,371.3 669.2,372.3 669.9,373.6 670.6,375.0 671.3,376.5 672.0,378.9 672.7,381.9 673.4,384.7 674.1,386.9 674.8,388.0 675.5,387.4 676.2,384.8 676.9,380.9 677.6,376.5 678.3,372.3 679.0,368.8 679.7,365.5 680.4,362.2 681.1,358.9"/>
<polyline fill="none" stroke="#e6b650" stroke-width="1.9" stroke-linejoin="round" points="374.8,416.6 375.5,410.3 376.2,405.5 376.9,403.2 377.6,403.3 378.3,403.8 379.0,404.6 379.7,406.4 380.4,409.7 381.1,414.1 381.8,418.9 382.5,423.9 383.2,428.4 383.9,434.0 384.6,440.2 385.3,445.9 386.0,450.1 386.7,451.8 387.4,450.5 388.1,447.5 388.8,443.5 389.5,439.4 390.2,433.9 390.9,426.7 391.6,420.6 392.3,418.0 393.0,418.1 393.7,418.4 394.4,418.9 395.1,419.4 395.8,419.9 396.5,420.3 397.2,420.8 397.9,421.3 398.6,421.9 399.3,422.4 400.0,422.8 400.7,423.2 401.4,423.6 402.1,423.8 402.8,423.9 403.5,423.7 404.2,423.5 404.9,423.3 405.6,423.4 406.3,423.9 407.0,424.8 407.7,425.8 408.4,426.8 409.1,427.8 409.8,428.9 410.5,429.3 411.2,429.0 411.9,428.4 412.6,427.7 413.3,426.5 414.0,424.8 414.7,423.4 415.4,422.7 416.1,422.2 416.8,421.9 417.5,421.4 418.2,420.8 418.9,420.1 419.6,419.3 420.3,418.4 421.0,417.5 421.7,416.6 422.4,415.7 423.1,414.7 423.8,413.8 424.5,413.0 425.2,412.3 425.9,411.5 426.6,410.7 427.3,410.0 428.0,409.3 428.7,408.7 429.4,408.1 430.1,407.7 430.8,407.2 431.5,406.8 432.2,406.3 432.9,405.7 433.6,405.2 434.3,404.7 435.0,404.3 435.7,404.0 436.4,403.8 437.1,403.6 437.8,403.4 438.5,403.1 439.2,402.8 439.9,402.6 440.6,402.4 441.3,402.3 442.0,402.2 442.7,402.1 443.4,402.0 444.1,401.8 444.8,401.5 445.5,401.2 446.2,400.9 446.9,400.7 447.6,400.5 448.3,400.3 449.0,400.1 449.7,400.0 450.4,399.8 451.1,399.7 451.8,399.6 452.5,399.6 453.2,399.7 453.9,399.8 454.6,399.9 455.3,400.0 456.0,400.1 456.7,400.1 457.4,400.0 458.1,399.9 458.8,399.7 459.5,399.5 460.2,399.4 460.9,399.3 461.6,399.2 462.3,399.1 463.0,399.1 463.7,399.0 464.4,398.9 465.1,398.7 465.8,398.4 466.5,398.1 467.2,397.8 467.9,397.6 468.6,397.4 469.3,397.3 470.0,397.1 470.7,397.0 471.4,396.9 472.1,396.7 472.8,396.6 473.5,396.5 474.2,396.4 474.9,396.3 475.6,396.2 476.3,396.0 477.0,395.8 477.7,395.5 478.4,395.2 479.1,394.9 479.8,394.6 480.5,394.5 481.2,394.4 481.9,394.4 482.6,394.5 483.3,394.5 484.0,394.5 484.7,394.4 485.4,394.3 486.1,394.1 486.8,393.9 487.5,393.7 488.2,393.5 488.9,393.3 489.6,393.1 490.3,392.9 491.0,392.7 491.7,392.4 492.4,392.2 493.1,391.9 493.8,391.7 494.5,391.5 495.2,391.2 495.9,390.9 496.6,390.6 497.3,390.2 498.0,389.8 498.7,389.4 499.4,389.0 500.1,388.5 500.8,388.1 501.5,387.7 502.2,387.3 502.9,387.1 503.6,386.9 504.3,386.8 505.0,386.8 505.7,386.7 506.4,386.5 507.1,386.3 507.8,386.0 508.5,385.7 509.2,385.2 509.9,384.7 510.6,384.3 511.3,383.8 512.0,383.5 512.7,383.2 513.4,382.9 514.1,382.7 514.8,382.6 515.5,382.4 516.2,382.2 516.9,382.1 517.6,382.0 518.3,381.9 519.0,381.8 519.7,381.8 520.4,381.8 521.1,382.0 521.8,382.2 522.5,382.5 523.2,382.7 523.9,382.9 524.6,382.9 525.3,382.9 526.0,382.7 526.7,382.5 527.4,382.2 528.1,382.0 528.8,381.8 529.5,381.6 530.2,381.4 530.9,381.3 531.6,381.2 532.3,381.1 533.0,381.0 533.7,380.9 534.4,380.8 535.1,380.7 535.8,380.5 536.5,380.2 537.2,380.0 537.9,379.7 538.6,379.4 539.3,379.2 540.0,379.1 540.7,379.0 541.4,378.9 542.1,378.9 542.8,378.9 543.5,378.9 544.2,379.0 544.9,379.1 545.6,379.2 546.3,379.2"/>
<polyline fill="none" stroke="#e6b650" stroke-width="1.9" stroke-linejoin="round" points="553.0,401.2 553.7,402.7 554.4,404.2 555.1,405.5 555.8,406.7 556.5,407.9 557.2,409.1 557.9,410.2 558.6,411.1 559.3,412.1 560.0,413.0 560.7,413.9 561.4,414.8 562.1,415.9 562.8,417.0 563.5,418.3 564.2,419.6 564.9,421.0 565.6,422.4 566.3,423.9 567.0,425.4 567.7,427.1 568.4,429.2 569.1,431.3 569.8,433.3 570.5,434.9 571.2,435.9 571.9,436.0 572.6,435.2 573.3,433.8 574.0,432.2 574.7,430.7 575.4,429.6 576.1,428.7 576.8,427.9 577.5,427.1 578.2,426.3 578.9,425.1 579.6,423.8 580.3,422.2 581.0,420.4 581.7,418.1 582.4,415.1 583.1,411.6 583.8,408.2 584.5,405.2 585.2,403.0 585.9,401.0 586.6,399.1 587.3,397.4 588.0,396.1 588.7,395.4 589.4,395.5 590.1,397.0 590.8,399.5 591.5,402.3 592.2,405.1 592.9,408.3 593.6,412.0 594.3,416.0 595.0,420.1 595.7,424.2 596.4,428.5 597.1,433.7 597.8,439.3 598.5,444.5 599.2,448.6 599.9,450.9 600.6,450.7 601.3,448.7 602.0,445.8 602.7,442.6 603.4,439.9 604.1,437.2 604.8,434.4 605.5,431.6 606.2,428.9 606.9,426.5 607.6,424.2 608.3,421.8 609.0,419.5 609.7,417.3 610.4,415.2 611.1,413.2 611.8,411.5 612.5,409.8 613.2,408.1 613.9,406.4 614.6,404.9 615.3,403.8 616.0,403.1 616.7,402.8 617.4,402.7 618.1,402.6 618.8,402.5 619.5,403.1 620.2,405.0 620.9,406.8 621.6,407.7 622.3,408.6 623.0,409.2 623.7,409.5 624.4,409.4 625.1,409.3 625.8,409.1 626.5,409.0 627.2,408.8 627.9,408.5 628.6,408.2 629.3,407.7 630.0,407.0 630.7,406.4 631.4,405.7 632.1,405.2 632.8,404.8 633.5,404.5 634.2,404.1 634.9,403.5 635.6,401.9 636.3,398.6 637.0,394.6 637.7,390.9 638.4,388.2 639.1,385.7 639.8,383.5 640.5,381.7 641.2,380.6 641.9,379.8 642.6,379.1 643.3,378.6 644.0,378.1 644.7,377.8 645.4,377.6 646.1,377.5 646.8,377.4 647.5,377.2 648.2,377.2 648.9,377.1 649.6,377.0 650.3,377.0 651.0,377.1 651.7,377.3 652.4,377.6 653.1,377.8 653.8,377.9 654.5,378.0 655.2,378.0 655.9,378.1 656.6,378.2 657.3,378.4 658.0,378.6 658.7,378.7 659.4,378.7 660.1,378.6 660.8,378.5 661.5,378.3 662.2,378.1 662.9,377.9 663.6,377.7 664.3,377.6 665.0,377.5 665.7,376.5 666.4,374.6 667.1,373.1 667.8,373.1 668.5,374.1 669.2,375.5 669.9,377.2 670.6,379.0 671.3,380.9 672.0,383.5 672.7,386.6 673.4,389.5 674.1,391.9 674.8,393.1 675.5,392.4 676.2,389.5 676.9,385.2 677.6,380.2 678.3,375.5 679.0,371.4 679.7,367.5 680.4,363.5 681.1,359.4"/>
<polyline fill="none" stroke="#f0a440" stroke-width="1.9" stroke-linejoin="round" points="374.8,424.5 375.5,417.5 376.2,412.2 376.9,409.8 377.6,409.9 378.3,410.5 379.0,411.4 379.7,413.5 380.4,417.2 381.1,422.1 381.8,427.4 382.5,432.8 383.2,437.7 383.9,443.8 384.6,450.7 385.3,457.2 386.0,462.1 386.7,464.0 387.4,462.7 388.1,459.3 388.8,454.7 389.5,449.9 390.2,443.4 390.9,435.2 391.6,428.2 392.3,425.2 393.0,425.3 393.7,425.6 394.4,426.1 395.1,426.7 395.8,427.3 396.5,427.8 397.2,428.5 397.9,429.2 398.6,429.9 399.3,430.5 400.0,431.0 400.7,431.5 401.4,431.9 402.1,432.3 402.8,432.4 403.5,432.2 404.2,432.0 404.9,431.7 405.6,431.7 406.3,432.0 407.0,432.7 407.7,433.5 408.4,434.4 409.1,435.3 409.8,436.5 410.5,437.2 411.2,437.2 411.9,436.9 412.6,436.4 413.3,435.3 414.0,433.7 414.7,432.2 415.4,431.2 416.1,430.5 416.8,429.8 417.5,429.0 418.2,428.0 418.9,427.1 419.6,426.1 420.3,425.2 421.0,424.2 421.7,423.2 422.4,422.2 423.1,421.3 423.8,420.4 424.5,419.6 425.2,418.9 425.9,418.2 426.6,417.6 427.3,416.9 428.0,416.3 428.7,415.7 429.4,415.1 430.1,414.5 430.8,414.0 431.5,413.4 432.2,412.9 432.9,412.5 433.6,412.1 434.3,411.7 435.0,411.4 435.7,411.1 436.4,410.8 437.1,410.4 437.8,410.0 438.5,409.5 439.2,409.0 439.9,408.5 440.6,408.1 441.3,407.8 442.0,407.6 442.7,407.4 443.4,407.3 444.1,407.2 444.8,407.1 445.5,407.0 446.2,406.9 446.9,406.8 447.6,406.6 448.3,406.4 449.0,406.2 449.7,405.9 450.4,405.7 451.1,405.6 451.8,405.5 452.5,405.5 453.2,405.6 453.9,405.6 454.6,405.5 455.3,405.3 456.0,405.1 456.7,404.9 457.4,404.6 458.1,404.4 458.8,404.1 459.5,403.9 460.2,403.8 460.9,403.7 461.6,403.7 462.3,403.7 463.0,403.8 463.7,403.9 464.4,403.9 465.1,403.9 465.8,403.8 466.5,403.6 467.2,403.3 467.9,402.9 468.6,402.6 469.3,402.4 470.0,402.2 470.7,402.2 471.4,402.2 472.1,402.3 472.8,402.3 473.5,402.2 474.2,402.0 474.9,401.6 475.6,401.2 476.3,400.8 477.0,400.4 477.7,400.2 478.4,400.1 479.1,400.0 479.8,400.0 480.5,400.1 481.2,400.0 481.9,399.9 482.6,399.6 483.3,399.3 484.0,399.0 484.7,398.7 485.4,398.4 486.1,398.1 486.8,397.8 487.5,397.5 488.2,397.2 488.9,397.1 489.6,397.0 490.3,396.9 491.0,396.9 491.7,396.9 492.4,396.8 493.1,396.7 493.8,396.4 494.5,396.1 495.2,395.6 495.9,395.2 496.6,394.6 497.3,394.1 498.0,393.7 498.7,393.4 499.4,393.1 500.1,392.9 500.8,392.6 501.5,392.3 502.2,391.9 502.9,391.5 503.6,391.1 504.3,390.8 505.0,390.4 505.7,390.1 506.4,389.8 507.1,389.5 507.8,389.2 508.5,388.9 509.2,388.5 509.9,388.0 510.6,387.5 511.3,387.1 512.0,386.8 512.7,386.5 513.4,386.2 514.1,385.9 514.8,385.6 515.5,385.3 516.2,385.1 516.9,385.0 517.6,384.9 518.3,385.0 519.0,385.2 519.7,385.5 520.4,385.8 521.1,386.0 521.8,386.1 522.5,386.2 523.2,386.2 523.9,386.1 524.6,386.0 525.3,385.9 526.0,385.8 526.7,385.7 527.4,385.5 528.1,385.3 528.8,385.0 529.5,384.7 530.2,384.4 530.9,384.2 531.6,383.9 532.3,383.7 533.0,383.5 533.7,383.3 534.4,383.1 535.1,383.0 535.8,382.9 536.5,382.8 537.2,382.9 537.9,382.9 538.6,383.1 539.3,383.1 540.0,383.2 540.7,383.1 541.4,383.0 542.1,382.8 542.8,382.6 543.5,382.5 544.2,382.4 544.9,382.3 545.6,382.3 546.3,382.2"/>
<polyline fill="none" stroke="#f0a440" stroke-width="1.9" stroke-linejoin="round" points="553.0,407.0 553.7,408.6 554.4,410.2 555.1,411.9 555.8,413.5 556.5,415.2 557.2,416.7 557.9,418.1 558.6,419.2 559.3,420.3 560.0,421.2 560.7,422.2 561.4,423.2 562.1,424.4 562.8,425.7 563.5,427.1 564.2,428.6 564.9,430.1 565.6,431.7 566.3,433.2 567.0,434.8 567.7,436.5 568.4,438.6 569.1,440.6 569.8,442.5 570.5,444.0 571.2,444.8 571.9,444.9 572.6,444.0 573.3,442.7 574.0,441.2 574.7,439.9 575.4,439.0 576.1,438.3 576.8,437.6 577.5,436.8 578.2,435.8 578.9,434.4 579.6,432.7 580.3,430.7 581.0,428.5 581.7,425.7 582.4,422.1 583.1,418.2 583.8,414.3 584.5,410.9 585.2,408.4 585.9,406.1 586.6,404.0 587.3,402.2 588.0,401.0 588.7,400.4 589.4,400.8 590.1,402.8 590.8,405.6 591.5,408.9 592.2,412.0 592.9,415.4 593.6,419.2 594.3,423.3 595.0,427.5 595.7,431.8 596.4,436.2 597.1,441.8 597.8,447.8 598.5,453.5 599.2,458.0 599.9,460.6 600.6,460.6 601.3,458.7 602.0,455.7 602.7,452.6 603.4,449.8 604.1,446.9 604.8,443.8 605.5,440.7 606.2,437.7 606.9,434.8 607.6,432.1 608.3,429.3 609.0,426.7 609.7,424.1 610.4,421.6 611.1,419.4 611.8,417.4 612.5,415.7 613.2,413.9 613.9,412.2 614.6,410.7 615.3,409.6 616.0,408.9 616.7,408.5 617.4,408.1 618.1,407.6 618.8,407.3 619.5,407.7 620.2,409.7 620.9,411.7 621.6,412.8 622.3,414.0 623.0,414.9 623.7,415.5 624.4,415.6 625.1,415.5 625.8,415.5 626.5,415.4 627.2,415.2 627.9,415.1 628.6,414.8 629.3,414.3 630.0,413.6 630.7,412.9 631.4,412.1 632.1,411.4 632.8,410.8 633.5,410.4 634.2,410.0 634.9,409.4 635.6,407.8 636.3,404.3 637.0,400.1 637.7,396.1 638.4,393.2 639.1,390.5 639.8,387.9 640.5,385.8 641.2,384.4 641.9,383.2 642.6,382.2 643.3,381.3 644.0,380.7 644.7,380.4 645.4,380.4 646.1,380.4 646.8,380.4 647.5,380.3 648.2,380.2 648.9,380.0 649.6,379.9 650.3,379.9 651.0,380.2 651.7,380.6 652.4,381.1 653.1,381.6 653.8,382.0 654.5,382.3 655.2,382.2 655.9,382.1 656.6,381.8 657.3,381.6 658.0,381.4 658.7,381.3 659.4,381.3 660.1,381.4 660.8,381.4 661.5,381.4 662.2,381.3 662.9,381.2 663.6,380.9 664.3,380.6 665.0,380.4 665.7,379.1 666.4,377.0 667.1,375.4 667.8,375.5 668.5,376.7 669.2,378.5 669.9,380.7 670.6,382.9 671.3,385.1 672.0,388.1 672.7,391.6 673.4,394.9 674.1,397.5 674.8,398.8 675.5,397.8 676.2,394.5 676.9,389.6 677.6,384.1 678.3,378.8 679.0,374.3 679.7,370.0 680.4,365.6 681.1,361.2"/>
<polyline fill="none" stroke="#ec7e3c" stroke-width="1.9" stroke-linejoin="round" points="374.8,431.0 375.5,423.5 376.2,417.7 376.9,415.1 377.6,415.2 378.3,415.8 379.0,416.8 379.7,419.0 380.4,423.1 381.1,428.5 381.8,434.6 382.5,440.7 383.2,446.3 383.9,453.0 384.6,460.6 385.3,467.6 386.0,472.8 386.7,474.8 387.4,473.2 388.1,469.5 388.8,464.5 389.5,459.4 390.2,452.5 390.9,443.7 391.6,436.0 392.3,432.7 393.0,432.7 393.7,432.9 394.4,433.4 395.1,434.0 395.8,434.7 396.5,435.4 397.2,436.2 397.9,437.1 398.6,438.0 399.3,438.7 400.0,439.4 400.7,440.1 401.4,440.7 402.1,441.1 402.8,441.2 403.5,441.0 404.2,440.6 404.9,440.3 405.6,440.2 406.3,440.7 407.0,441.8 407.7,443.0 408.4,444.3 409.1,445.6 409.8,447.1 410.5,447.7 411.2,447.4 411.9,446.6 412.6,445.7 413.3,444.0 414.0,441.8 414.7,439.8 415.4,438.6 416.1,437.7 416.8,436.9 417.5,436.2 418.2,435.3 418.9,434.5 419.6,433.6 420.3,432.8 421.0,431.9 421.7,431.0 422.4,430.1 423.1,429.2 423.8,428.2 424.5,427.2 425.2,426.2 425.9,425.4 426.6,424.5 427.3,423.8 428.0,423.1 428.7,422.5 429.4,421.8 430.1,421.2 430.8,420.5 431.5,419.8 432.2,419.2 432.9,418.6 433.6,418.0 434.3,417.5 435.0,417.1 435.7,416.6 436.4,416.2 437.1,415.7 437.8,415.3 438.5,414.8 439.2,414.4 439.9,413.9 440.6,413.5 441.3,413.2 442.0,413.0 442.7,412.9 443.4,412.9 444.1,412.9 444.8,413.0 445.5,413.0 446.2,413.1 446.9,413.0 447.6,413.0 448.3,412.9 449.0,412.8 449.7,412.7 450.4,412.6 451.1,412.5 451.8,412.4 452.5,412.3 453.2,412.2 453.9,412.1 454.6,411.9 455.3,411.7 456.0,411.3 456.7,410.9 457.4,410.5 458.1,410.2 458.8,409.9 459.5,409.6 460.2,409.5 460.9,409.4 461.6,409.3 462.3,409.2 463.0,409.1 463.7,408.9 464.4,408.7 465.1,408.4 465.8,408.1 466.5,407.8 467.2,407.5 467.9,407.3 468.6,407.1 469.3,406.9 470.0,406.8 470.7,406.7 471.4,406.5 472.1,406.4 472.8,406.2 473.5,406.0 474.2,405.9 474.9,405.7 475.6,405.5 476.3,405.3 477.0,405.1 477.7,404.9 478.4,404.7 479.1,404.4 479.8,404.2 480.5,404.1 481.2,403.9 481.9,403.9 482.6,403.9 483.3,403.9 484.0,403.9 484.7,403.9 485.4,403.8 486.1,403.6 486.8,403.3 487.5,403.0 488.2,402.6 488.9,402.3 489.6,402.0 490.3,401.8 491.0,401.7 491.7,401.7 492.4,401.6 493.1,401.5 493.8,401.3 494.5,401.0 495.2,400.7 495.9,400.4 496.6,399.9 497.3,399.5 498.0,399.1 498.7,398.6 499.4,398.2 500.1,397.7 500.8,397.4 501.5,397.0 502.2,396.7 502.9,396.3 503.6,395.8 504.3,395.2 505.0,394.6 505.7,394.0 506.4,393.4 507.1,392.9 507.8,392.6 508.5,392.3 509.2,392.1 509.9,391.9 510.6,391.7 511.3,391.5 512.0,391.1 512.7,390.7 513.4,390.2 514.1,389.7 514.8,389.3 515.5,389.0 516.2,388.8 516.9,388.8 517.6,388.9 518.3,389.1 519.0,389.2 519.7,389.3 520.4,389.5 521.1,389.6 521.8,389.7 522.5,389.8 523.2,389.7 523.9,389.5 524.6,389.3 525.3,389.0 526.0,388.8 526.7,388.6 527.4,388.5 528.1,388.4 528.8,388.3 529.5,388.3 530.2,388.3 530.9,388.2 531.6,388.0 532.3,387.8 533.0,387.5 533.7,387.1 534.4,386.7 535.1,386.3 535.8,385.9 536.5,385.6 537.2,385.4 537.9,385.4 538.6,385.4 539.3,385.5 540.0,385.7 540.7,385.8 541.4,386.0 542.1,386.2 542.8,386.3 543.5,386.3 544.2,386.3 544.9,386.2 545.6,386.1 546.3,386.0"/>
<polyline fill="none" stroke="#ec7e3c" stroke-width="1.9" stroke-linejoin="round" points="553.0,411.9 553.7,413.6 554.4,415.4 555.1,417.1 555.8,418.7 556.5,420.3 557.2,421.8 557.9,423.1 558.6,424.3 559.3,425.5 560.0,426.7 560.7,428.0 561.4,429.3 562.1,430.7 562.8,432.1 563.5,433.6 564.2,435.2 564.9,436.9 565.6,438.7 566.3,440.6 567.0,442.5 567.7,444.7 568.4,447.1 569.1,449.4 569.8,451.3 570.5,452.6 571.2,453.2 571.9,452.8 572.6,451.6 573.3,449.9 574.0,448.3 574.7,447.0 575.4,446.2 576.1,445.8 576.8,445.4 577.5,444.9 578.2,444.1 578.9,442.8 579.6,441.0 580.3,438.9 581.0,436.5 581.7,433.3 582.4,429.3 583.1,424.9 583.8,420.7 584.5,417.0 585.2,414.3 585.9,411.8 586.6,409.4 587.3,407.3 588.0,405.7 588.7,404.9 589.4,405.2 590.1,407.2 590.8,410.4 591.5,414.1 592.2,417.6 592.9,421.6 593.6,426.1 594.3,430.9 595.0,435.9 595.7,441.0 596.4,446.1 597.1,452.4 597.8,459.0 598.5,465.1 599.2,469.9 599.9,472.5 600.6,472.3 601.3,470.1 602.0,466.7 602.7,463.0 603.4,459.8 604.1,456.4 604.8,452.8 605.5,449.1 606.2,445.5 606.9,442.1 607.6,438.9 608.3,435.8 609.0,432.8 609.7,430.0 610.4,427.4 611.1,425.1 611.8,423.1 612.5,421.2 613.2,419.2 613.9,417.3 614.6,415.6 615.3,414.2 616.0,413.3 616.7,412.9 617.4,412.5 618.1,412.3 618.8,412.2 619.5,413.0 620.2,415.4 620.9,417.8 621.6,419.1 622.3,420.3 623.0,421.3 623.7,421.9 624.4,422.0 625.1,422.0 625.8,421.8 626.5,421.7 627.2,421.6 627.9,421.5 628.6,421.3 629.3,421.0 630.0,420.5 630.7,419.8 631.4,419.1 632.1,418.3 632.8,417.7 633.5,417.2 634.2,416.6 634.9,415.9 635.6,414.0 636.3,410.0 637.0,405.3 637.7,400.8 638.4,397.6 639.1,394.5 639.8,391.6 640.5,389.3 641.2,387.8 641.9,386.7 642.6,385.8 643.3,385.1 644.0,384.6 644.7,384.3 645.4,384.1 646.1,383.8 646.8,383.6 647.5,383.3 648.2,383.1 648.9,383.0 649.6,383.0 650.3,383.0 651.0,383.2 651.7,383.5 652.4,383.9 653.1,384.2 653.8,384.5 654.5,384.7 655.2,384.7 655.9,384.7 656.6,384.8 657.3,384.8 658.0,384.8 658.7,384.8 659.4,384.9 660.1,384.9 660.8,384.9 661.5,385.0 662.2,385.1 662.9,385.0 663.6,384.9 664.3,384.7 665.0,384.3 665.7,382.8 666.4,380.1 667.1,378.0 667.8,377.8 668.5,378.9 669.2,380.7 669.9,382.9 670.6,385.4 671.3,387.9 672.0,391.0 672.7,394.7 673.4,398.2 674.1,401.0 674.8,402.3 675.5,401.3 676.2,397.8 676.9,392.6 677.6,386.8 678.3,381.1 679.0,376.3 679.7,371.6 680.4,366.8 681.1,362.0"/>
<polyline fill="none" stroke="#f0502a" stroke-width="1.9" stroke-linejoin="round" points="374.8,437.9 375.5,429.6 376.2,423.3 376.9,420.4 377.6,420.6 378.3,421.3 379.0,422.2 379.7,424.5 380.4,428.9 381.1,434.7 381.8,441.3 382.5,448.0 383.2,454.2 383.9,461.8 384.6,470.3 385.3,478.2 386.0,483.9 386.7,486.0 387.4,484.2 388.1,479.9 388.8,474.3 389.5,468.6 390.2,461.0 390.9,451.4 391.6,443.0 392.3,439.3 393.0,439.3 393.7,439.6 394.4,440.2 395.1,440.9 395.8,441.8 396.5,442.7 397.2,443.8 397.9,445.0 398.6,446.1 399.3,447.0 400.0,447.8 400.7,448.5 401.4,449.1 402.1,449.4 402.8,449.4 403.5,449.1 404.2,448.6 404.9,448.2 405.6,448.1 406.3,448.5 407.0,449.3 407.7,450.4 408.4,451.4 409.1,452.6 409.8,454.1 410.5,454.8 411.2,454.6 411.9,454.1 412.6,453.3 413.3,451.7 414.0,449.6 414.7,447.6 415.4,446.4 416.1,445.6 416.8,444.9 417.5,444.1 418.2,443.3 418.9,442.4 419.6,441.6 420.3,440.8 421.0,440.0 421.7,439.2 422.4,438.3 423.1,437.3 423.8,436.3 424.5,435.1 425.2,434.0 425.9,432.8 426.6,431.6 427.3,430.4 428.0,429.3 428.7,428.4 429.4,427.5 430.1,426.8 430.8,426.2 431.5,425.8 432.2,425.5 432.9,425.2 433.6,424.9 434.3,424.5 435.0,424.0 435.7,423.4 436.4,422.7 437.1,422.1 437.8,421.6 438.5,421.2 439.2,420.9 439.9,420.6 440.6,420.3 441.3,420.0 442.0,419.6 442.7,419.3 443.4,418.9 444.1,418.6 444.8,418.3 445.5,418.0 446.2,417.7 446.9,417.4 447.6,417.2 448.3,417.0 449.0,416.9 449.7,416.8 450.4,416.8 451.1,416.8 451.8,416.7 452.5,416.7 453.2,416.6 453.9,416.5 454.6,416.5 455.3,416.4 456.0,416.3 456.7,416.2 457.4,416.1 458.1,416.0 458.8,415.9 459.5,415.8 460.2,415.7 460.9,415.5 461.6,415.2 462.3,415.0 463.0,414.8 463.7,414.5 464.4,414.4 465.1,414.3 465.8,414.3 466.5,414.2 467.2,414.2 467.9,414.2 468.6,414.1 469.3,414.0 470.0,413.9 470.7,413.7 471.4,413.5 472.1,413.3 472.8,413.0 473.5,412.7 474.2,412.3 474.9,411.9 475.6,411.6 476.3,411.2 477.0,410.9 477.7,410.6 478.4,410.3 479.1,410.1 479.8,409.9 480.5,409.8 481.2,409.7 481.9,409.6 482.6,409.6 483.3,409.6 484.0,409.5 484.7,409.3 485.4,409.0 486.1,408.6 486.8,408.1 487.5,407.6 488.2,407.1 488.9,406.6 489.6,406.2 490.3,405.8 491.0,405.5 491.7,405.2 492.4,405.0 493.1,404.8 493.8,404.6 494.5,404.4 495.2,404.2 495.9,403.9 496.6,403.6 497.3,403.3 498.0,403.0 498.7,402.7 499.4,402.3 500.1,402.0 500.8,401.5 501.5,401.0 502.2,400.5 502.9,400.0 503.6,399.4 504.3,398.9 505.0,398.4 505.7,397.9 506.4,397.4 507.1,397.0 507.8,396.6 508.5,396.2 509.2,395.8 509.9,395.6 510.6,395.3 511.3,395.1 512.0,394.9 512.7,394.5 513.4,394.1 514.1,393.6 514.8,393.1 515.5,392.7 516.2,392.3 516.9,391.9 517.6,391.7 518.3,391.7 519.0,391.8 519.7,391.9 520.4,392.2 521.1,392.4 521.8,392.7 522.5,392.9 523.2,393.1 523.9,393.1 524.6,393.1 525.3,393.0 526.0,392.9 526.7,392.7 527.4,392.5 528.1,392.4 528.8,392.3 529.5,392.2 530.2,392.1 530.9,392.0 531.6,391.8 532.3,391.4 533.0,391.0 533.7,390.6 534.4,390.1 535.1,389.7 535.8,389.4 536.5,389.2 537.2,389.0 537.9,388.9 538.6,388.7 539.3,388.6 540.0,388.4 540.7,388.2 541.4,388.1 542.1,388.0 542.8,388.0 543.5,388.0 544.2,387.9 544.9,387.9 545.6,387.8 546.3,387.7"/>
<polyline fill="none" stroke="#f0502a" stroke-width="1.9" stroke-linejoin="round" points="553.0,417.5 553.7,419.6 554.4,421.7 555.1,423.6 555.8,425.3 556.5,426.9 557.2,428.4 557.9,429.7 558.6,431.0 559.3,432.3 560.0,433.5 560.7,434.9 561.4,436.3 562.1,437.8 562.8,439.3 563.5,440.9 564.2,442.6 564.9,444.4 565.6,446.4 566.3,448.4 567.0,450.4 567.7,452.8 568.4,455.4 569.1,458.0 569.8,460.4 570.5,462.2 571.2,463.2 571.9,463.2 572.6,462.2 573.3,460.5 574.0,458.7 574.7,457.1 575.4,456.0 576.1,455.2 576.8,454.5 577.5,453.6 578.2,452.5 578.9,450.9 579.6,448.8 580.3,446.4 581.0,443.7 581.7,440.2 582.4,435.9 583.1,431.2 583.8,426.7 584.5,422.8 585.2,420.1 585.9,417.7 586.6,415.4 587.3,413.4 588.0,411.9 588.7,411.2 589.4,411.6 590.1,413.8 590.8,417.3 591.5,421.1 592.2,424.8 592.9,428.8 593.6,433.3 594.3,438.1 595.0,443.2 595.7,448.5 596.4,454.1 597.1,461.0 597.8,468.5 598.5,475.5 599.2,481.1 599.9,484.2 600.6,484.1 601.3,481.7 602.0,477.9 602.7,473.8 603.4,470.3 604.1,466.6 604.8,462.7 605.5,458.8 606.2,454.9 606.9,451.2 607.6,447.7 608.3,444.2 609.0,440.8 609.7,437.7 610.4,434.7 611.1,432.1 611.8,429.8 612.5,427.6 613.2,425.4 613.9,423.3 614.6,421.4 615.3,420.0 616.0,419.3 616.7,419.0 617.4,418.8 618.1,418.7 618.8,418.7 619.5,419.5 620.2,422.1 620.9,424.5 621.6,425.7 622.3,426.7 623.0,427.4 623.7,427.7 624.4,427.4 625.1,427.1 625.8,426.9 626.5,426.7 627.2,426.6 627.9,426.5 628.6,426.4 629.3,426.0 630.0,425.5 630.7,424.8 631.4,424.1 632.1,423.4 632.8,422.8 633.5,422.3 634.2,421.6 634.9,420.8 635.6,418.6 636.3,414.3 637.0,409.0 637.7,404.2 638.4,400.7 639.1,397.4 639.8,394.4 640.5,392.0 641.2,390.6 641.9,389.5 642.6,388.7 643.3,388.0 644.0,387.5 644.7,387.2 645.4,387.0 646.1,386.8 646.8,386.7 647.5,386.7 648.2,386.6 648.9,386.5 649.6,386.5 650.3,386.4 651.0,386.4 651.7,386.7 652.4,387.0 653.1,387.4 653.8,387.8 654.5,388.1 655.2,388.3 655.9,388.3 656.6,388.3 657.3,388.2 658.0,388.1 658.7,388.0 659.4,387.9 660.1,387.8 660.8,387.7 661.5,387.5 662.2,387.3 662.9,387.2 663.6,387.1 664.3,387.1 665.0,387.2 665.7,386.0 666.4,383.5 667.1,381.5 667.8,381.4 668.5,382.4 669.2,384.2 669.9,386.5 670.6,389.0 671.3,391.4 672.0,394.5 672.7,398.2 673.4,401.8 674.1,404.6 674.8,405.9 675.5,404.6 676.2,400.7 676.9,395.0 677.6,388.6 678.3,382.3 679.0,377.1 679.7,372.0 680.4,366.9 681.1,361.8"/>
<polyline fill="none" stroke="#ec1c1c" stroke-width="1.9" stroke-linejoin="round" points="374.8,445.3 375.5,436.3 376.2,429.5 376.9,426.3 377.6,426.4 378.3,427.0 379.0,427.9 379.7,430.3 380.4,434.9 381.1,441.1 381.8,448.0 382.5,455.0 383.2,461.5 383.9,469.5 384.6,478.4 385.3,486.8 386.0,493.1 386.7,495.6 387.4,493.9 388.1,489.6 388.8,483.9 389.5,478.0 390.2,470.0 390.9,459.8 391.6,450.9 392.3,447.2 393.0,447.4 393.7,448.0 394.4,448.9 395.1,449.9 395.8,450.9 396.5,451.7 397.2,452.7 397.9,453.6 398.6,454.5 399.3,455.2 400.0,455.8 400.7,456.3 401.4,456.8 402.1,457.1 402.8,457.1 403.5,456.8 404.2,456.3 404.9,455.9 405.6,455.8 406.3,456.3 407.0,457.3 407.7,458.5 408.4,459.7 409.1,460.9 409.8,462.2 410.5,462.7 411.2,462.1 411.9,461.1 412.6,460.0 413.3,458.2 414.0,455.8 414.7,453.7 415.4,452.5 416.1,451.7 416.8,451.1 417.5,450.5 418.2,449.7 418.9,448.9 419.6,448.0 420.3,447.1 421.0,446.2 421.7,445.2 422.4,444.2 423.1,443.0 423.8,441.8 424.5,440.6 425.2,439.4 425.9,438.2 426.6,437.0 427.3,435.9 428.0,434.9 428.7,433.9 429.4,433.1 430.1,432.4 430.8,431.7 431.5,431.2 432.2,430.7 432.9,430.2 433.6,429.8 434.3,429.4 435.0,429.1 435.7,428.6 436.4,428.2 437.1,427.6 437.8,427.1 438.5,426.6 439.2,426.2 439.9,425.8 440.6,425.6 441.3,425.5 442.0,425.4 442.7,425.3 443.4,425.3 444.1,425.2 444.8,425.0 445.5,424.7 446.2,424.3 446.9,423.8 447.6,423.3 448.3,422.9 449.0,422.5 449.7,422.2 450.4,422.2 451.1,422.2 451.8,422.3 452.5,422.4 453.2,422.4 453.9,422.2 454.6,421.9 455.3,421.4 456.0,420.9 456.7,420.3 457.4,419.7 458.1,419.2 458.8,418.9 459.5,418.7 460.2,418.6 460.9,418.7 461.6,418.8 462.3,419.0 463.0,419.3 463.7,419.5 464.4,419.7 465.1,419.9 465.8,419.9 466.5,419.9 467.2,419.7 467.9,419.5 468.6,419.2 469.3,419.0 470.0,418.7 470.7,418.4 471.4,418.1 472.1,417.9 472.8,417.6 473.5,417.2 474.2,417.0 474.9,416.7 475.6,416.5 476.3,416.4 477.0,416.2 477.7,416.1 478.4,415.9 479.1,415.6 479.8,415.2 480.5,414.7 481.2,414.2 481.9,413.7 482.6,413.1 483.3,412.6 484.0,412.1 484.7,411.6 485.4,411.3 486.1,411.1 486.8,410.9 487.5,410.8 488.2,410.7 488.9,410.6 489.6,410.3 490.3,410.1 491.0,409.8 491.7,409.6 492.4,409.3 493.1,409.1 493.8,408.8 494.5,408.4 495.2,408.0 495.9,407.6 496.6,407.2 497.3,406.8 498.0,406.5 498.7,406.3 499.4,406.1 500.1,405.9 500.8,405.6 501.5,405.2 502.2,404.7 502.9,404.1 503.6,403.6 504.3,403.0 505.0,402.5 505.7,402.0 506.4,401.6 507.1,401.1 507.8,400.7 508.5,400.3 509.2,399.9 509.9,399.6 510.6,399.3 511.3,399.0 512.0,398.6 512.7,398.2 513.4,397.7 514.1,397.1 514.8,396.5 515.5,395.9 516.2,395.4 516.9,395.1 517.6,395.0 518.3,395.2 519.0,395.4 519.7,395.8 520.4,396.0 521.1,396.2 521.8,396.3 522.5,396.2 523.2,396.1 523.9,395.9 524.6,395.8 525.3,395.7 526.0,395.7 526.7,395.8 527.4,395.8 528.1,395.8 528.8,395.7 529.5,395.4 530.2,395.0 530.9,394.4 531.6,393.9 532.3,393.3 533.0,392.8 533.7,392.4 534.4,392.1 535.1,392.0 535.8,391.8 536.5,391.8 537.2,391.7 537.9,391.7 538.6,391.7 539.3,391.6 540.0,391.6 540.7,391.6 541.4,391.5 542.1,391.5 542.8,391.4 543.5,391.3 544.2,391.1 544.9,391.0 545.6,390.8 546.3,390.6"/>
<polyline fill="none" stroke="#ec1c1c" stroke-width="1.9" stroke-linejoin="round" points="553.0,423.4 553.7,425.6 554.4,427.8 555.1,429.8 555.8,431.8 556.5,433.6 557.2,435.4 557.9,437.0 558.6,438.5 559.3,439.9 560.0,441.3 560.7,442.6 561.4,444.0 562.1,445.5 562.8,447.1 563.5,448.9 564.2,450.7 564.9,452.5 565.6,454.4 566.3,456.2 567.0,458.0 567.7,460.1 568.4,462.6 569.1,465.2 569.8,467.7 570.5,469.7 571.2,470.8 571.9,470.9 572.6,469.8 573.3,468.1 574.0,466.2 574.7,464.5 575.4,463.5 576.1,462.8 576.8,462.3 577.5,461.7 578.2,460.8 578.9,459.4 579.6,457.5 580.3,455.1 581.0,452.3 581.7,448.7 582.4,444.1 583.1,439.1 583.8,434.1 584.5,429.8 585.2,426.6 585.9,423.6 586.6,420.7 587.3,418.1 588.0,416.1 588.7,415.1 589.4,415.3 590.1,417.5 590.8,421.1 591.5,425.2 592.2,429.3 592.9,433.9 593.6,439.1 594.3,444.8 595.0,450.7 595.7,456.6 596.4,462.6 597.1,469.9 597.8,477.6 598.5,484.9 599.2,490.6 599.9,493.9 600.6,493.8 601.3,491.2 602.0,487.3 602.7,483.1 603.4,479.4 604.1,475.6 604.8,471.5 605.5,467.4 606.2,463.3 606.9,459.6 607.6,456.0 608.3,452.5 609.0,449.0 609.7,445.6 610.4,442.4 611.1,439.4 611.8,436.8 612.5,434.4 613.2,432.0 613.9,429.8 614.6,427.8 615.3,426.4 616.0,425.7 616.7,425.3 617.4,425.0 618.1,424.7 618.8,424.5 619.5,425.2 620.2,427.9 620.9,430.6 621.6,432.1 622.3,433.6 623.0,434.7 623.7,435.2 624.4,435.1 625.1,434.8 625.8,434.5 626.5,434.2 627.2,434.0 627.9,433.9 628.6,433.7 629.3,433.2 630.0,432.6 630.7,432.0 631.4,431.3 632.1,430.8 632.8,430.3 633.5,429.9 634.2,429.3 634.9,428.5 635.6,426.1 636.3,421.4 637.0,415.7 637.7,410.4 638.4,406.5 639.1,402.7 639.8,399.3 640.5,396.5 641.2,394.7 641.9,393.5 642.6,392.5 643.3,391.7 644.0,391.2 644.7,390.9 645.4,390.7 646.1,390.6 646.8,390.4 647.5,390.1 648.2,389.9 648.9,389.7 649.6,389.5 650.3,389.4 651.0,389.6 651.7,389.9 652.4,390.4 653.1,390.8 653.8,391.1 654.5,391.3 655.2,391.3 655.9,391.2 656.6,391.2 657.3,391.3 658.0,391.4 658.7,391.5 659.4,391.7 660.1,391.8 660.8,391.9 661.5,392.0 662.2,392.0 662.9,391.9 663.6,391.7 664.3,391.4 665.0,390.9 665.7,389.1 666.4,385.9 667.1,383.5 667.8,383.3 668.5,384.6 669.2,386.8 669.9,389.6 670.6,392.5 671.3,395.3 672.0,398.8 672.7,402.9 673.4,407.0 674.1,410.1 674.8,411.6 675.5,410.3 676.2,406.0 676.9,399.8 677.6,392.8 678.3,385.9 679.0,380.1 679.7,374.4 680.4,368.6 681.1,362.7"/>
<line x1="386.7" y1="337" x2="386.7" y2="536" stroke="#28a028" stroke-width="1.8" stroke-dasharray="2.6 2.2"/>
<line x1="464" y1="337" x2="464" y2="427" stroke="#e08a2a" stroke-width="1.8" stroke-dasharray="2.6 2.2"/>
<line x1="522.6" y1="337" x2="522.6" y2="401" stroke="#28a028" stroke-width="1.8" stroke-dasharray="2.6 2.2"/>
<line x1="573.7" y1="338" x2="573.7" y2="498" stroke="#e08a2a" stroke-width="1.8" stroke-dasharray="2.6 2.2"/>
<line x1="600.3" y1="338" x2="600.3" y2="530" stroke="#28a028" stroke-width="1.8" stroke-dasharray="2.6 2.2"/>
<line x1="622.9" y1="338" x2="622.9" y2="441" stroke="#28a028" stroke-width="1.8" stroke-dasharray="2.6 2.2"/>
<line x1="634.4" y1="338" x2="634.4" y2="435" stroke="#28a028" stroke-width="1.8" stroke-dasharray="2.6 2.2"/>
<line x1="674.8" y1="338" x2="674.8" y2="429" stroke="#28a028" stroke-width="1.8" stroke-dasharray="2.6 2.2"/>
<path d="M546.6,337 L374.6,337 L374.6,591.2 L546.6,591.2 M552.4,591.2 L682,591.2 L682,337 L552.4,337" fill="none" stroke="#111" stroke-width="1.25"/>
<path d="M544.2,341.5 L548.8,332.5 M550.2,341.5 L554.8,332.5 M544.2,595.5 L548.8,586.5 M550.2,595.5 L554.8,586.5" stroke="#000" stroke-width="1.3"/>
<line x1="417.5" y1="591.2" x2="417.5" y2="594.6" stroke="#000" stroke-width="1.1"/>
<line x1="461.2" y1="591.2" x2="461.2" y2="593.325" stroke="#000" stroke-width="1.1"/>
<line x1="504" y1="591.2" x2="504" y2="594.6" stroke="#000" stroke-width="1.1"/>
<line x1="588.6" y1="591.2" x2="588.6" y2="594.6" stroke="#000" stroke-width="1.1"/>
<line x1="624.2" y1="591.2" x2="624.2" y2="593.325" stroke="#000" stroke-width="1.1"/>
<line x1="659.9" y1="591.2" x2="659.9" y2="594.6" stroke="#000" stroke-width="1.1"/>
<text x="418.5" y="608.8" class="dt">3,600</text>
<text x="504" y="608.8" class="dt">3,200</text>
<text x="588.6" y="608.8" class="dt">1,600</text>
<text x="660.4" y="608.8" class="dt">1,200</text>
<text x="527.6" y="634.2" class="dx">Wavenumber (cm<tspan dy="-5" font-size="9.5">−1</tspan><tspan dy="5">)</tspan></text>
<text transform="translate(328.7,475.3) rotate(-90)" class="dy" textLength="95" lengthAdjust="spacingAndGlyphs">Intensity (a.u.)</text>
<line x1="359.3" y1="336.3" x2="359.3" y2="413.1" stroke="#000" stroke-width="1.3"/>
<line x1="356.6" y1="336.3" x2="362" y2="336.3" stroke="#000" stroke-width="1.3"/>
<line x1="356.6" y1="413.1" x2="362" y2="413.1" stroke="#000" stroke-width="1.3"/>
<text transform="translate(353.4,375) rotate(-90)" class="ds">0.005</text>
<text transform="translate(471.5,452.9) rotate(-90)" class="dr">δH<tspan font-size="10" dy="4">2</tspan><tspan dy="-4">O</tspan></text>
<text transform="translate(530.4,430) rotate(-90)" class="dr">νNH<tspan font-size="10" dy="-6">+</tspan><tspan font-size="10" dx="-5.6" dy="9.5">4</tspan></text>
<text transform="translate(394,559.5) rotate(-90)" class="dr">νN–H</text>
<text transform="translate(580.8,524) rotate(-90)" class="dr">νO–H</text>
<text transform="translate(610,551.5) rotate(-90)" class="dr">ν<tspan font-size="10" dy="5">as</tspan><tspan dy="-5">NO</tspan><tspan font-size="10" dy="5">2</tspan></text>
<text transform="translate(626,467.5) rotate(-90)" class="dr">δNH<tspan font-size="10" dy="-6">+</tspan><tspan font-size="10" dx="-5.6" dy="9.5">4</tspan></text>
<text transform="translate(647.5,464.4) rotate(-90)" class="dr">ν<tspan font-size="10" dy="5">s</tspan><tspan dy="-5">NO</tspan><tspan font-size="10" dy="5">2</tspan></text>
<text transform="translate(676.3,459) rotate(-90)" class="dr">νN–O</text>
<text x="679.9" y="584.3" class="dv">−0.43 V</text>
<line x1="417.5" y1="503.0" x2="445.5" y2="503.0" stroke="#1414f4" stroke-width="2.2"/>
<text x="448.9" y="507.2" class="dl">0 s</text>
<line x1="417.5" y1="517.8" x2="445.5" y2="517.8" stroke="#1c1ce4" stroke-width="2.2"/>
<text x="448.9" y="522.0" class="dl">10 s</text>
<line x1="417.5" y1="532.6" x2="445.5" y2="532.6" stroke="#2a2ad2" stroke-width="2.2"/>
<text x="448.9" y="536.8" class="dl">20 s</text>
<line x1="417.5" y1="547.4" x2="445.5" y2="547.4" stroke="#5252b4" stroke-width="2.2"/>
<text x="448.9" y="551.6" class="dl">30 s</text>
<line x1="417.5" y1="562.2" x2="445.5" y2="562.2" stroke="#84689c" stroke-width="2.2"/>
<text x="448.9" y="566.4" class="dl">40 s</text>
<line x1="417.5" y1="577.0" x2="445.5" y2="577.0" stroke="#a88c94" stroke-width="2.2"/>
<text x="448.9" y="581.2" class="dl">50 s</text>
<line x1="478.5" y1="487.9" x2="506.3" y2="487.9" stroke="#bc9c84" stroke-width="2.2"/>
<text x="509.4" y="492.1" class="dl">60 s</text>
<line x1="478.5" y1="502.7" x2="506.3" y2="502.7" stroke="#ceae70" stroke-width="2.2"/>
<text x="509.4" y="506.9" class="dl">70 s</text>
<line x1="478.5" y1="517.6" x2="506.3" y2="517.6" stroke="#e6b650" stroke-width="2.2"/>
<text x="509.4" y="521.8" class="dl">80 s</text>
<line x1="478.5" y1="532.4" x2="506.3" y2="532.4" stroke="#f0a440" stroke-width="2.2"/>
<text x="509.4" y="536.6" class="dl">90 s</text>
<line x1="478.5" y1="547.2" x2="506.3" y2="547.2" stroke="#ec7e3c" stroke-width="2.2"/>
<text x="509.4" y="551.4" class="dl">100 s</text>
<line x1="478.5" y1="562.0" x2="506.3" y2="562.0" stroke="#f0502a" stroke-width="2.2"/>
<text x="509.4" y="566.2" class="dl">110 s</text>
<line x1="478.5" y1="576.9" x2="506.3" y2="576.9" stroke="#ec1c1c" stroke-width="2.2"/>
<text x="509.4" y="581.1" class="dl">120 s</text>
</svg>
</body></html>
